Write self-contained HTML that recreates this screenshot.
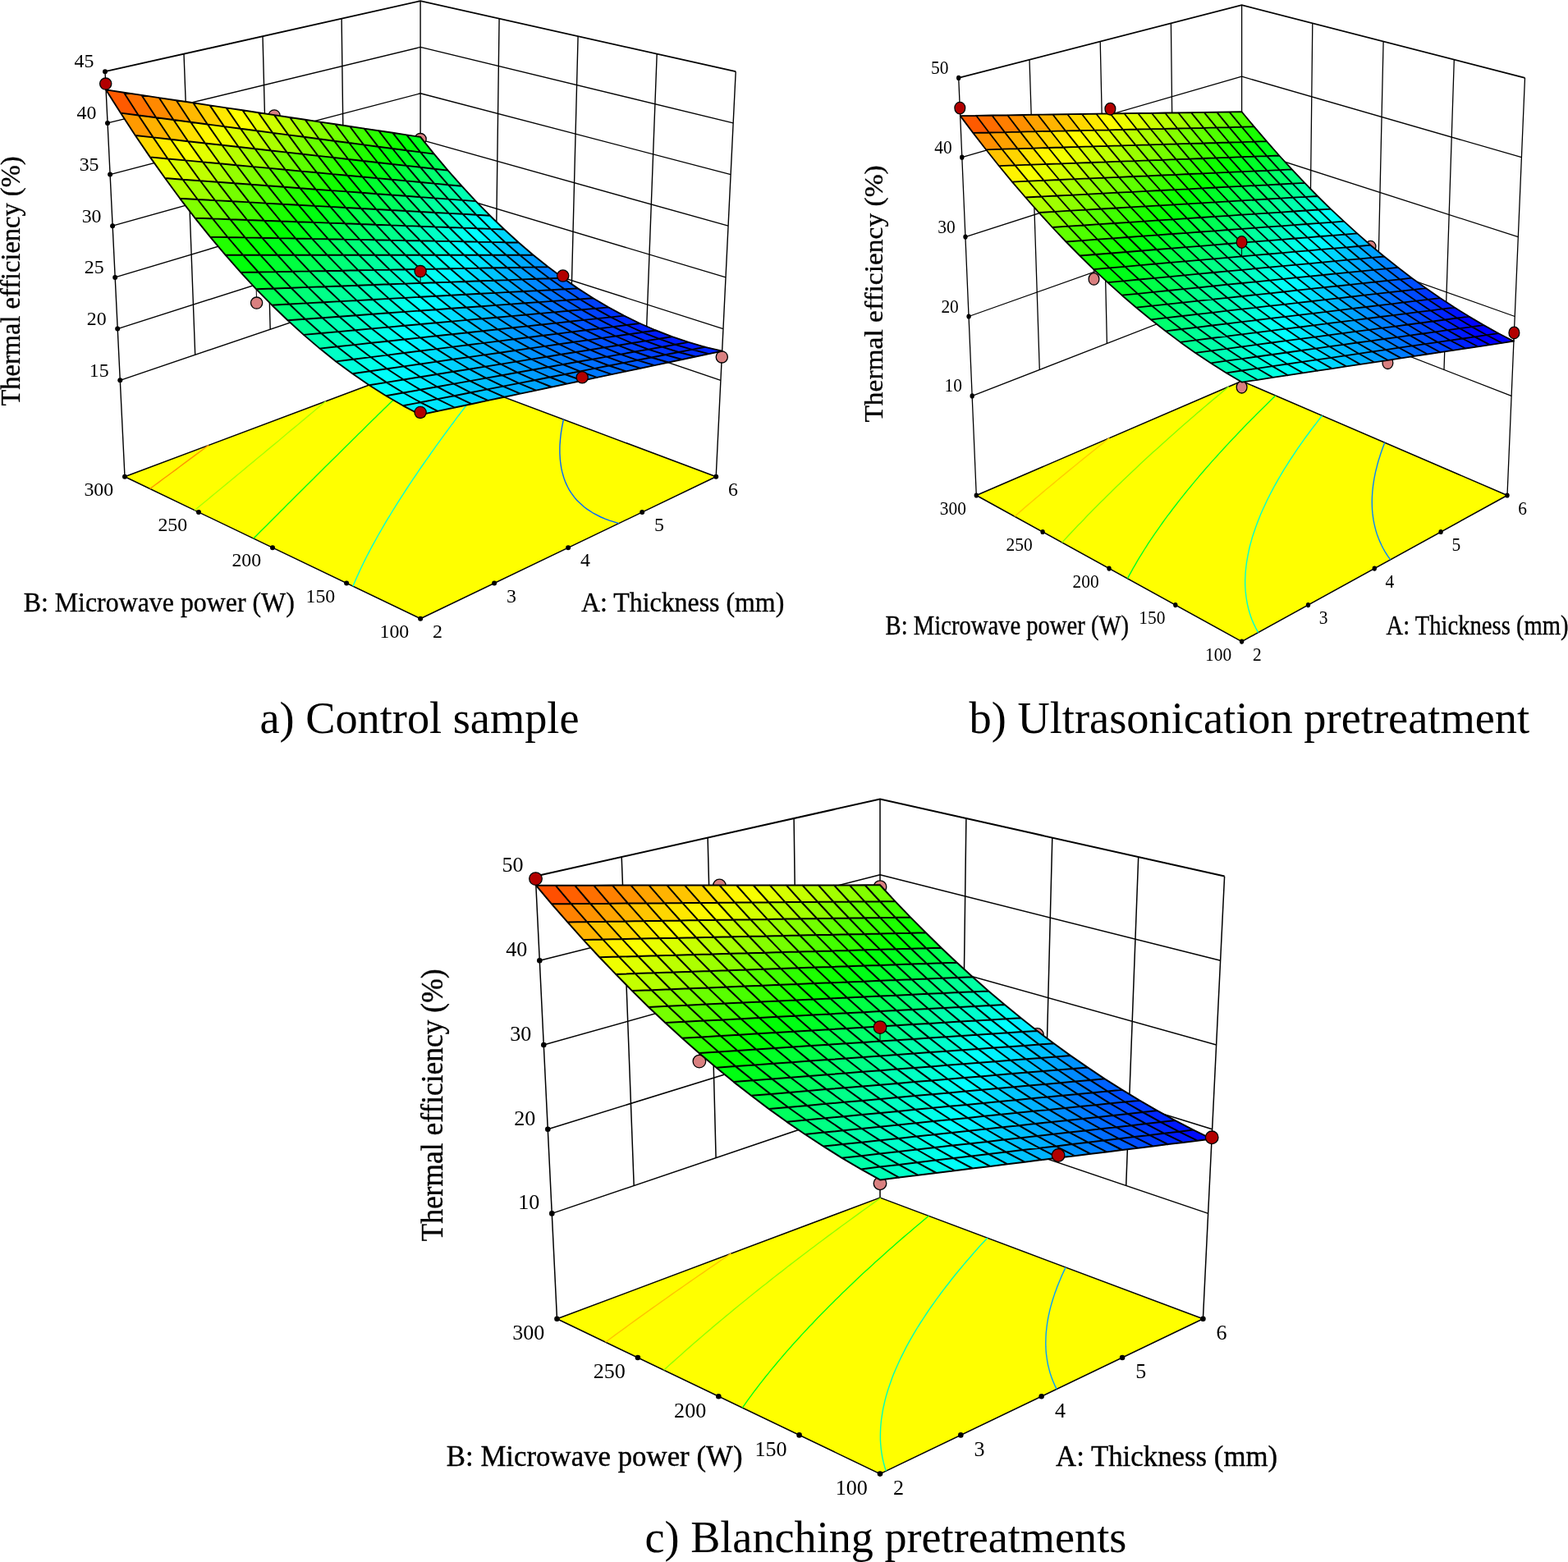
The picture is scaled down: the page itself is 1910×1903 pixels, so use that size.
<!DOCTYPE html>
<html><head><meta charset="utf-8"><title>Thermal efficiency response surfaces</title>
<style>
html,body{margin:0;padding:0;background:#fff}
svg{display:block}
text{font-family:"Liberation Serif","Times New Roman",Times,serif;fill:#000}
.at{stroke:#000;stroke-width:.35px}
</style></head><body>
<svg width="1910" height="1903" viewBox="0 0 1910 1903">
<rect width="1910" height="1903" fill="#fff"/>
<path d="M146.3,463.3 L512.1,339.2 L877.9,463.3 M143.2,400.6 L512.1,282.8 L880.9,400.6 M140.2,337.9 L512.1,226.5 L884,337.9 M137.1,275.2 L512.1,170.1 L887,275.2 M134.1,212.6 L512.1,113.8 L890.1,212.6 M131,149.9 L512.1,57.4 L893.1,149.9" fill="none" stroke="#000" stroke-width="1.4" stroke-linejoin="round"/>
<path d="M128,87.2 L512.1,1.1 L896.2,87.2" fill="none" stroke="#000" stroke-width="1.8" stroke-linejoin="miter"/>
<path d="M237.7,432.2 L224,65.7 M603.5,370.2 L608.1,22.6 M329.2,401.2 L320,44.1 M695,401.2 L704.1,44.1 M420.6,370.2 L416.1,22.6 M786.4,432.2 L800.2,65.7 M128,87.2 L152,580.8 M512.1,1.1 L512.1,445.6 M896.2,87.2 L872.2,580.8" fill="none" stroke="#000" stroke-width="1.4"/>
<polygon points="152,580.8 512.1,445.6 872.2,580.8 512.1,753.7" fill="#ffff00" stroke="#000" stroke-width="1.5" stroke-linejoin="round"/>
<polyline points="753.9,637.6 742.4,634.1 737.1,632.1 732.1,630 723.1,625.5 715.3,620.4 711.7,617.8 705.4,612.1 702.5,609.2 699.5,605.6 695.7,600.3 693.3,596.6 691.5,593.3 689.9,589.9 688.4,586.5 686.9,582.3 685.7,578.2 684.6,574.2 683.8,570.4 683.2,566.6 682.7,562.9 682.3,559.3 682.1,555.8 681.9,552.3 681.9,548.8 681.9,545.5 682,542.1 682.3,538.4 682.6,534.5 683,530.6 683.5,526.7 684.1,523.1 684.6,520 685.2,517 685.8,514 686.4,511" fill="none" stroke="#0065ff" stroke-width="1.4"/>
<polyline points="429.9,714.2 431.6,710.2 433.5,705.8 436,700.2 438.5,694.7 440.3,691 442.1,687.2 444,683.4 446.8,677.8 449.5,672.6 451.4,669 453.3,665.4 455.7,661.1 458.8,655.5 461,651.5 463,648.1 465.1,644.5 468.3,638.9 470.8,634.6 472.8,631.4 474.9,628 478.2,622.5 480.8,618.4 482.8,615.2 485,611.6 488.5,606.2 490.8,602.7 492.7,599.6 495.4,595.5 498.7,590.4 500.8,587.4 502.7,584.4 506.1,579.5 508.7,575.6 510.7,572.7 513.2,569 516.7,564 518.7,561.2 520.7,558.3 524.1,553.5 526.6,549.9 528.6,547.1 531.4,543.2 534.5,538.9 536.5,536.2 538.7,533.1 542.3,528.1 544.3,525.5 546.2,522.8 549.7,518.1 552.1,515 554,512.4 557.1,508.2 559.8,504.7 561.7,502.2 564.5,498.5 567.4,494.7 569.3,492.2 571.8,488.9 575,484.8 576.9,482.4 579.1,479.4 582.5,475.1 584.3,472.7" fill="none" stroke="#00ffd8" stroke-width="1.4"/>
<polyline points="308.8,656.1 311.9,653 318,646.8 321.1,643.8 325.2,639.7 330.1,634.7 333.1,631.7 338.4,626.4 342,622.8 344.9,619.9 350.7,614.1 353.6,611.2 357.8,607.1 362.3,602.6 365.1,599.7 370.4,594.4 373.6,591.3 376.7,588.2 382,583 384.7,580.2 389,575.9 393,572 395.7,569.3 401.1,564 403.8,561.3 407.2,558 411.8,553.4 414.5,550.7 419,546.2 422.3,543 424.9,540.4 430.1,535.3 432.7,532.7 436.4,529 440.4,525.2 442.9,522.7 447.8,517.8 450.4,515.3 453.4,512.3 457.9,507.9 460.3,505.5 464.5,501.4 467.7,498.3 470.1,495.9 474.9,491.2 477.3,488.9 480.8,485.4 484.4,481.9 486.8,479.6 491.5,475 493.8,472.7 496.8,469.8 500.8,465.9 503.1,463.6 507.2,459.6 509.9,456.9 512.3,454.6 516.7,450.3 518.9,448.2" fill="none" stroke="#00ff18" stroke-width="1.4"/>
<polyline points="237.1,621.7 243.9,616 247.3,613.2 253.1,608.5 257.4,604.9 261.5,601.5 267.3,596.7 270.6,594 277.1,588.6 280.3,586 286.2,581.1 289.9,578 294.2,574.5 299.4,570.1 302.5,567.5 308.8,562.4 311.8,559.8 317.6,555 321,552.2 325.2,548.6 330.1,544.6 333.1,542.1 339.1,537.2 342,534.7 347.6,530 350.8,527.3 354.9,523.9 359.5,520.1 362.4,517.7 368.1,512.9 370.9,510.6 376.2,506.1 379.4,503.5 383.2,500.3 387.7,496.5 390.4,494.2 395.9,489.7 396.9,488.8" fill="none" stroke="#a9ff00" stroke-width="1.4"/>
<polyline points="182.6,595.5 189,590.7 193.3,587.6 198.7,583.5 203.9,579.8 208.3,576.5 214.3,572.1 217.7,569.5 224.5,564.4 227.9,561.9 234.7,556.9 238,554.4 244.7,549.5 248,547 254.1,542.4" fill="none" stroke="#ff9500" stroke-width="1.4"/>
<ellipse cx="146.3" cy="463.3" rx="3" ry="3" fill="#000"/>
<ellipse cx="143.2" cy="400.6" rx="3" ry="3" fill="#000"/>
<ellipse cx="140.2" cy="337.9" rx="3" ry="3" fill="#000"/>
<ellipse cx="137.1" cy="275.2" rx="3" ry="3" fill="#000"/>
<ellipse cx="134.1" cy="212.6" rx="3" ry="3" fill="#000"/>
<ellipse cx="131" cy="149.9" rx="3" ry="3" fill="#000"/>
<ellipse cx="128" cy="87.2" rx="3" ry="3" fill="#000"/>
<ellipse cx="512.1" cy="753.7" rx="3" ry="3" fill="#000"/>
<ellipse cx="422.1" cy="710.4" rx="3" ry="3" fill="#000"/>
<ellipse cx="602.1" cy="710.4" rx="3" ry="3" fill="#000"/>
<ellipse cx="332" cy="667.2" rx="3" ry="3" fill="#000"/>
<ellipse cx="692.1" cy="667.2" rx="3" ry="3" fill="#000"/>
<ellipse cx="242" cy="624" rx="3" ry="3" fill="#000"/>
<ellipse cx="782.2" cy="624" rx="3" ry="3" fill="#000"/>
<ellipse cx="152" cy="580.8" rx="3" ry="3" fill="#000"/>
<ellipse cx="872.2" cy="580.8" rx="3" ry="3" fill="#000"/>
<ellipse cx="512.1" cy="169.6" rx="7.1" ry="7.1" fill="#d98080" stroke="#000" stroke-width="1.3"/>
<line x1="879.3" y1="434.9" x2="879.6" y2="427.7" stroke="#000" stroke-width="1"/><ellipse cx="879.3" cy="434.9" rx="7.1" ry="7.1" fill="#d98080" stroke="#000" stroke-width="1.3"/>
<ellipse cx="334.1" cy="140.9" rx="7.1" ry="7.1" fill="#d98080" stroke="#000" stroke-width="1.3"/>
<line x1="312.6" y1="369.1" x2="312.2" y2="352.3" stroke="#000" stroke-width="1"/><ellipse cx="312.6" cy="369.1" rx="7.1" ry="7.1" fill="#d98080" stroke="#000" stroke-width="1.3"/>
<g stroke-width="0.6" stroke-linejoin="round">
<polygon points="512.1,185.4 528.8,187.6 512.1,166.9 495.3,164.4" fill="#00ff1f" stroke="#00ff1f"/>
<polygon points="495.2,183.2 512.1,185.4 495.3,164.4 478.4,161.8" fill="#00ff07" stroke="#00ff07"/>
<polygon points="528.9,205.7 545.6,207.6 528.8,187.6 512.1,185.4" fill="#00ff53" stroke="#00ff53"/>
<polygon points="478,181 495.2,183.2 478.4,161.8 461.2,159.2" fill="#10ff00" stroke="#10ff00"/>
<polygon points="512.1,203.8 528.9,205.7 512.1,185.4 495.2,183.2" fill="#00ff3c" stroke="#00ff3c"/>
<polygon points="545.9,225.2 562.5,226.7 545.6,207.6 528.9,205.7" fill="#00ff84" stroke="#00ff84"/>
<polygon points="460.6,178.7 478,181 461.2,159.2 443.7,156.6" fill="#28ff00" stroke="#28ff00"/>
<polygon points="495,201.9 512.1,203.8 495.2,183.2 478,181" fill="#00ff25" stroke="#00ff25"/>
<polygon points="529.1,223.6 545.9,225.2 528.9,205.7 512.1,203.8" fill="#00ff6e" stroke="#00ff6e"/>
<polygon points="563.1,243.9 579.6,245.1 562.5,226.7 545.9,225.2" fill="#00ffb2" stroke="#00ffb2"/>
<polygon points="477.7,200 495,201.9 478,181 460.6,178.7" fill="#00ff0e" stroke="#00ff0e"/>
<polygon points="512.1,222 529.1,223.6 512.1,203.8 495,201.9" fill="#00ff57" stroke="#00ff57"/>
<polygon points="546.3,242.6 563.1,243.9 545.9,225.2 529.1,223.6" fill="#00ff9c" stroke="#00ff9c"/>
<polygon points="443,176.4 460.6,178.7 443.7,156.6 426.1,154" fill="#40ff00" stroke="#40ff00"/>
<polygon points="580.4,261.8 596.9,262.7 579.6,245.1 563.1,243.9" fill="#00ffdc" stroke="#00ffdc"/>
<polygon points="494.8,220.4 512.1,222 495,201.9 477.7,200" fill="#00ff41" stroke="#00ff41"/>
<polygon points="529.3,241.4 546.3,242.6 529.1,223.6 512.1,222" fill="#00ff86" stroke="#00ff86"/>
<polygon points="425.2,174 443,176.4 426.1,154 408.2,151.3" fill="#58ff00" stroke="#58ff00"/>
<polygon points="460.1,198 477.7,200 460.6,178.7 443,176.4" fill="#09ff00" stroke="#09ff00"/>
<polygon points="563.6,260.8 580.4,261.8 563.1,243.9 546.3,242.6" fill="#00ffc7" stroke="#00ffc7"/>
<polygon points="597.8,278.9 614.3,279.5 596.9,262.7 580.4,261.8" fill="#00fbff" stroke="#00fbff"/>
<polygon points="407.1,171.7 425.2,174 408.2,151.3 390,148.6" fill="#70ff00" stroke="#70ff00"/>
<polygon points="442.3,196 460.1,198 443,176.4 425.2,174" fill="#20ff00" stroke="#20ff00"/>
<polygon points="477.3,218.8 494.8,220.4 477.7,200 460.1,198" fill="#00ff2a" stroke="#00ff2a"/>
<polygon points="512.1,240.1 529.3,241.4 512.1,222 494.8,220.4" fill="#00ff70" stroke="#00ff70"/>
<polygon points="546.7,259.9 563.6,260.8 546.3,242.6 529.3,241.4" fill="#00ffb2" stroke="#00ffb2"/>
<polygon points="581.1,278.3 597.8,278.9 580.4,261.8 563.6,260.8" fill="#00ffef" stroke="#00ffef"/>
<polygon points="615.4,295.2 631.8,295.5 614.3,279.5 597.8,278.9" fill="#00d6ff" stroke="#00d6ff"/>
<polygon points="388.7,169.3 407.1,171.7 390,148.6 371.6,145.8" fill="#87ff00" stroke="#87ff00"/>
<polygon points="424.3,194 442.3,196 425.2,174 407.1,171.7" fill="#37ff00" stroke="#37ff00"/>
<polygon points="459.5,217.1 477.3,218.8 460.1,198 442.3,196" fill="#00ff14" stroke="#00ff14"/>
<polygon points="494.6,238.8 512.1,240.1 494.8,220.4 477.3,218.8" fill="#00ff5b" stroke="#00ff5b"/>
<polygon points="529.5,259 546.7,259.9 529.3,241.4 512.1,240.1" fill="#00ff9d" stroke="#00ff9d"/>
<polygon points="564.2,277.6 581.1,278.3 563.6,260.8 546.7,259.9" fill="#00ffdb" stroke="#00ffdb"/>
<polygon points="598.8,294.9 615.4,295.2 597.8,278.9 581.1,278.3" fill="#00eaff" stroke="#00eaff"/>
<polygon points="633.2,310.7 649.6,310.7 631.8,295.5 615.4,295.2" fill="#00b5ff" stroke="#00b5ff"/>
<polygon points="370.1,166.8 388.7,169.3 371.6,145.8 353,143" fill="#9fff00" stroke="#9fff00"/>
<polygon points="406,191.9 424.3,194 407.1,171.7 388.7,169.3" fill="#4fff00" stroke="#4fff00"/>
<polygon points="441.5,215.5 459.5,217.1 442.3,196 424.3,194" fill="#03ff00" stroke="#03ff00"/>
<polygon points="476.9,237.5 494.6,238.8 477.3,218.8 459.5,217.1" fill="#00ff45" stroke="#00ff45"/>
<polygon points="512.1,258 529.5,259 512.1,240.1 494.6,238.8" fill="#00ff88" stroke="#00ff88"/>
<polygon points="547.1,277 564.2,277.6 546.7,259.9 529.5,259" fill="#00ffc6" stroke="#00ffc6"/>
<polygon points="581.9,294.6 598.8,294.9 581.1,278.3 564.2,277.6" fill="#00feff" stroke="#00feff"/>
<polygon points="616.6,310.7 633.2,310.7 615.4,295.2 598.8,294.9" fill="#00c9ff" stroke="#00c9ff"/>
<polygon points="651.2,325.4 667.5,325.1 649.6,310.7 633.2,310.7" fill="#0098ff" stroke="#0098ff"/>
<polygon points="387.4,189.9 406,191.9 388.7,169.3 370.1,166.8" fill="#66ff00" stroke="#66ff00"/>
<polygon points="423.3,213.8 441.5,215.5 424.3,194 406,191.9" fill="#19ff00" stroke="#19ff00"/>
<polygon points="459,236.2 476.9,237.5 459.5,217.1 441.5,215.5" fill="#00ff2f" stroke="#00ff2f"/>
<polygon points="564.8,294.2 581.9,294.6 564.2,277.6 547.1,277" fill="#00ffec" stroke="#00ffec"/>
<polygon points="599.8,310.7 616.6,310.7 598.8,294.9 581.9,294.6" fill="#00dcff" stroke="#00dcff"/>
<polygon points="634.6,325.7 651.2,325.4 633.2,310.7 616.6,310.7" fill="#00aaff" stroke="#00aaff"/>
<polygon points="351.3,164.4 370.1,166.8 353,143 334,140.1" fill="#b7ff00" stroke="#b7ff00"/>
<polygon points="494.4,257 512.1,258 494.6,238.8 476.9,237.5" fill="#00ff73" stroke="#00ff73"/>
<polygon points="529.7,276.4 547.1,277 529.5,259 512.1,258" fill="#00ffb2" stroke="#00ffb2"/>
<polygon points="669.3,339.2 685.6,338.6 667.5,325.1 651.2,325.4" fill="#007dff" stroke="#007dff"/>
<polygon points="404.8,212.1 423.3,213.8 406,191.9 387.4,189.9" fill="#2fff00" stroke="#2fff00"/>
<polygon points="440.8,234.8 459,236.2 441.5,215.5 423.3,213.8" fill="#00ff19" stroke="#00ff19"/>
<polygon points="582.7,310.7 599.8,310.7 581.9,294.6 564.8,294.2" fill="#00efff" stroke="#00efff"/>
<polygon points="617.8,326 634.6,325.7 616.6,310.7 599.8,310.7" fill="#00bcff" stroke="#00bcff"/>
<polygon points="332.1,161.9 351.3,164.4 334,140.1 314.8,137.3" fill="#cfff00" stroke="#cfff00"/>
<polygon points="368.6,187.8 387.4,189.9 370.1,166.8 351.3,164.4" fill="#7dff00" stroke="#7dff00"/>
<polygon points="476.5,256 494.4,257 476.9,237.5 459,236.2" fill="#00ff5e" stroke="#00ff5e"/>
<polygon points="512.1,275.7 529.7,276.4 512.1,258 494.4,257" fill="#00ff9d" stroke="#00ff9d"/>
<polygon points="547.5,293.9 564.8,294.2 547.1,277 529.7,276.4" fill="#00ffd9" stroke="#00ffd9"/>
<polygon points="652.8,339.8 669.3,339.2 651.2,325.4 634.6,325.7" fill="#008fff" stroke="#008fff"/>
<polygon points="687.7,352.3 703.9,351.4 685.6,338.6 669.3,339.2" fill="#0066ff" stroke="#0066ff"/>
<polygon points="422.3,233.4 440.8,234.8 423.3,213.8 404.8,212.1" fill="#00ff04" stroke="#00ff04"/>
<polygon points="600.8,326.3 617.8,326 599.8,310.7 582.7,310.7" fill="#00cfff" stroke="#00cfff"/>
<polygon points="386,210.3 404.8,212.1 387.4,189.9 368.6,187.8" fill="#46ff00" stroke="#46ff00"/>
<polygon points="458.4,255 476.5,256 459,236.2 440.8,234.8" fill="#00ff49" stroke="#00ff49"/>
<polygon points="494.2,275.1 512.1,275.7 494.4,257 476.5,256" fill="#00ff89" stroke="#00ff89"/>
<polygon points="529.9,293.6 547.5,293.9 529.7,276.4 512.1,275.7" fill="#00ffc5" stroke="#00ffc5"/>
<polygon points="565.4,310.7 582.7,310.7 564.8,294.2 547.5,293.9" fill="#00fffc" stroke="#00fffc"/>
<polygon points="636,340.4 652.8,339.8 634.6,325.7 617.8,326" fill="#00a0ff" stroke="#00a0ff"/>
<polygon points="312.7,159.3 332.1,161.9 314.8,137.3 295.4,134.3" fill="#e6ff00" stroke="#e6ff00"/>
<polygon points="349.5,185.6 368.6,187.8 351.3,164.4 332.1,161.9" fill="#94ff00" stroke="#94ff00"/>
<polygon points="671.2,353.2 687.7,352.3 669.3,339.2 652.8,339.8" fill="#0077ff" stroke="#0077ff"/>
<polygon points="706.2,364.5 722.5,363.3 703.9,351.4 687.7,352.3" fill="#0051ff" stroke="#0051ff"/>
<polygon points="293,156.7 312.7,159.3 295.4,134.3 275.6,131.4" fill="#feff00" stroke="#feff00"/>
<polygon points="330.2,183.5 349.5,185.6 332.1,161.9 312.7,159.3" fill="#abff00" stroke="#abff00"/>
<polygon points="367,208.6 386,210.3 368.6,187.8 349.5,185.6" fill="#5cff00" stroke="#5cff00"/>
<polygon points="403.6,232.1 422.3,233.4 404.8,212.1 386,210.3" fill="#12ff00" stroke="#12ff00"/>
<polygon points="440,254 458.4,255 440.8,234.8 422.3,233.4" fill="#00ff34" stroke="#00ff34"/>
<polygon points="476.1,274.4 494.2,275.1 476.5,256 458.4,255" fill="#00ff75" stroke="#00ff75"/>
<polygon points="512.1,293.3 529.9,293.6 512.1,275.7 494.2,275.1" fill="#00ffb1" stroke="#00ffb1"/>
<polygon points="547.9,310.7 565.4,310.7 547.5,293.9 529.9,293.6" fill="#00ffe9" stroke="#00ffe9"/>
<polygon points="583.5,326.6 600.8,326.3 582.7,310.7 565.4,310.7" fill="#00e1ff" stroke="#00e1ff"/>
<polygon points="619,341.1 636,340.4 617.8,326 600.8,326.3" fill="#00b2ff" stroke="#00b2ff"/>
<polygon points="654.4,354.1 671.2,353.2 652.8,339.8 636,340.4" fill="#0088ff" stroke="#0088ff"/>
<polygon points="689.7,365.7 706.2,364.5 687.7,352.3 671.2,353.2" fill="#0062ff" stroke="#0062ff"/>
<polygon points="725,375.9 741.2,374.4 722.5,363.3 706.2,364.5" fill="#0040ff" stroke="#0040ff"/>
<polygon points="457.8,273.7 476.1,274.4 458.4,255 440,254" fill="#00ff60" stroke="#00ff60"/>
<polygon points="494,293 512.1,293.3 494.2,275.1 476.1,274.4" fill="#00ff9e" stroke="#00ff9e"/>
<polygon points="530.1,310.7 547.9,310.7 529.9,293.6 512.1,293.3" fill="#00ffd6" stroke="#00ffd6"/>
<polygon points="566,326.9 583.5,326.6 565.4,310.7 547.9,310.7" fill="#00f4ff" stroke="#00f4ff"/>
<polygon points="273.1,154.1 293,156.7 275.6,131.4 255.6,128.4" fill="#ffe800" stroke="#ffe800"/>
<polygon points="310.5,181.3 330.2,183.5 312.7,159.3 293,156.7" fill="#c2ff00" stroke="#c2ff00"/>
<polygon points="347.7,206.8 367,208.6 349.5,185.6 330.2,183.5" fill="#73ff00" stroke="#73ff00"/>
<polygon points="384.6,230.7 403.6,232.1 386,210.3 367,208.6" fill="#28ff00" stroke="#28ff00"/>
<polygon points="421.3,253 440,254 422.3,233.4 403.6,232.1" fill="#00ff1f" stroke="#00ff1f"/>
<polygon points="601.8,341.7 619,341.1 600.8,326.3 583.5,326.6" fill="#00c4ff" stroke="#00c4ff"/>
<polygon points="637.5,355 654.4,354.1 636,340.4 619,341.1" fill="#0099ff" stroke="#0099ff"/>
<polygon points="673.1,366.9 689.7,365.7 671.2,353.2 654.4,354.1" fill="#0072ff" stroke="#0072ff"/>
<polygon points="708.6,377.3 725,375.9 706.2,364.5 689.7,365.7" fill="#0050ff" stroke="#0050ff"/>
<polygon points="744,386.4 760.2,384.6 741.2,374.4 725,375.9" fill="#0032ff" stroke="#0032ff"/>
<polygon points="290.6,179 310.5,181.3 293,156.7 273.1,154.1" fill="#d9ff00" stroke="#d9ff00"/>
<polygon points="328.1,204.9 347.7,206.8 330.2,183.5 310.5,181.3" fill="#89ff00" stroke="#89ff00"/>
<polygon points="365.4,229.2 384.6,230.7 367,208.6 347.7,206.8" fill="#3eff00" stroke="#3eff00"/>
<polygon points="475.7,292.6 494,293 476.1,274.4 457.8,273.7" fill="#00ff8a" stroke="#00ff8a"/>
<polygon points="512.1,310.7 530.1,310.7 512.1,293.3 494,293" fill="#00ffc3" stroke="#00ffc3"/>
<polygon points="548.3,327.2 566,326.9 547.9,310.7 530.1,310.7" fill="#00fff8" stroke="#00fff8"/>
<polygon points="656.1,368.1 673.1,366.9 654.4,354.1 637.5,355" fill="#0082ff" stroke="#0082ff"/>
<polygon points="691.9,378.8 708.6,377.3 689.7,365.7 673.1,366.9" fill="#0060ff" stroke="#0060ff"/>
<polygon points="727.6,388.1 744,386.4 725,375.9 708.6,377.3" fill="#0041ff" stroke="#0041ff"/>
<polygon points="252.8,151.5 273.1,154.1 255.6,128.4 235.3,125.3" fill="#ffd000" stroke="#ffd000"/>
<polygon points="439.2,273 457.8,273.7 440,254 421.3,253" fill="#00ff4c" stroke="#00ff4c"/>
<polygon points="584.4,342.3 601.8,341.7 583.5,326.6 566,326.9" fill="#00d6ff" stroke="#00d6ff"/>
<polygon points="763.3,396 779.4,394 760.2,384.6 744,386.4" fill="#0028ff" stroke="#0028ff"/>
<polygon points="402.4,251.9 421.3,253 403.6,232.1 384.6,230.7" fill="#00ff09" stroke="#00ff09"/>
<polygon points="620.3,355.9 637.5,355 619,341.1 601.8,341.7" fill="#00aaff" stroke="#00aaff"/>
<polygon points="493.8,310.7 512.1,310.7 494,293 475.7,292.6" fill="#00ffb0" stroke="#00ffb0"/>
<polygon points="530.3,327.6 548.3,327.2 530.1,310.7 512.1,310.7" fill="#00ffe6" stroke="#00ffe6"/>
<polygon points="308.3,203.1 328.1,204.9 310.5,181.3 290.6,179" fill="#9fff00" stroke="#9fff00"/>
<polygon points="345.9,227.8 365.4,229.2 347.7,206.8 328.1,204.9" fill="#53ff00" stroke="#53ff00"/>
<polygon points="675,380.4 691.9,378.8 673.1,366.9 656.1,368.1" fill="#006fff" stroke="#006fff"/>
<polygon points="711,389.9 727.6,388.1 708.6,377.3 691.9,378.8" fill="#0050ff" stroke="#0050ff"/>
<polygon points="270.4,176.8 290.6,179 273.1,154.1 252.8,151.5" fill="#f0ff00" stroke="#f0ff00"/>
<polygon points="457.1,292.3 475.7,292.6 457.8,273.7 439.2,273" fill="#00ff76" stroke="#00ff76"/>
<polygon points="566.7,343 584.4,342.3 566,326.9 548.3,327.2" fill="#00e7ff" stroke="#00e7ff"/>
<polygon points="746.9,398.1 763.3,396 744,386.4 727.6,388.1" fill="#0036ff" stroke="#0036ff"/>
<polygon points="383.2,250.9 402.4,251.9 384.6,230.7 365.4,229.2" fill="#0cff00" stroke="#0cff00"/>
<polygon points="420.3,272.3 439.2,273 421.3,253 402.4,251.9" fill="#00ff38" stroke="#00ff38"/>
<polygon points="602.9,356.9 620.3,355.9 601.8,341.7 584.4,342.3" fill="#00bbff" stroke="#00bbff"/>
<polygon points="639,369.3 656.1,368.1 637.5,355 620.3,355.9" fill="#0093ff" stroke="#0093ff"/>
<polygon points="232.2,148.8 252.8,151.5 235.3,125.3 214.7,122.2" fill="#ffb900" stroke="#ffb900"/>
<polygon points="782.8,404.8 798.9,402.5 779.4,394 763.3,396" fill="#0020ff" stroke="#0020ff"/>
<polygon points="512.1,327.9 530.3,327.6 512.1,310.7 493.8,310.7" fill="#00ffd3" stroke="#00ffd3"/>
<polygon points="326.1,226.3 345.9,227.8 328.1,204.9 308.3,203.1" fill="#69ff00" stroke="#69ff00"/>
<polygon points="694.1,391.8 711,389.9 691.9,378.8 675,380.4" fill="#005fff" stroke="#005fff"/>
<polygon points="211.4,146 232.2,148.8 214.7,122.2 193.7,119.1" fill="#ffa100" stroke="#ffa100"/>
<polygon points="288.1,201.2 308.3,203.1 290.6,179 270.4,176.8" fill="#b6ff00" stroke="#b6ff00"/>
<polygon points="475.3,310.7 493.8,310.7 475.7,292.6 457.1,292.3" fill="#00ff9d" stroke="#00ff9d"/>
<polygon points="548.7,343.6 566.7,343 548.3,327.2 530.3,327.6" fill="#00f9ff" stroke="#00f9ff"/>
<polygon points="730.3,400.2 746.9,398.1 727.6,388.1 711,389.9" fill="#0044ff" stroke="#0044ff"/>
<polygon points="802.5,412.7 818.6,410.2 798.9,402.5 782.8,404.8" fill="#001cff" stroke="#001cff"/>
<polygon points="363.7,249.8 383.2,250.9 365.4,229.2 345.9,227.8" fill="#21ff00" stroke="#21ff00"/>
<polygon points="401.1,271.6 420.3,272.3 402.4,251.9 383.2,250.9" fill="#00ff23" stroke="#00ff23"/>
<polygon points="438.3,291.9 457.1,292.3 439.2,273 420.3,272.3" fill="#00ff62" stroke="#00ff62"/>
<polygon points="585.2,357.8 602.9,356.9 584.4,342.3 566.7,343" fill="#00ccff" stroke="#00ccff"/>
<polygon points="621.6,370.6 639,369.3 620.3,355.9 602.9,356.9" fill="#00a3ff" stroke="#00a3ff"/>
<polygon points="657.9,381.9 675,380.4 656.1,368.1 639,369.3" fill="#007fff" stroke="#007fff"/>
<polygon points="249.9,174.5 270.4,176.8 252.8,151.5 232.2,148.8" fill="#fff700" stroke="#fff700"/>
<polygon points="766.4,407.2 782.8,404.8 763.3,396 746.9,398.1" fill="#002eff" stroke="#002eff"/>
<polygon points="229.1,172.2 249.9,174.5 232.2,148.8 211.4,146" fill="#ffe000" stroke="#ffe000"/>
<polygon points="306,224.8 326.1,226.3 308.3,203.1 288.1,201.2" fill="#7fff00" stroke="#7fff00"/>
<polygon points="493.6,328.2 512.1,327.9 493.8,310.7 475.3,310.7" fill="#00ffc1" stroke="#00ffc1"/>
<polygon points="530.5,344.3 548.7,343.6 530.3,327.6 512.1,327.9" fill="#00fff3" stroke="#00fff3"/>
<polygon points="713.5,402.3 730.3,400.2 711,389.9 694.1,391.8" fill="#0053ff" stroke="#0053ff"/>
<polygon points="786.2,415.4 802.5,412.7 782.8,404.8 766.4,407.2" fill="#0029ff" stroke="#0029ff"/>
<polygon points="344,248.7 363.7,249.8 345.9,227.8 326.1,226.3" fill="#36ff00" stroke="#36ff00"/>
<polygon points="381.7,270.9 401.1,271.6 383.2,250.9 363.7,249.8" fill="#00ff0f" stroke="#00ff0f"/>
<polygon points="419.2,291.6 438.3,291.9 420.3,272.3 401.1,271.6" fill="#00ff4f" stroke="#00ff4f"/>
<polygon points="456.5,310.7 475.3,310.7 457.1,292.3 438.3,291.9" fill="#00ff8a" stroke="#00ff8a"/>
<polygon points="567.3,358.8 585.2,357.8 566.7,343 548.7,343.6" fill="#00ddff" stroke="#00ddff"/>
<polygon points="604,371.9 621.6,370.6 602.9,356.9 585.2,357.8" fill="#00b3ff" stroke="#00b3ff"/>
<polygon points="640.6,383.5 657.9,381.9 639,369.3 621.6,370.6" fill="#008fff" stroke="#008fff"/>
<polygon points="677,393.6 694.1,391.8 675,380.4 657.9,381.9" fill="#006eff" stroke="#006eff"/>
<polygon points="190.2,143.3 211.4,146 193.7,119.1 172.5,115.9" fill="#ff8900" stroke="#ff8900"/>
<polygon points="267.7,199.3 288.1,201.2 270.4,176.8 249.9,174.5" fill="#ccff00" stroke="#ccff00"/>
<polygon points="749.9,409.5 766.4,407.2 746.9,398.1 730.3,400.2" fill="#003bff" stroke="#003bff"/>
<polygon points="822.6,419.8 838.7,416.9 818.6,410.2 802.5,412.7" fill="#001bff" stroke="#001bff"/>
<polygon points="247,197.4 267.7,199.3 249.9,174.5 229.1,172.2" fill="#e3ff00" stroke="#e3ff00"/>
<polygon points="769.7,418 786.2,415.4 766.4,407.2 749.9,409.5" fill="#0036ff" stroke="#0036ff"/>
<polygon points="362,270.2 381.7,270.9 363.7,249.8 344,248.7" fill="#06ff00" stroke="#06ff00"/>
<polygon points="399.8,291.2 419.2,291.6 401.1,271.6 381.7,270.9" fill="#00ff3b" stroke="#00ff3b"/>
<polygon points="437.4,310.7 456.5,310.7 438.3,291.9 419.2,291.6" fill="#00ff77" stroke="#00ff77"/>
<polygon points="474.8,328.6 493.6,328.2 475.3,310.7 456.5,310.7" fill="#00ffaf" stroke="#00ffaf"/>
<polygon points="549.2,359.8 567.3,358.8 548.7,343.6 530.5,344.3" fill="#00eeff" stroke="#00eeff"/>
<polygon points="586.1,373.2 604,371.9 585.2,357.8 567.3,358.8" fill="#00c4ff" stroke="#00c4ff"/>
<polygon points="623,385.1 640.6,383.5 621.6,370.6 604,371.9" fill="#009eff" stroke="#009eff"/>
<polygon points="659.7,395.5 677,393.6 657.9,381.9 640.6,383.5" fill="#007dff" stroke="#007dff"/>
<polygon points="208,169.8 229.1,172.2 211.4,146 190.2,143.3" fill="#ffc900" stroke="#ffc900"/>
<polygon points="285.6,223.3 306,224.8 288.1,201.2 267.7,199.3" fill="#94ff00" stroke="#94ff00"/>
<polygon points="323.9,247.6 344,248.7 326.1,226.3 306,224.8" fill="#4bff00" stroke="#4bff00"/>
<polygon points="512.1,345 530.5,344.3 512.1,327.9 493.6,328.2" fill="#00ffe2" stroke="#00ffe2"/>
<polygon points="696.4,404.4 713.5,402.3 694.1,391.8 677,393.6" fill="#0061ff" stroke="#0061ff"/>
<polygon points="733.1,411.9 749.9,409.5 730.3,400.2 713.5,402.3" fill="#0049ff" stroke="#0049ff"/>
<polygon points="806.3,422.7 822.6,419.8 802.5,412.7 786.2,415.4" fill="#0027ff" stroke="#0027ff"/>
<polygon points="168.7,140.5 190.2,143.3 172.5,115.9 150.9,112.7" fill="#ff7100" stroke="#ff7100"/>
<polygon points="843,425.9 859,422.8 838.7,416.9 822.6,419.8" fill="#001dff" stroke="#001dff"/>
<polygon points="264.9,221.8 285.6,223.3 267.7,199.3 247,197.4" fill="#aaff00" stroke="#aaff00"/>
<polygon points="752.9,420.7 769.7,418 749.9,409.5 733.1,411.9" fill="#0043ff" stroke="#0043ff"/>
<polygon points="380.2,290.9 399.8,291.2 381.7,270.9 362,270.2" fill="#00ff27" stroke="#00ff27"/>
<polygon points="418.1,310.7 437.4,310.7 419.2,291.6 399.8,291.2" fill="#00ff64" stroke="#00ff64"/>
<polygon points="455.8,328.9 474.8,328.6 456.5,310.7 437.4,310.7" fill="#00ff9c" stroke="#00ff9c"/>
<polygon points="568,374.5 586.1,373.2 567.3,358.8 549.2,359.8" fill="#00d4ff" stroke="#00d4ff"/>
<polygon points="605.1,386.7 623,385.1 604,371.9 586.1,373.2" fill="#00aeff" stroke="#00aeff"/>
<polygon points="642.2,397.4 659.7,395.5 640.6,383.5 623,385.1" fill="#008cff" stroke="#008cff"/>
<polygon points="146.9,137.6 168.7,140.5 150.9,112.7 129.1,109.4" fill="#ff5a00" stroke="#ff5a00"/>
<polygon points="225.9,195.4 247,197.4 229.1,172.2 208,169.8" fill="#f9ff00" stroke="#f9ff00"/>
<polygon points="342,269.5 362,270.2 344,248.7 323.9,247.6" fill="#1aff00" stroke="#1aff00"/>
<polygon points="679.1,406.6 696.4,404.4 677,393.6 659.7,395.5" fill="#006fff" stroke="#006fff"/>
<polygon points="789.8,425.6 806.3,422.7 786.2,415.4 769.7,418" fill="#0033ff" stroke="#0033ff"/>
<polygon points="863.6,431.1 879.6,427.7 859,422.8 843,425.9" fill="#0022ff" stroke="#0022ff"/>
<polygon points="493.4,345.6 512.1,345 493.6,328.2 474.8,328.6" fill="#00ffd0" stroke="#00ffd0"/>
<polygon points="530.8,360.8 549.2,359.8 530.5,344.3 512.1,345" fill="#00ffff" stroke="#00ffff"/>
<polygon points="186.6,167.4 208,169.8 190.2,143.3 168.7,140.5" fill="#ffb100" stroke="#ffb100"/>
<polygon points="303.6,246.4 323.9,247.6 306,224.8 285.6,223.3" fill="#60ff00" stroke="#60ff00"/>
<polygon points="716,414.4 733.1,411.9 713.5,402.3 696.4,404.4" fill="#0057ff" stroke="#0057ff"/>
<polygon points="826.7,429 843,425.9 822.6,419.8 806.3,422.7" fill="#0028ff" stroke="#0028ff"/>
<polygon points="398.5,310.7 418.1,310.7 399.8,291.2 380.2,290.9" fill="#00ff51" stroke="#00ff51"/>
<polygon points="436.5,329.3 455.8,328.9 437.4,310.7 418.1,310.7" fill="#00ff8a" stroke="#00ff8a"/>
<polygon points="587,388.3 605.1,386.7 586.1,373.2 568,374.5" fill="#00beff" stroke="#00beff"/>
<polygon points="624.4,399.3 642.2,397.4 623,385.1 605.1,386.7" fill="#009bff" stroke="#009bff"/>
<polygon points="164.8,165 186.6,167.4 168.7,140.5 146.9,137.6" fill="#ff9a00" stroke="#ff9a00"/>
<polygon points="243.9,220.2 264.9,221.8 247,197.4 225.9,195.4" fill="#c0ff00" stroke="#c0ff00"/>
<polygon points="283,245.3 303.6,246.4 285.6,223.3 264.9,221.8" fill="#75ff00" stroke="#75ff00"/>
<polygon points="360.2,290.5 380.2,290.9 362,270.2 342,269.5" fill="#00ff14" stroke="#00ff14"/>
<polygon points="661.6,408.8 679.1,406.6 659.7,395.5 642.2,397.4" fill="#007eff" stroke="#007eff"/>
<polygon points="735.9,423.4 752.9,420.7 733.1,411.9 716,414.4" fill="#0050ff" stroke="#0050ff"/>
<polygon points="773.1,428.5 789.8,425.6 769.7,418 752.9,420.7" fill="#0040ff" stroke="#0040ff"/>
<polygon points="847.4,434.5 863.6,431.1 843,425.9 826.7,429" fill="#002dff" stroke="#002dff"/>
<polygon points="474.4,346.3 493.4,345.6 474.8,328.6 455.8,328.9" fill="#00ffbe" stroke="#00ffbe"/>
<polygon points="549.6,375.8 568,374.5 549.2,359.8 530.8,360.8" fill="#00e4ff" stroke="#00e4ff"/>
<polygon points="204.5,193.5 225.9,195.4 208,169.8 186.6,167.4" fill="#ffee00" stroke="#ffee00"/>
<polygon points="321.7,268.7 342,269.5 323.9,247.6 303.6,246.4" fill="#2eff00" stroke="#2eff00"/>
<polygon points="512.1,361.8 530.8,360.8 512.1,345 493.4,345.6" fill="#00ffee" stroke="#00ffee"/>
<polygon points="698.8,416.8 716,414.4 696.4,404.4 679.1,406.6" fill="#0064ff" stroke="#0064ff"/>
<polygon points="810.2,432.2 826.7,429 806.3,422.7 789.8,425.6" fill="#0034ff" stroke="#0034ff"/>
<polygon points="417,329.7 436.5,329.3 418.1,310.7 398.5,310.7" fill="#00ff78" stroke="#00ff78"/>
<polygon points="606.3,401.2 624.4,399.3 605.1,386.7 587,388.3" fill="#00aaff" stroke="#00aaff"/>
<polygon points="182.8,191.4 204.5,193.5 186.6,167.4 164.8,165" fill="#ffd800" stroke="#ffd800"/>
<polygon points="301.1,268 321.7,268.7 303.6,246.4 283,245.3" fill="#43ff00" stroke="#43ff00"/>
<polygon points="378.6,310.7 398.5,310.7 380.2,290.9 360.2,290.5" fill="#00ff3e" stroke="#00ff3e"/>
<polygon points="643.8,411 661.6,408.8 642.2,397.4 624.4,399.3" fill="#008cff" stroke="#008cff"/>
<polygon points="718.7,426.2 735.9,423.4 716,414.4 698.8,416.8" fill="#005dff" stroke="#005dff"/>
<polygon points="830.9,438 847.4,434.5 826.7,429 810.2,432.2" fill="#0038ff" stroke="#0038ff"/>
<polygon points="455.1,347 474.4,346.3 455.8,328.9 436.5,329.3" fill="#00ffad" stroke="#00ffad"/>
<polygon points="568.7,389.9 587,388.3 568,374.5 549.6,375.8" fill="#00cdff" stroke="#00cdff"/>
<polygon points="222.6,218.7 243.9,220.2 225.9,195.4 204.5,193.5" fill="#d6ff00" stroke="#d6ff00"/>
<polygon points="262,244.1 283,245.3 264.9,221.8 243.9,220.2" fill="#8aff00" stroke="#8aff00"/>
<polygon points="340,290.1 360.2,290.5 342,269.5 321.7,268.7" fill="#00ff00" stroke="#00ff00"/>
<polygon points="493.1,362.9 512.1,361.8 493.4,345.6 474.4,346.3" fill="#00ffdd" stroke="#00ffdd"/>
<polygon points="531,377.2 549.6,375.8 530.8,360.8 512.1,361.8" fill="#00f5ff" stroke="#00f5ff"/>
<polygon points="681.3,419.3 698.8,416.8 679.1,406.6 661.6,408.8" fill="#0072ff" stroke="#0072ff"/>
<polygon points="756.1,431.6 773.1,428.5 752.9,420.7 735.9,423.4" fill="#004cff" stroke="#004cff"/>
<polygon points="793.5,435.5 810.2,432.2 789.8,425.6 773.1,428.5" fill="#0040ff" stroke="#0040ff"/>
<polygon points="201,217 222.6,218.7 204.5,193.5 182.8,191.4" fill="#ebff00" stroke="#ebff00"/>
<polygon points="319.4,289.8 340,290.1 321.7,268.7 301.1,268" fill="#14ff00" stroke="#14ff00"/>
<polygon points="397.1,330 417,329.7 398.5,310.7 378.6,310.7" fill="#00ff65" stroke="#00ff65"/>
<polygon points="625.8,413.3 643.8,411 624.4,399.3 606.3,401.2" fill="#009aff" stroke="#009aff"/>
<polygon points="701.2,429 718.7,426.2 698.8,416.8 681.3,419.3" fill="#006aff" stroke="#006aff"/>
<polygon points="814.2,441.5 830.9,438 810.2,432.2 793.5,435.5" fill="#0043ff" stroke="#0043ff"/>
<polygon points="435.6,347.7 455.1,347 436.5,329.3 417,329.7" fill="#00ff9b" stroke="#00ff9b"/>
<polygon points="588,403.2 606.3,401.2 587,388.3 568.7,389.9" fill="#00b9ff" stroke="#00b9ff"/>
<polygon points="280.2,267.2 301.1,268 283,245.3 262,244.1" fill="#57ff00" stroke="#57ff00"/>
<polygon points="358.4,310.7 378.6,310.7 360.2,290.5 340,290.1" fill="#00ff2b" stroke="#00ff2b"/>
<polygon points="473.9,363.9 493.1,362.9 474.4,346.3 455.1,347" fill="#00ffcc" stroke="#00ffcc"/>
<polygon points="512.1,378.5 531,377.2 512.1,361.8 493.1,362.9" fill="#00fff9" stroke="#00fff9"/>
<polygon points="550.1,391.6 568.7,389.9 549.6,375.8 531,377.2" fill="#00ddff" stroke="#00ddff"/>
<polygon points="663.5,421.9 681.3,419.3 661.6,408.8 643.8,411" fill="#0080ff" stroke="#0080ff"/>
<polygon points="738.9,434.6 756.1,431.6 735.9,423.4 718.7,426.2" fill="#0058ff" stroke="#0058ff"/>
<polygon points="240.8,243 262,244.1 243.9,220.2 222.6,218.7" fill="#9fff00" stroke="#9fff00"/>
<polygon points="776.5,438.8 793.5,435.5 773.1,428.5 756.1,431.6" fill="#004bff" stroke="#004bff"/>
<polygon points="337.9,310.7 358.4,310.7 340,290.1 319.4,289.8" fill="#00ff18" stroke="#00ff18"/>
<polygon points="683.5,431.8 701.2,429 681.3,419.3 663.5,421.9" fill="#0077ff" stroke="#0077ff"/>
<polygon points="219.2,241.8 240.8,243 222.6,218.7 201,217" fill="#b4ff00" stroke="#b4ff00"/>
<polygon points="298.6,289.4 319.4,289.8 301.1,268 280.2,267.2" fill="#28ff00" stroke="#28ff00"/>
<polygon points="377,330.4 397.1,330 378.6,310.7 358.4,310.7" fill="#00ff53" stroke="#00ff53"/>
<polygon points="415.8,348.5 435.6,347.7 417,329.7 397.1,330" fill="#00ff89" stroke="#00ff89"/>
<polygon points="454.4,365 473.9,363.9 455.1,347 435.6,347.7" fill="#00ffbb" stroke="#00ffbb"/>
<polygon points="492.9,379.9 512.1,378.5 493.1,362.9 473.9,363.9" fill="#00ffe9" stroke="#00ffe9"/>
<polygon points="531.2,393.3 550.1,391.6 531,377.2 512.1,378.5" fill="#00edff" stroke="#00edff"/>
<polygon points="569.4,405.2 588,403.2 568.7,389.9 550.1,391.6" fill="#00c8ff" stroke="#00c8ff"/>
<polygon points="607.5,415.6 625.8,413.3 606.3,401.2 588,403.2" fill="#00a9ff" stroke="#00a9ff"/>
<polygon points="645.5,424.4 663.5,421.9 643.8,411 625.8,413.3" fill="#008dff" stroke="#008dff"/>
<polygon points="721.4,437.7 738.9,434.6 718.7,426.2 701.2,429" fill="#0064ff" stroke="#0064ff"/>
<polygon points="797.3,445.1 814.2,441.5 793.5,435.5 776.5,438.8" fill="#004eff" stroke="#004eff"/>
<polygon points="259,266.4 280.2,267.2 262,244.1 240.8,243" fill="#6cff00" stroke="#6cff00"/>
<polygon points="759.4,442.1 776.5,438.8 756.1,431.6 738.9,434.6" fill="#0057ff" stroke="#0057ff"/>
<polygon points="356.5,330.8 377,330.4 358.4,310.7 337.9,310.7" fill="#00ff40" stroke="#00ff40"/>
<polygon points="665.5,434.7 683.5,431.8 663.5,421.9 645.5,424.4" fill="#0084ff" stroke="#0084ff"/>
<polygon points="237.5,265.6 259,266.4 240.8,243 219.2,241.8" fill="#80ff00" stroke="#80ff00"/>
<polygon points="317.1,310.7 337.9,310.7 319.4,289.8 298.6,289.4" fill="#00ff05" stroke="#00ff05"/>
<polygon points="473.4,381.3 492.9,379.9 473.9,363.9 454.4,365" fill="#00ffd8" stroke="#00ffd8"/>
<polygon points="512.1,395 531.2,393.3 512.1,378.5 492.9,379.9" fill="#00fcff" stroke="#00fcff"/>
<polygon points="550.6,407.2 569.4,405.2 550.1,391.6 531.2,393.3" fill="#00d7ff" stroke="#00d7ff"/>
<polygon points="703.8,440.8 721.4,437.7 701.2,429 683.5,431.8" fill="#0071ff" stroke="#0071ff"/>
<polygon points="780.1,448.7 797.3,445.1 776.5,438.8 759.4,442.1" fill="#0059ff" stroke="#0059ff"/>
<polygon points="434.7,366.1 454.4,365 435.6,347.7 415.8,348.5" fill="#00ffaa" stroke="#00ffaa"/>
<polygon points="589,417.9 607.5,415.6 588,403.2 569.4,405.2" fill="#00b7ff" stroke="#00b7ff"/>
<polygon points="277.4,289 298.6,289.4 280.2,267.2 259,266.4" fill="#3bff00" stroke="#3bff00"/>
<polygon points="395.7,349.2 415.8,348.5 397.1,330 377,330.4" fill="#00ff78" stroke="#00ff78"/>
<polygon points="627.3,427 645.5,424.4 625.8,413.3 607.5,415.6" fill="#009bff" stroke="#009bff"/>
<polygon points="741.9,445.5 759.4,442.1 738.9,434.6 721.4,437.7" fill="#0062ff" stroke="#0062ff"/>
<polygon points="256,288.6 277.4,289 259,266.4 237.5,265.6" fill="#4fff00" stroke="#4fff00"/>
<polygon points="335.8,331.1 356.5,330.8 337.9,310.7 317.1,310.7" fill="#00ff2e" stroke="#00ff2e"/>
<polygon points="375.3,349.9 395.7,349.2 377,330.4 356.5,330.8" fill="#00ff66" stroke="#00ff66"/>
<polygon points="453.7,382.8 473.4,381.3 454.4,365 434.7,366.1" fill="#00ffc8" stroke="#00ffc8"/>
<polygon points="492.7,396.8 512.1,395 492.9,379.9 473.4,381.3" fill="#00fff2" stroke="#00fff2"/>
<polygon points="531.5,409.3 550.6,407.2 531.2,393.3 512.1,395" fill="#00e6ff" stroke="#00e6ff"/>
<polygon points="570.2,420.2 589,417.9 569.4,405.2 550.6,407.2" fill="#00c5ff" stroke="#00c5ff"/>
<polygon points="647.3,437.6 665.5,434.7 645.5,424.4 627.3,427" fill="#0091ff" stroke="#0091ff"/>
<polygon points="685.8,444 703.8,440.8 683.5,431.8 665.5,434.7" fill="#007dff" stroke="#007dff"/>
<polygon points="762.7,452.4 780.1,448.7 759.4,442.1 741.9,445.5" fill="#0064ff" stroke="#0064ff"/>
<polygon points="296,310.7 317.1,310.7 298.6,289.4 277.4,289" fill="#0eff00" stroke="#0eff00"/>
<polygon points="724.3,448.9 741.9,445.5 721.4,437.7 703.8,440.8" fill="#006eff" stroke="#006eff"/>
<polygon points="414.6,367.1 434.7,366.1 415.8,348.5 395.7,349.2" fill="#00ff99" stroke="#00ff99"/>
<polygon points="608.8,429.7 627.3,427 607.5,415.6 589,417.9" fill="#00a9ff" stroke="#00a9ff"/>
<polygon points="274.6,310.7 296,310.7 277.4,289 256,288.6" fill="#21ff00" stroke="#21ff00"/>
<polygon points="512.1,411.4 531.5,409.3 512.1,395 492.7,396.8" fill="#00f5ff" stroke="#00f5ff"/>
<polygon points="745.1,456.1 762.7,452.4 741.9,445.5 724.3,448.9" fill="#006eff" stroke="#006eff"/>
<polygon points="314.7,331.5 335.8,331.1 317.1,310.7 296,310.7" fill="#00ff1c" stroke="#00ff1c"/>
<polygon points="354.6,350.7 375.3,349.9 356.5,330.8 335.8,331.1" fill="#00ff54" stroke="#00ff54"/>
<polygon points="394.2,368.3 414.6,367.1 395.7,349.2 375.3,349.9" fill="#00ff88" stroke="#00ff88"/>
<polygon points="433.7,384.2 453.7,382.8 434.7,366.1 414.6,367.1" fill="#00ffb7" stroke="#00ffb7"/>
<polygon points="472.9,398.6 492.7,396.8 473.4,381.3 453.7,382.8" fill="#00ffe2" stroke="#00ffe2"/>
<polygon points="551.1,422.6 570.2,420.2 550.6,407.2 531.5,409.3" fill="#00d4ff" stroke="#00d4ff"/>
<polygon points="590,432.4 608.8,429.7 589,417.9 570.2,420.2" fill="#00b6ff" stroke="#00b6ff"/>
<polygon points="628.8,440.6 647.3,437.6 627.3,427 608.8,429.7" fill="#009eff" stroke="#009eff"/>
<polygon points="667.6,447.2 685.8,444 665.5,434.7 647.3,437.6" fill="#0089ff" stroke="#0089ff"/>
<polygon points="706.4,452.4 724.3,448.9 703.8,440.8 685.8,444" fill="#007aff" stroke="#007aff"/>
<polygon points="293.3,331.9 314.7,331.5 296,310.7 274.6,310.7" fill="#00ff09" stroke="#00ff09"/>
<polygon points="413.3,385.7 433.7,384.2 414.6,367.1 394.2,368.3" fill="#00ffa7" stroke="#00ffa7"/>
<polygon points="492.4,413.5 512.1,411.4 492.7,396.8 472.9,398.6" fill="#00fffa" stroke="#00fffa"/>
<polygon points="531.7,425.1 551.1,422.6 531.5,409.3 512.1,411.4" fill="#00e2ff" stroke="#00e2ff"/>
<polygon points="610.1,443.6 628.8,440.6 608.8,429.7 590,432.4" fill="#00aaff" stroke="#00aaff"/>
<polygon points="727.2,459.9 745.1,456.1 724.3,448.9 706.4,452.4" fill="#0079ff" stroke="#0079ff"/>
<polygon points="333.5,351.5 354.6,350.7 335.8,331.1 314.7,331.5" fill="#00ff42" stroke="#00ff42"/>
<polygon points="373.5,369.4 394.2,368.3 375.3,349.9 354.6,350.7" fill="#00ff77" stroke="#00ff77"/>
<polygon points="452.9,400.4 472.9,398.6 453.7,382.8 433.7,384.2" fill="#00ffd3" stroke="#00ffd3"/>
<polygon points="570.9,435.1 590,432.4 570.2,420.2 551.1,422.6" fill="#00c4ff" stroke="#00c4ff"/>
<polygon points="649.1,450.5 667.6,447.2 647.3,437.6 628.8,440.6" fill="#0096ff" stroke="#0096ff"/>
<polygon points="688.2,456 706.4,452.4 685.8,444 667.6,447.2" fill="#0085ff" stroke="#0085ff"/>
<polygon points="312.2,352.3 333.5,351.5 314.7,331.5 293.3,331.9" fill="#00ff31" stroke="#00ff31"/>
<polygon points="392.7,387.2 413.3,385.7 394.2,368.3 373.5,369.4" fill="#00ff97" stroke="#00ff97"/>
<polygon points="432.6,402.2 452.9,400.4 433.7,384.2 413.3,385.7" fill="#00ffc3" stroke="#00ffc3"/>
<polygon points="472.4,415.7 492.4,413.5 472.9,398.6 452.9,400.4" fill="#00ffeb" stroke="#00ffeb"/>
<polygon points="512.1,427.5 531.7,425.1 512.1,411.4 492.4,413.5" fill="#00f0ff" stroke="#00f0ff"/>
<polygon points="551.6,437.8 570.9,435.1 551.1,422.6 531.7,425.1" fill="#00d2ff" stroke="#00d2ff"/>
<polygon points="591,446.6 610.1,443.6 590,432.4 570.9,435.1" fill="#00b7ff" stroke="#00b7ff"/>
<polygon points="630.4,453.8 649.1,450.5 628.8,440.6 610.1,443.6" fill="#00a2ff" stroke="#00a2ff"/>
<polygon points="709.1,463.7 727.2,459.9 706.4,452.4 688.2,456" fill="#0084ff" stroke="#0084ff"/>
<polygon points="352.6,370.5 373.5,369.4 354.6,350.7 333.5,351.5" fill="#00ff66" stroke="#00ff66"/>
<polygon points="669.7,459.5 688.2,456 667.6,447.2 649.1,450.5" fill="#0091ff" stroke="#0091ff"/>
<polygon points="452.2,417.8 472.4,415.7 452.9,400.4 432.6,402.2" fill="#00ffdc" stroke="#00ffdc"/>
<polygon points="571.7,449.7 591,446.6 570.9,435.1 551.6,437.8" fill="#00c4ff" stroke="#00c4ff"/>
<polygon points="331.2,371.7 352.6,370.5 333.5,351.5 312.2,352.3" fill="#00ff55" stroke="#00ff55"/>
<polygon points="371.7,388.7 392.7,387.2 373.5,369.4 352.6,370.5" fill="#00ff86" stroke="#00ff86"/>
<polygon points="412,404.1 432.6,402.2 413.3,385.7 392.7,387.2" fill="#00ffb3" stroke="#00ffb3"/>
<polygon points="492.1,430 512.1,427.5 492.4,413.5 472.4,415.7" fill="#00feff" stroke="#00feff"/>
<polygon points="532,440.6 551.6,437.8 531.7,425.1 512.1,427.5" fill="#00dfff" stroke="#00dfff"/>
<polygon points="611.4,457.2 630.4,453.8 610.1,443.6 591,446.6" fill="#00aeff" stroke="#00aeff"/>
<polygon points="651,463.2 669.7,459.5 649.1,450.5 630.4,453.8" fill="#009cff" stroke="#009cff"/>
<polygon points="690.6,467.6 709.1,463.7 688.2,456 669.7,459.5" fill="#008fff" stroke="#008fff"/>
<polygon points="350.5,390.2 371.7,388.7 352.6,370.5 331.2,371.7" fill="#00ff76" stroke="#00ff76"/>
<polygon points="431.6,420.1 452.2,417.8 432.6,402.2 412,404.1" fill="#00ffcd" stroke="#00ffcd"/>
<polygon points="471.9,432.6 492.1,430 472.4,415.7 452.2,417.8" fill="#00fff1" stroke="#00fff1"/>
<polygon points="552.1,452.8 571.7,449.7 551.6,437.8 532,440.6" fill="#00d1ff" stroke="#00d1ff"/>
<polygon points="592.1,460.6 611.4,457.2 591,446.6 571.7,449.7" fill="#00baff" stroke="#00baff"/>
<polygon points="672,471.5 690.6,467.6 669.7,459.5 651,463.2" fill="#009aff" stroke="#009aff"/>
<polygon points="391.1,406 412,404.1 392.7,387.2 371.7,388.7" fill="#00ffa4" stroke="#00ffa4"/>
<polygon points="512.1,443.5 532,440.6 512.1,427.5 492.1,430" fill="#00edff" stroke="#00edff"/>
<polygon points="632.1,466.9 651,463.2 630.4,453.8 611.4,457.2" fill="#00a8ff" stroke="#00a8ff"/>
<polygon points="369.9,407.9 391.1,406 371.7,388.7 350.5,390.2" fill="#00ff94" stroke="#00ff94"/>
<polygon points="410.7,422.3 431.6,420.1 412,404.1 391.1,406" fill="#00ffbe" stroke="#00ffbe"/>
<polygon points="451.4,435.1 471.9,432.6 452.2,417.8 431.6,420.1" fill="#00ffe3" stroke="#00ffe3"/>
<polygon points="491.9,446.4 512.1,443.5 492.1,430 471.9,432.6" fill="#00faff" stroke="#00faff"/>
<polygon points="532.3,456 552.1,452.8 532,440.6 512.1,443.5" fill="#00deff" stroke="#00deff"/>
<polygon points="572.6,464.1 592.1,460.6 571.7,449.7 552.1,452.8" fill="#00c7ff" stroke="#00c7ff"/>
<polygon points="612.8,470.6 632.1,466.9 611.4,457.2 592.1,460.6" fill="#00b4ff" stroke="#00b4ff"/>
<polygon points="653,475.6 672,471.5 651,463.2 632.1,466.9" fill="#00a5ff" stroke="#00a5ff"/>
<polygon points="389.5,424.6 410.7,422.3 391.1,406 369.9,407.9" fill="#00ffaf" stroke="#00ffaf"/>
<polygon points="512.1,459.2 532.3,456 512.1,443.5 491.9,446.4" fill="#00ebff" stroke="#00ebff"/>
<polygon points="633.8,479.6 653,475.6 632.1,466.9 612.8,470.6" fill="#00b0ff" stroke="#00b0ff"/>
<polygon points="430.5,437.8 451.4,435.1 431.6,420.1 410.7,422.3" fill="#00ffd5" stroke="#00ffd5"/>
<polygon points="471.4,449.3 491.9,446.4 471.9,432.6 451.4,435.1" fill="#00fff6" stroke="#00fff6"/>
<polygon points="552.7,467.6 572.6,464.1 552.1,452.8 532.3,456" fill="#00d3ff" stroke="#00d3ff"/>
<polygon points="593.3,474.4 612.8,470.6 592.1,460.6 572.6,464.1" fill="#00bfff" stroke="#00bfff"/>
<polygon points="409.3,440.4 430.5,437.8 410.7,422.3 389.5,424.6" fill="#00ffc6" stroke="#00ffc6"/>
<polygon points="491.6,462.5 512.1,459.2 491.9,446.4 471.4,449.3" fill="#00f8ff" stroke="#00f8ff"/>
<polygon points="532.5,471.2 552.7,467.6 532.3,456 512.1,459.2" fill="#00dfff" stroke="#00dfff"/>
<polygon points="614.2,483.7 633.8,479.6 612.8,470.6 593.3,474.4" fill="#00bbff" stroke="#00bbff"/>
<polygon points="450.5,452.3 471.4,449.3 451.4,435.1 430.5,437.8" fill="#00ffe8" stroke="#00ffe8"/>
<polygon points="573.4,478.3 593.3,474.4 572.6,464.1 552.7,467.6" fill="#00cbff" stroke="#00cbff"/>
<polygon points="429.4,455.3 450.5,452.3 430.5,437.8 409.3,440.4" fill="#00ffdb" stroke="#00ffdb"/>
<polygon points="470.8,465.9 491.6,462.5 471.4,449.3 450.5,452.3" fill="#00fff9" stroke="#00fff9"/>
<polygon points="512.1,474.8 532.5,471.2 512.1,459.2 491.6,462.5" fill="#00ecff" stroke="#00ecff"/>
<polygon points="553.3,482.2 573.4,478.3 552.7,467.6 532.5,471.2" fill="#00d7ff" stroke="#00d7ff"/>
<polygon points="594.4,487.9 614.2,483.7 593.3,474.4 573.4,478.3" fill="#00c6ff" stroke="#00c6ff"/>
<polygon points="449.7,469.2 470.8,465.9 450.5,452.3 429.4,455.3" fill="#00ffec" stroke="#00ffec"/>
<polygon points="574.3,492.2 594.4,487.9 573.4,478.3 553.3,482.2" fill="#00d1ff" stroke="#00d1ff"/>
<polygon points="491.3,478.5 512.1,474.8 491.6,462.5 470.8,465.9" fill="#00f8ff" stroke="#00f8ff"/>
<polygon points="532.8,486.1 553.3,482.2 532.5,471.2 512.1,474.8" fill="#00e2ff" stroke="#00e2ff"/>
<polygon points="470.2,482.2 491.3,478.5 470.8,465.9 449.7,469.2" fill="#00fffa" stroke="#00fffa"/>
<polygon points="553.9,496.5 574.3,492.2 553.3,482.2 532.8,486.1" fill="#00dcff" stroke="#00dcff"/>
<polygon points="512.1,490.2 532.8,486.1 512.1,474.8 491.3,478.5" fill="#00eeff" stroke="#00eeff"/>
<polygon points="491,494.3 512.1,490.2 491.3,478.5 470.2,482.2" fill="#00f9ff" stroke="#00f9ff"/>
<polygon points="533.1,500.9 553.9,496.5 532.8,486.1 512.1,490.2" fill="#00e7ff" stroke="#00e7ff"/>
<polygon points="512.1,505.3 533.1,500.9 512.1,490.2 491,494.3" fill="#00f2ff" stroke="#00f2ff"/>
</g>
<path d="M512.1,505.3 L491,494.3 L470.2,482.2 L449.7,469.2 L429.4,455.3 L409.3,440.4 L389.5,424.6 L369.9,407.9 L350.5,390.2 L331.2,371.7 L312.2,352.3 L293.3,331.9 L274.6,310.7 L256,288.6 L237.5,265.6 L219.2,241.8 L201,217 L182.8,191.4 L164.8,165 L146.9,137.6 L129.1,109.4 M512.1,505.3 L533.1,500.9 L553.9,496.5 L574.3,492.2 L594.4,487.9 L614.2,483.7 L633.8,479.6 L653,475.6 L672,471.5 L690.6,467.6 L709.1,463.7 L727.2,459.9 L745.1,456.1 L762.7,452.4 L780.1,448.7 L797.3,445.1 L814.2,441.5 L830.9,438 L847.4,434.5 L863.6,431.1 L879.6,427.7 M533.1,500.9 L512.1,490.2 L491.3,478.5 L470.8,465.9 L450.5,452.3 L430.5,437.8 L410.7,422.3 L391.1,406 L371.7,388.7 L352.6,370.5 L333.5,351.5 L314.7,331.5 L296,310.7 L277.4,289 L259,266.4 L240.8,243 L222.6,218.7 L204.5,193.5 L186.6,167.4 L168.7,140.5 L150.9,112.7 M491,494.3 L512.1,490.2 L532.8,486.1 L553.3,482.2 L573.4,478.3 L593.3,474.4 L612.8,470.6 L632.1,466.9 L651,463.2 L669.7,459.5 L688.2,456 L706.4,452.4 L724.3,448.9 L741.9,445.5 L759.4,442.1 L776.5,438.8 L793.5,435.5 L810.2,432.2 L826.7,429 L843,425.9 L859,422.8 M553.9,496.5 L532.8,486.1 L512.1,474.8 L491.6,462.5 L471.4,449.3 L451.4,435.1 L431.6,420.1 L412,404.1 L392.7,387.2 L373.5,369.4 L354.6,350.7 L335.8,331.1 L317.1,310.7 L298.6,289.4 L280.2,267.2 L262,244.1 L243.9,220.2 L225.9,195.4 L208,169.8 L190.2,143.3 L172.5,115.9 M470.2,482.2 L491.3,478.5 L512.1,474.8 L532.5,471.2 L552.7,467.6 L572.6,464.1 L592.1,460.6 L611.4,457.2 L630.4,453.8 L649.1,450.5 L667.6,447.2 L685.8,444 L703.8,440.8 L721.4,437.7 L738.9,434.6 L756.1,431.6 L773.1,428.5 L789.8,425.6 L806.3,422.7 L822.6,419.8 L838.7,416.9 M574.3,492.2 L553.3,482.2 L532.5,471.2 L512.1,459.2 L491.9,446.4 L471.9,432.6 L452.2,417.8 L432.6,402.2 L413.3,385.7 L394.2,368.3 L375.3,349.9 L356.5,330.8 L337.9,310.7 L319.4,289.8 L301.1,268 L283,245.3 L264.9,221.8 L247,197.4 L229.1,172.2 L211.4,146 L193.7,119.1 M449.7,469.2 L470.8,465.9 L491.6,462.5 L512.1,459.2 L532.3,456 L552.1,452.8 L571.7,449.7 L591,446.6 L610.1,443.6 L628.8,440.6 L647.3,437.6 L665.5,434.7 L683.5,431.8 L701.2,429 L718.7,426.2 L735.9,423.4 L752.9,420.7 L769.7,418 L786.2,415.4 L802.5,412.7 L818.6,410.2 M594.4,487.9 L573.4,478.3 L552.7,467.6 L532.3,456 L512.1,443.5 L492.1,430 L472.4,415.7 L452.9,400.4 L433.7,384.2 L414.6,367.1 L395.7,349.2 L377,330.4 L358.4,310.7 L340,290.1 L321.7,268.7 L303.6,246.4 L285.6,223.3 L267.7,199.3 L249.9,174.5 L232.2,148.8 L214.7,122.2 M429.4,455.3 L450.5,452.3 L471.4,449.3 L491.9,446.4 L512.1,443.5 L532,440.6 L551.6,437.8 L570.9,435.1 L590,432.4 L608.8,429.7 L627.3,427 L645.5,424.4 L663.5,421.9 L681.3,419.3 L698.8,416.8 L716,414.4 L733.1,411.9 L749.9,409.5 L766.4,407.2 L782.8,404.8 L798.9,402.5 M614.2,483.7 L593.3,474.4 L572.6,464.1 L552.1,452.8 L532,440.6 L512.1,427.5 L492.4,413.5 L472.9,398.6 L453.7,382.8 L434.7,366.1 L415.8,348.5 L397.1,330 L378.6,310.7 L360.2,290.5 L342,269.5 L323.9,247.6 L306,224.8 L288.1,201.2 L270.4,176.8 L252.8,151.5 L235.3,125.3 M409.3,440.4 L430.5,437.8 L451.4,435.1 L471.9,432.6 L492.1,430 L512.1,427.5 L531.7,425.1 L551.1,422.6 L570.2,420.2 L589,417.9 L607.5,415.6 L625.8,413.3 L643.8,411 L661.6,408.8 L679.1,406.6 L696.4,404.4 L713.5,402.3 L730.3,400.2 L746.9,398.1 L763.3,396 L779.4,394 M633.8,479.6 L612.8,470.6 L592.1,460.6 L571.7,449.7 L551.6,437.8 L531.7,425.1 L512.1,411.4 L492.7,396.8 L473.4,381.3 L454.4,365 L435.6,347.7 L417,329.7 L398.5,310.7 L380.2,290.9 L362,270.2 L344,248.7 L326.1,226.3 L308.3,203.1 L290.6,179 L273.1,154.1 L255.6,128.4 M389.5,424.6 L410.7,422.3 L431.6,420.1 L452.2,417.8 L472.4,415.7 L492.4,413.5 L512.1,411.4 L531.5,409.3 L550.6,407.2 L569.4,405.2 L588,403.2 L606.3,401.2 L624.4,399.3 L642.2,397.4 L659.7,395.5 L677,393.6 L694.1,391.8 L711,389.9 L727.6,388.1 L744,386.4 L760.2,384.6 M653,475.6 L632.1,466.9 L611.4,457.2 L591,446.6 L570.9,435.1 L551.1,422.6 L531.5,409.3 L512.1,395 L492.9,379.9 L473.9,363.9 L455.1,347 L436.5,329.3 L418.1,310.7 L399.8,291.2 L381.7,270.9 L363.7,249.8 L345.9,227.8 L328.1,204.9 L310.5,181.3 L293,156.7 L275.6,131.4 M369.9,407.9 L391.1,406 L412,404.1 L432.6,402.2 L452.9,400.4 L472.9,398.6 L492.7,396.8 L512.1,395 L531.2,393.3 L550.1,391.6 L568.7,389.9 L587,388.3 L605.1,386.7 L623,385.1 L640.6,383.5 L657.9,381.9 L675,380.4 L691.9,378.8 L708.6,377.3 L725,375.9 L741.2,374.4 M672,471.5 L651,463.2 L630.4,453.8 L610.1,443.6 L590,432.4 L570.2,420.2 L550.6,407.2 L531.2,393.3 L512.1,378.5 L493.1,362.9 L474.4,346.3 L455.8,328.9 L437.4,310.7 L419.2,291.6 L401.1,271.6 L383.2,250.9 L365.4,229.2 L347.7,206.8 L330.2,183.5 L312.7,159.3 L295.4,134.3 M350.5,390.2 L371.7,388.7 L392.7,387.2 L413.3,385.7 L433.7,384.2 L453.7,382.8 L473.4,381.3 L492.9,379.9 L512.1,378.5 L531,377.2 L549.6,375.8 L568,374.5 L586.1,373.2 L604,371.9 L621.6,370.6 L639,369.3 L656.1,368.1 L673.1,366.9 L689.7,365.7 L706.2,364.5 L722.5,363.3 M690.6,467.6 L669.7,459.5 L649.1,450.5 L628.8,440.6 L608.8,429.7 L589,417.9 L569.4,405.2 L550.1,391.6 L531,377.2 L512.1,361.8 L493.4,345.6 L474.8,328.6 L456.5,310.7 L438.3,291.9 L420.3,272.3 L402.4,251.9 L384.6,230.7 L367,208.6 L349.5,185.6 L332.1,161.9 L314.8,137.3 M331.2,371.7 L352.6,370.5 L373.5,369.4 L394.2,368.3 L414.6,367.1 L434.7,366.1 L454.4,365 L473.9,363.9 L493.1,362.9 L512.1,361.8 L530.8,360.8 L549.2,359.8 L567.3,358.8 L585.2,357.8 L602.9,356.9 L620.3,355.9 L637.5,355 L654.4,354.1 L671.2,353.2 L687.7,352.3 L703.9,351.4 M709.1,463.7 L688.2,456 L667.6,447.2 L647.3,437.6 L627.3,427 L607.5,415.6 L588,403.2 L568.7,389.9 L549.6,375.8 L530.8,360.8 L512.1,345 L493.6,328.2 L475.3,310.7 L457.1,292.3 L439.2,273 L421.3,253 L403.6,232.1 L386,210.3 L368.6,187.8 L351.3,164.4 L334,140.1 M312.2,352.3 L333.5,351.5 L354.6,350.7 L375.3,349.9 L395.7,349.2 L415.8,348.5 L435.6,347.7 L455.1,347 L474.4,346.3 L493.4,345.6 L512.1,345 L530.5,344.3 L548.7,343.6 L566.7,343 L584.4,342.3 L601.8,341.7 L619,341.1 L636,340.4 L652.8,339.8 L669.3,339.2 L685.6,338.6 M727.2,459.9 L706.4,452.4 L685.8,444 L665.5,434.7 L645.5,424.4 L625.8,413.3 L606.3,401.2 L587,388.3 L568,374.5 L549.2,359.8 L530.5,344.3 L512.1,327.9 L493.8,310.7 L475.7,292.6 L457.8,273.7 L440,254 L422.3,233.4 L404.8,212.1 L387.4,189.9 L370.1,166.8 L353,143 M293.3,331.9 L314.7,331.5 L335.8,331.1 L356.5,330.8 L377,330.4 L397.1,330 L417,329.7 L436.5,329.3 L455.8,328.9 L474.8,328.6 L493.6,328.2 L512.1,327.9 L530.3,327.6 L548.3,327.2 L566,326.9 L583.5,326.6 L600.8,326.3 L617.8,326 L634.6,325.7 L651.2,325.4 L667.5,325.1 M745.1,456.1 L724.3,448.9 L703.8,440.8 L683.5,431.8 L663.5,421.9 L643.8,411 L624.4,399.3 L605.1,386.7 L586.1,373.2 L567.3,358.8 L548.7,343.6 L530.3,327.6 L512.1,310.7 L494,293 L476.1,274.4 L458.4,255 L440.8,234.8 L423.3,213.8 L406,191.9 L388.7,169.3 L371.6,145.8 M274.6,310.7 L296,310.7 L317.1,310.7 L337.9,310.7 L358.4,310.7 L378.6,310.7 L398.5,310.7 L418.1,310.7 L437.4,310.7 L456.5,310.7 L475.3,310.7 L493.8,310.7 L512.1,310.7 L530.1,310.7 L547.9,310.7 L565.4,310.7 L582.7,310.7 L599.8,310.7 L616.6,310.7 L633.2,310.7 L649.6,310.7 M762.7,452.4 L741.9,445.5 L721.4,437.7 L701.2,429 L681.3,419.3 L661.6,408.8 L642.2,397.4 L623,385.1 L604,371.9 L585.2,357.8 L566.7,343 L548.3,327.2 L530.1,310.7 L512.1,293.3 L494.2,275.1 L476.5,256 L459,236.2 L441.5,215.5 L424.3,194 L407.1,171.7 L390,148.6 M256,288.6 L277.4,289 L298.6,289.4 L319.4,289.8 L340,290.1 L360.2,290.5 L380.2,290.9 L399.8,291.2 L419.2,291.6 L438.3,291.9 L457.1,292.3 L475.7,292.6 L494,293 L512.1,293.3 L529.9,293.6 L547.5,293.9 L564.8,294.2 L581.9,294.6 L598.8,294.9 L615.4,295.2 L631.8,295.5 M780.1,448.7 L759.4,442.1 L738.9,434.6 L718.7,426.2 L698.8,416.8 L679.1,406.6 L659.7,395.5 L640.6,383.5 L621.6,370.6 L602.9,356.9 L584.4,342.3 L566,326.9 L547.9,310.7 L529.9,293.6 L512.1,275.7 L494.4,257 L476.9,237.5 L459.5,217.1 L442.3,196 L425.2,174 L408.2,151.3 M237.5,265.6 L259,266.4 L280.2,267.2 L301.1,268 L321.7,268.7 L342,269.5 L362,270.2 L381.7,270.9 L401.1,271.6 L420.3,272.3 L439.2,273 L457.8,273.7 L476.1,274.4 L494.2,275.1 L512.1,275.7 L529.7,276.4 L547.1,277 L564.2,277.6 L581.1,278.3 L597.8,278.9 L614.3,279.5 M797.3,445.1 L776.5,438.8 L756.1,431.6 L735.9,423.4 L716,414.4 L696.4,404.4 L677,393.6 L657.9,381.9 L639,369.3 L620.3,355.9 L601.8,341.7 L583.5,326.6 L565.4,310.7 L547.5,293.9 L529.7,276.4 L512.1,258 L494.6,238.8 L477.3,218.8 L460.1,198 L443,176.4 L426.1,154 M219.2,241.8 L240.8,243 L262,244.1 L283,245.3 L303.6,246.4 L323.9,247.6 L344,248.7 L363.7,249.8 L383.2,250.9 L402.4,251.9 L421.3,253 L440,254 L458.4,255 L476.5,256 L494.4,257 L512.1,258 L529.5,259 L546.7,259.9 L563.6,260.8 L580.4,261.8 L596.9,262.7 M814.2,441.5 L793.5,435.5 L773.1,428.5 L752.9,420.7 L733.1,411.9 L713.5,402.3 L694.1,391.8 L675,380.4 L656.1,368.1 L637.5,355 L619,341.1 L600.8,326.3 L582.7,310.7 L564.8,294.2 L547.1,277 L529.5,259 L512.1,240.1 L494.8,220.4 L477.7,200 L460.6,178.7 L443.7,156.6 M201,217 L222.6,218.7 L243.9,220.2 L264.9,221.8 L285.6,223.3 L306,224.8 L326.1,226.3 L345.9,227.8 L365.4,229.2 L384.6,230.7 L403.6,232.1 L422.3,233.4 L440.8,234.8 L459,236.2 L476.9,237.5 L494.6,238.8 L512.1,240.1 L529.3,241.4 L546.3,242.6 L563.1,243.9 L579.6,245.1 M830.9,438 L810.2,432.2 L789.8,425.6 L769.7,418 L749.9,409.5 L730.3,400.2 L711,389.9 L691.9,378.8 L673.1,366.9 L654.4,354.1 L636,340.4 L617.8,326 L599.8,310.7 L581.9,294.6 L564.2,277.6 L546.7,259.9 L529.3,241.4 L512.1,222 L495,201.9 L478,181 L461.2,159.2 M182.8,191.4 L204.5,193.5 L225.9,195.4 L247,197.4 L267.7,199.3 L288.1,201.2 L308.3,203.1 L328.1,204.9 L347.7,206.8 L367,208.6 L386,210.3 L404.8,212.1 L423.3,213.8 L441.5,215.5 L459.5,217.1 L477.3,218.8 L494.8,220.4 L512.1,222 L529.1,223.6 L545.9,225.2 L562.5,226.7 M847.4,434.5 L826.7,429 L806.3,422.7 L786.2,415.4 L766.4,407.2 L746.9,398.1 L727.6,388.1 L708.6,377.3 L689.7,365.7 L671.2,353.2 L652.8,339.8 L634.6,325.7 L616.6,310.7 L598.8,294.9 L581.1,278.3 L563.6,260.8 L546.3,242.6 L529.1,223.6 L512.1,203.8 L495.2,183.2 L478.4,161.8 M164.8,165 L186.6,167.4 L208,169.8 L229.1,172.2 L249.9,174.5 L270.4,176.8 L290.6,179 L310.5,181.3 L330.2,183.5 L349.5,185.6 L368.6,187.8 L387.4,189.9 L406,191.9 L424.3,194 L442.3,196 L460.1,198 L477.7,200 L495,201.9 L512.1,203.8 L528.9,205.7 L545.6,207.6 M863.6,431.1 L843,425.9 L822.6,419.8 L802.5,412.7 L782.8,404.8 L763.3,396 L744,386.4 L725,375.9 L706.2,364.5 L687.7,352.3 L669.3,339.2 L651.2,325.4 L633.2,310.7 L615.4,295.2 L597.8,278.9 L580.4,261.8 L563.1,243.9 L545.9,225.2 L528.9,205.7 L512.1,185.4 L495.3,164.4 M146.9,137.6 L168.7,140.5 L190.2,143.3 L211.4,146 L232.2,148.8 L252.8,151.5 L273.1,154.1 L293,156.7 L312.7,159.3 L332.1,161.9 L351.3,164.4 L370.1,166.8 L388.7,169.3 L407.1,171.7 L425.2,174 L443,176.4 L460.6,178.7 L478,181 L495.2,183.2 L512.1,185.4 L528.8,187.6 M879.6,427.7 L859,422.8 L838.7,416.9 L818.6,410.2 L798.9,402.5 L779.4,394 L760.2,384.6 L741.2,374.4 L722.5,363.3 L703.9,351.4 L685.6,338.6 L667.5,325.1 L649.6,310.7 L631.8,295.5 L614.3,279.5 L596.9,262.7 L579.6,245.1 L562.5,226.7 L545.6,207.6 L528.8,187.6 L512.1,166.9 M129.1,109.4 L150.9,112.7 L172.5,115.9 L193.7,119.1 L214.7,122.2 L235.3,125.3 L255.6,128.4 L275.6,131.4 L295.4,134.3 L314.8,137.3 L334,140.1 L353,143 L371.6,145.8 L390,148.6 L408.2,151.3 L426.1,154 L443.7,156.6 L461.2,159.2 L478.4,161.8 L495.3,164.4 L512.1,166.9" fill="none" stroke="#000" stroke-width="1.9" stroke-linejoin="round" stroke-linecap="round"/>
<line x1="128.7" y1="102.1" x2="129.1" y2="109.4" stroke="#000" stroke-width="1"/><ellipse cx="128.7" cy="102.1" rx="7.1" ry="7.1" fill="#b20000" stroke="#000" stroke-width="1.3"/>
<ellipse cx="512.1" cy="502.4" rx="7.1" ry="7.1" fill="#b20000" stroke="#000" stroke-width="1.3"/>
<line x1="512.1" y1="330.6" x2="512.1" y2="345" stroke="#000" stroke-width="1"/><ellipse cx="512.1" cy="330.6" rx="7.1" ry="7.1" fill="#b20000" stroke="#000" stroke-width="1.3"/>
<ellipse cx="685.7" cy="336" rx="7.1" ry="7.1" fill="#b20000" stroke="#000" stroke-width="1.3"/>
<ellipse cx="709.2" cy="459.8" rx="7.1" ry="7.1" fill="#b20000" stroke="#000" stroke-width="1.3"/>
<text transform="translate(132.7 458.5) scale(1.02 1)" font-size="23.4" text-anchor="end">15</text>
<text transform="translate(129.6 395.8) scale(1.02 1)" font-size="23.4" text-anchor="end">20</text>
<text transform="translate(126.6 333.1) scale(1.02 1)" font-size="23.4" text-anchor="end">25</text>
<text transform="translate(123.5 270.5) scale(1.02 1)" font-size="23.4" text-anchor="end">30</text>
<text transform="translate(120.5 207.8) scale(1.02 1)" font-size="23.4" text-anchor="end">35</text>
<text transform="translate(117.4 145.1) scale(1.02 1)" font-size="23.4" text-anchor="end">40</text>
<text transform="translate(114.4 82.4) scale(1.02 1)" font-size="23.4" text-anchor="end">45</text>
<text transform="translate(498.3 776.9) scale(1.02 1)" font-size="23.4" text-anchor="end">100</text>
<text transform="translate(526.9 776.9) scale(1.02 1)" font-size="23.4" text-anchor="start">2</text>
<text transform="translate(408.3 733.7) scale(1.02 1)" font-size="23.4" text-anchor="end">150</text>
<text transform="translate(616.9 733.7) scale(1.02 1)" font-size="23.4" text-anchor="start">3</text>
<text transform="translate(318.2 690.4) scale(1.02 1)" font-size="23.4" text-anchor="end">200</text>
<text transform="translate(706.9 690.4) scale(1.02 1)" font-size="23.4" text-anchor="start">4</text>
<text transform="translate(228.2 647.2) scale(1.02 1)" font-size="23.4" text-anchor="end">250</text>
<text transform="translate(797 647.2) scale(1.02 1)" font-size="23.4" text-anchor="start">5</text>
<text transform="translate(138.2 604) scale(1.02 1)" font-size="23.4" text-anchor="end">300</text>
<text transform="translate(887 604) scale(1.02 1)" font-size="23.4" text-anchor="start">6</text>
<text class="at" transform="translate(24.4 494.5) rotate(-90) scale(0.955 1)" font-size="34" text-anchor="start">Thermal efficiency (%)</text>
<text class="at" transform="translate(28.7 745.2) scale(0.966 1)" font-size="33" text-anchor="start">B: Microwave power (W)</text>
<text class="at" transform="translate(708 745.2) scale(0.966 1)" font-size="33" text-anchor="start">A: Thickness (mm)</text>
<text transform="translate(316.5 892.7)" font-size="54.3" text-anchor="start">a) Control sample</text>
<path d="M1184.2,482.4 L1512.6,354.5 L1841.1,482.4 M1180.1,385.5 L1512.6,267.4 L1845.2,385.5 M1176,288.6 L1512.6,180.3 L1849.3,288.6 M1171.8,191.7 L1512.6,93.2 L1853.4,191.7" fill="none" stroke="#000" stroke-width="1.3" stroke-linejoin="round"/>
<path d="M1167.7,94.9 L1512.6,6.1 L1857.5,94.9" fill="none" stroke="#000" stroke-width="1.7" stroke-linejoin="miter"/>
<path d="M1266.3,450.4 L1254,72.7 M1594.7,386.5 L1598.8,28.3 M1348.4,418.4 L1340.2,50.5 M1676.9,418.4 L1685.1,50.5 M1430.5,386.5 L1426.4,28.3 M1759,450.4 L1771.3,72.7 M1167.7,94.9 L1189.3,603.5 M1512.6,6.1 L1512.6,464.2 M1857.5,94.9 L1836,603.5" fill="none" stroke="#000" stroke-width="1.3"/>
<polygon points="1189.3,603.5 1512.6,464.2 1836,603.5 1512.6,781.6" fill="#ffff00" stroke="#000" stroke-width="1.5" stroke-linejoin="round"/>
<polyline points="1693.6,681.9 1690.1,676.9 1686.8,671.6 1684.8,668 1683,664.5 1681.1,660.4 1679.1,655.5 1677.3,650.7 1675.9,646.1 1674.8,641.8 1673.9,637.9 1673.1,633.9 1672.5,629.9 1672,625.9 1671.6,621.8 1671.4,617.6 1671.3,613.4 1671.3,609.5 1671.4,605.8 1671.6,602.2 1671.8,598.7 1672.2,595.2 1672.6,591.7 1673.2,587.6 1673.9,583.2 1674.8,578.7 1675.5,575.2 1676.3,572 1677.1,568.9 1678,565.2 1679.3,560.6 1680.6,556.7 1681.5,553.7 1682.5,550.7 1683.9,546.8 1685.7,542.1 1686.8,539.2" fill="none" stroke="#0083ff" stroke-width="1.4"/>
<polyline points="1532.7,770.6 1530.2,766.2 1527,759.6 1525,754.9 1523.5,750.8 1522.2,746.7 1520.8,741.7 1519.5,736.3 1518.5,731 1517.8,725.9 1517.2,720.9 1516.9,716.3 1516.7,711.7 1516.7,707.1 1516.9,702.5 1517.1,698 1517.5,693.7 1518,689.5 1518.5,685.4 1519.2,681.3 1519.9,677.3 1520.7,673.3 1521.6,669 1522.8,664 1524.2,659.1 1525.5,654.4 1526.7,650.8 1527.9,647.2 1529.1,643.7 1530.8,638.9 1532.8,633.7 1534.3,629.9 1535.7,626.6 1537.1,623.3 1539.4,618.2 1541.6,613.5 1543.1,610.3 1544.6,607.2 1547,602.5 1549.4,597.9 1551,594.9 1552.6,591.8 1555.6,586.6 1557.7,582.9 1559.4,580 1561.8,575.9 1564.5,571.4 1566.3,568.6 1568.5,565.1 1571.6,560.2 1573.4,557.5 1575.5,554.3 1578.8,549.4 1580.6,546.7 1582.9,543.4 1586.1,538.8 1588,536.2 1590.6,532.5 1593.6,528.5 1595.4,526 1598.7,521.6 1601.1,518.5 1603,516.1 1606.7,511.2 1608.6,508.8 1610.5,506.4" fill="none" stroke="#00ffd0" stroke-width="1.4"/>
<polyline points="1373.4,704.9 1375.4,701.2 1377.4,697.6 1380.1,692.6 1383.5,686.8 1385.6,683.2 1387.7,679.7 1390.7,674.8 1394,669.5 1396.2,666.1 1398.3,662.7 1402.2,656.9 1404.9,652.9 1407.1,649.7 1410.5,644.8 1413.8,640.1 1416,637 1419.1,632.7 1422.8,627.7 1425.1,624.7 1428.2,620.5 1431.9,615.7 1434.2,612.8 1437.6,608.4 1441,604.1 1443.3,601.2 1447.4,596.1 1450.3,592.7 1452.6,589.9 1457.2,584.4 1459.5,581.6 1462.8,577.8 1466.5,573.5 1468.8,570.8 1473.4,565.6 1475.7,562.9 1478.9,559.4 1482.7,555.2 1485,552.6 1489.7,547.5 1492,545 1495.6,541.1 1498.9,537.5 1501.3,535 1505.9,530.2 1508.2,527.8 1512.8,523 1515.1,520.6 1518.9,516.6 1522,513.5 1524.9,510.6 1528.9,506.6 1531.1,504.3 1535.7,499.7 1538,497.5 1542.6,493 1544.8,490.8 1549.4,486.3 1551.6,484.1 1553.9,482" fill="none" stroke="#00ff25" stroke-width="1.4"/>
<polyline points="1293.7,661 1296.5,657.9 1301,653 1305,648.8 1307.8,645.8 1313.4,639.8 1316.3,636.9 1320.6,632.4 1324.7,628.1 1327.5,625.3 1333.1,619.6 1335.9,616.8 1340.8,611.8 1344.3,608.4 1347.7,605 1352.6,600.2 1355.3,597.4 1360.9,592.1 1363.6,589.4 1368.7,584.5 1371.9,581.5 1375.9,577.7 1380.1,573.7 1383.1,570.9 1388.2,566.1 1390.9,563.6 1396.3,558.6 1399,556.1 1404.4,551.1 1407.1,548.7 1412.4,543.9 1415.1,541.4 1419.9,537.2 1423.1,534.3 1427.4,530.5 1431,527.2 1434.9,523.8 1438.9,520.3 1442.5,517.1 1446.7,513.5 1450.1,510.5 1454.5,506.7 1457.8,503.8 1462.2,500.1 1465.5,497.2 1469.9,493.5 1473.3,490.6 1477.6,487 1481.1,484.1 1485.2,480.7 1488.9,477.5 1492.7,474.4 1496.8,471" fill="none" stroke="#86ff00" stroke-width="1.4"/>
<polyline points="1235.9,629.2 1242.3,623.6 1245.5,620.9 1251.8,615.4 1255,612.7 1261.2,607.4 1264.4,604.7 1270.1,599.9 1273.7,596.8 1279,592.5 1283,589.1 1287.9,585 1292.3,581.4 1296.9,577.6 1301.4,573.9 1305.9,570.2 1310.5,566.5 1315,562.8 1319.5,559.1 1324,555.5 1328.5,551.9 1333.1,548.2 1337.3,544.8 1342.3,540.9 1346.1,537.8 1351.4,533.6" fill="none" stroke="#ffcd00" stroke-width="1.4"/>
<ellipse cx="1184.2" cy="482.4" rx="2.7" ry="3.1" fill="#000"/>
<ellipse cx="1180.1" cy="385.5" rx="2.7" ry="3.1" fill="#000"/>
<ellipse cx="1176" cy="288.6" rx="2.7" ry="3.1" fill="#000"/>
<ellipse cx="1171.8" cy="191.7" rx="2.7" ry="3.1" fill="#000"/>
<ellipse cx="1167.7" cy="94.9" rx="2.7" ry="3.1" fill="#000"/>
<ellipse cx="1512.6" cy="781.6" rx="2.7" ry="3.1" fill="#000"/>
<ellipse cx="1431.8" cy="737.1" rx="2.7" ry="3.1" fill="#000"/>
<ellipse cx="1593.5" cy="737.1" rx="2.7" ry="3.1" fill="#000"/>
<ellipse cx="1351" cy="692.6" rx="2.7" ry="3.1" fill="#000"/>
<ellipse cx="1674.3" cy="692.6" rx="2.7" ry="3.1" fill="#000"/>
<ellipse cx="1270.1" cy="648" rx="2.7" ry="3.1" fill="#000"/>
<ellipse cx="1755.1" cy="648" rx="2.7" ry="3.1" fill="#000"/>
<ellipse cx="1189.3" cy="603.5" rx="2.7" ry="3.1" fill="#000"/>
<ellipse cx="1836" cy="603.5" rx="2.7" ry="3.1" fill="#000"/>
<ellipse cx="1669.5" cy="300.6" rx="6.4" ry="7.3" fill="#d98080" stroke="#000" stroke-width="1.3"/>
<line x1="1332.5" y1="339.9" x2="1332.2" y2="328.1" stroke="#000" stroke-width="1"/><ellipse cx="1332.5" cy="339.9" rx="6.4" ry="7.3" fill="#d98080" stroke="#000" stroke-width="1.3"/>
<ellipse cx="1690.4" cy="442.2" rx="6.4" ry="7.3" fill="#d98080" stroke="#000" stroke-width="1.3"/>
<ellipse cx="1512.6" cy="471.7" rx="6.4" ry="7.3" fill="#d98080" stroke="#000" stroke-width="1.3"/>
<g stroke-width="0.6" stroke-linejoin="round">
<polygon points="1512.6,154.7 1527.7,154.4 1512.6,136.2 1497.5,136.4" fill="#4dff00" stroke="#4dff00"/>
<polygon points="1497.4,155.1 1512.6,154.7 1497.5,136.4 1482.2,136.6" fill="#5fff00" stroke="#5fff00"/>
<polygon points="1527.9,172.6 1542.9,172.2 1527.7,154.4 1512.6,154.7" fill="#17ff00" stroke="#17ff00"/>
<polygon points="1481.9,155.4 1497.4,155.1 1482.2,136.6 1466.7,136.9" fill="#71ff00" stroke="#71ff00"/>
<polygon points="1512.6,173.1 1527.9,172.6 1512.6,154.7 1497.4,155.1" fill="#29ff00" stroke="#29ff00"/>
<polygon points="1543.2,190.1 1558.2,189.5 1542.9,172.2 1527.9,172.6" fill="#00ff1c" stroke="#00ff1c"/>
<polygon points="1466.3,155.8 1481.9,155.4 1466.7,136.9 1451,137.1" fill="#83ff00" stroke="#83ff00"/>
<polygon points="1497.2,173.5 1512.6,173.1 1497.4,155.1 1481.9,155.4" fill="#3bff00" stroke="#3bff00"/>
<polygon points="1528,190.7 1543.2,190.1 1527.9,172.6 1512.6,173.1" fill="#00ff0a" stroke="#00ff0a"/>
<polygon points="1558.7,207.1 1573.7,206.4 1558.2,189.5 1543.2,190.1" fill="#00ff4c" stroke="#00ff4c"/>
<polygon points="1481.6,174 1497.2,173.5 1481.9,155.4 1466.3,155.8" fill="#4eff00" stroke="#4eff00"/>
<polygon points="1512.6,191.2 1528,190.7 1512.6,173.1 1497.2,173.5" fill="#08ff00" stroke="#08ff00"/>
<polygon points="1543.5,207.8 1558.7,207.1 1543.2,190.1 1528,190.7" fill="#00ff3a" stroke="#00ff3a"/>
<polygon points="1450.4,156.1 1466.3,155.8 1451,137.1 1435.2,137.3" fill="#95ff00" stroke="#95ff00"/>
<polygon points="1574.3,223.7 1589.3,222.9 1573.7,206.4 1558.7,207.1" fill="#00ff7b" stroke="#00ff7b"/>
<polygon points="1497,191.8 1512.6,191.2 1497.2,173.5 1481.6,174" fill="#1bff00" stroke="#1bff00"/>
<polygon points="1528.2,208.5 1543.5,207.8 1528,190.7 1512.6,191.2" fill="#00ff28" stroke="#00ff28"/>
<polygon points="1434.3,156.5 1450.4,156.1 1435.2,137.3 1419.1,137.5" fill="#a7ff00" stroke="#a7ff00"/>
<polygon points="1465.8,174.5 1481.6,174 1466.3,155.8 1450.4,156.1" fill="#60ff00" stroke="#60ff00"/>
<polygon points="1559.2,224.5 1574.3,223.7 1558.7,207.1 1543.5,207.8" fill="#00ff68" stroke="#00ff68"/>
<polygon points="1590.1,239.8 1605,239 1589.3,222.9 1574.3,223.7" fill="#00ffa6" stroke="#00ffa6"/>
<polygon points="1418.1,156.8 1434.3,156.5 1419.1,137.5 1402.8,137.8" fill="#b9ff00" stroke="#b9ff00"/>
<polygon points="1449.7,174.9 1465.8,174.5 1450.4,156.1 1434.3,156.5" fill="#72ff00" stroke="#72ff00"/>
<polygon points="1481.2,192.4 1497,191.8 1481.6,174 1465.8,174.5" fill="#2dff00" stroke="#2dff00"/>
<polygon points="1512.6,209.2 1528.2,208.5 1512.6,191.2 1497,191.8" fill="#00ff16" stroke="#00ff16"/>
<polygon points="1543.9,225.3 1559.2,224.5 1543.5,207.8 1528.2,208.5" fill="#00ff56" stroke="#00ff56"/>
<polygon points="1575,240.7 1590.1,239.8 1574.3,223.7 1559.2,224.5" fill="#00ff94" stroke="#00ff94"/>
<polygon points="1606,255.5 1620.9,254.6 1605,239 1590.1,239.8" fill="#00ffd0" stroke="#00ffd0"/>
<polygon points="1401.6,157.2 1418.1,156.8 1402.8,137.8 1386.2,138" fill="#cbff00" stroke="#cbff00"/>
<polygon points="1433.5,175.4 1449.7,174.9 1434.3,156.5 1418.1,156.8" fill="#84ff00" stroke="#84ff00"/>
<polygon points="1465.2,193 1481.2,192.4 1465.8,174.5 1449.7,174.9" fill="#3fff00" stroke="#3fff00"/>
<polygon points="1496.9,209.9 1512.6,209.2 1497,191.8 1481.2,192.4" fill="#00ff04" stroke="#00ff04"/>
<polygon points="1528.4,226.1 1543.9,225.3 1528.2,208.5 1512.6,209.2" fill="#00ff44" stroke="#00ff44"/>
<polygon points="1559.7,241.6 1575,240.7 1559.2,224.5 1543.9,225.3" fill="#00ff82" stroke="#00ff82"/>
<polygon points="1591,256.5 1606,255.5 1590.1,239.8 1575,240.7" fill="#00ffbe" stroke="#00ffbe"/>
<polygon points="1622.1,270.8 1637,269.7 1620.9,254.6 1606,255.5" fill="#00fff7" stroke="#00fff7"/>
<polygon points="1384.9,157.5 1401.6,157.2 1386.2,138 1369.5,138.2" fill="#ddff00" stroke="#ddff00"/>
<polygon points="1417,175.9 1433.5,175.4 1418.1,156.8 1401.6,157.2" fill="#96ff00" stroke="#96ff00"/>
<polygon points="1449,193.6 1465.2,193 1449.7,174.9 1433.5,175.4" fill="#51ff00" stroke="#51ff00"/>
<polygon points="1480.9,210.6 1496.9,209.9 1481.2,192.4 1465.2,193" fill="#0eff00" stroke="#0eff00"/>
<polygon points="1512.6,226.9 1528.4,226.1 1512.6,209.2 1496.9,209.9" fill="#00ff32" stroke="#00ff32"/>
<polygon points="1544.2,242.5 1559.7,241.6 1543.9,225.3 1528.4,226.1" fill="#00ff70" stroke="#00ff70"/>
<polygon points="1575.7,257.5 1591,256.5 1575,240.7 1559.7,241.6" fill="#00ffac" stroke="#00ffac"/>
<polygon points="1607.1,271.9 1622.1,270.8 1606,255.5 1591,256.5" fill="#00ffe5" stroke="#00ffe5"/>
<polygon points="1638.4,285.6 1653.2,284.4 1637,269.7 1622.1,270.8" fill="#00e2ff" stroke="#00e2ff"/>
<polygon points="1400.3,176.4 1417,175.9 1401.6,157.2 1384.9,157.5" fill="#a8ff00" stroke="#a8ff00"/>
<polygon points="1432.6,194.2 1449,193.6 1433.5,175.4 1417,175.9" fill="#63ff00" stroke="#63ff00"/>
<polygon points="1464.7,211.3 1480.9,210.6 1465.2,193 1449,193.6" fill="#20ff00" stroke="#20ff00"/>
<polygon points="1560.3,258.6 1575.7,257.5 1559.7,241.6 1544.2,242.5" fill="#00ff9a" stroke="#00ff9a"/>
<polygon points="1591.9,273 1607.1,271.9 1591,256.5 1575.7,257.5" fill="#00ffd3" stroke="#00ffd3"/>
<polygon points="1623.4,286.8 1638.4,285.6 1622.1,270.8 1607.1,271.9" fill="#00f4ff" stroke="#00f4ff"/>
<polygon points="1367.9,157.9 1384.9,157.5 1369.5,138.2 1352.5,138.5" fill="#efff00" stroke="#efff00"/>
<polygon points="1496.7,227.7 1512.6,226.9 1496.9,209.9 1480.9,210.6" fill="#00ff20" stroke="#00ff20"/>
<polygon points="1528.5,243.5 1544.2,242.5 1528.4,226.1 1512.6,226.9" fill="#00ff5e" stroke="#00ff5e"/>
<polygon points="1654.8,300 1669.5,298.7 1653.2,284.4 1638.4,285.6" fill="#00c0ff" stroke="#00c0ff"/>
<polygon points="1416,194.8 1432.6,194.2 1417,175.9 1400.3,176.4" fill="#75ff00" stroke="#75ff00"/>
<polygon points="1448.3,212 1464.7,211.3 1449,193.6 1432.6,194.2" fill="#32ff00" stroke="#32ff00"/>
<polygon points="1576.4,274.1 1591.9,273 1575.7,257.5 1560.3,258.6" fill="#00ffc1" stroke="#00ffc1"/>
<polygon points="1608.2,288 1623.4,286.8 1607.1,271.9 1591.9,273" fill="#00fff8" stroke="#00fff8"/>
<polygon points="1350.8,158.3 1367.9,157.9 1352.5,138.5 1335.4,138.7" fill="#fffd00" stroke="#fffd00"/>
<polygon points="1383.4,176.9 1400.3,176.4 1384.9,157.5 1367.9,157.9" fill="#baff00" stroke="#baff00"/>
<polygon points="1480.5,228.5 1496.7,227.7 1480.9,210.6 1464.7,211.3" fill="#00ff0e" stroke="#00ff0e"/>
<polygon points="1512.6,244.4 1528.5,243.5 1512.6,226.9 1496.7,227.7" fill="#00ff4c" stroke="#00ff4c"/>
<polygon points="1544.6,259.6 1560.3,258.6 1544.2,242.5 1528.5,243.5" fill="#00ff88" stroke="#00ff88"/>
<polygon points="1639.8,301.3 1654.8,300 1638.4,285.6 1623.4,286.8" fill="#00d2ff" stroke="#00d2ff"/>
<polygon points="1671.4,313.9 1686.1,312.5 1669.5,298.7 1654.8,300" fill="#00a0ff" stroke="#00a0ff"/>
<polygon points="1431.7,212.8 1448.3,212 1432.6,194.2 1416,194.8" fill="#44ff00" stroke="#44ff00"/>
<polygon points="1592.8,289.3 1608.2,288 1591.9,273 1576.4,274.1" fill="#00ffe6" stroke="#00ffe6"/>
<polygon points="1399.1,195.4 1416,194.8 1400.3,176.4 1383.4,176.9" fill="#87ff00" stroke="#87ff00"/>
<polygon points="1464.2,229.4 1480.5,228.5 1464.7,211.3 1448.3,212" fill="#04ff00" stroke="#04ff00"/>
<polygon points="1496.5,245.4 1512.6,244.4 1496.7,227.7 1480.5,228.5" fill="#00ff3a" stroke="#00ff3a"/>
<polygon points="1528.7,260.7 1544.6,259.6 1528.5,243.5 1512.6,244.4" fill="#00ff75" stroke="#00ff75"/>
<polygon points="1560.8,275.3 1576.4,274.1 1560.3,258.6 1544.6,259.6" fill="#00ffaf" stroke="#00ffaf"/>
<polygon points="1624.7,302.6 1639.8,301.3 1623.4,286.8 1608.2,288" fill="#00e4ff" stroke="#00e4ff"/>
<polygon points="1333.4,158.7 1350.8,158.3 1335.4,138.7 1317.9,139" fill="#ffea00" stroke="#ffea00"/>
<polygon points="1366.3,177.4 1383.4,176.9 1367.9,157.9 1350.8,158.3" fill="#ccff00" stroke="#ccff00"/>
<polygon points="1656.4,315.3 1671.4,313.9 1654.8,300 1639.8,301.3" fill="#00b2ff" stroke="#00b2ff"/>
<polygon points="1688.1,327.3 1702.8,325.8 1686.1,312.5 1671.4,313.9" fill="#0082ff" stroke="#0082ff"/>
<polygon points="1315.8,159 1333.4,158.7 1317.9,139 1300.3,139.2" fill="#ffd800" stroke="#ffd800"/>
<polygon points="1349,177.9 1366.3,177.4 1350.8,158.3 1333.4,158.7" fill="#deff00" stroke="#deff00"/>
<polygon points="1382,196.1 1399.1,195.4 1383.4,176.9 1366.3,177.4" fill="#99ff00" stroke="#99ff00"/>
<polygon points="1414.9,213.5 1431.7,212.8 1416,194.8 1399.1,195.4" fill="#56ff00" stroke="#56ff00"/>
<polygon points="1447.6,230.3 1464.2,229.4 1448.3,212 1431.7,212.8" fill="#16ff00" stroke="#16ff00"/>
<polygon points="1480.2,246.3 1496.5,245.4 1480.5,228.5 1464.2,229.4" fill="#00ff28" stroke="#00ff28"/>
<polygon points="1512.6,261.7 1528.7,260.7 1512.6,244.4 1496.5,245.4" fill="#00ff63" stroke="#00ff63"/>
<polygon points="1545,276.4 1560.8,275.3 1544.6,259.6 1528.7,260.7" fill="#00ff9d" stroke="#00ff9d"/>
<polygon points="1577.2,290.5 1592.8,289.3 1576.4,274.1 1560.8,275.3" fill="#00ffd3" stroke="#00ffd3"/>
<polygon points="1609.3,303.9 1624.7,302.6 1608.2,288 1592.8,289.3" fill="#00f6ff" stroke="#00f6ff"/>
<polygon points="1641.3,316.7 1656.4,315.3 1639.8,301.3 1624.7,302.6" fill="#00c4ff" stroke="#00c4ff"/>
<polygon points="1673.2,328.8 1688.1,327.3 1671.4,313.9 1656.4,315.3" fill="#0094ff" stroke="#0094ff"/>
<polygon points="1705.1,340.3 1719.7,338.7 1702.8,325.8 1688.1,327.3" fill="#0067ff" stroke="#0067ff"/>
<polygon points="1463.6,247.3 1480.2,246.3 1464.2,229.4 1447.6,230.3" fill="#00ff16" stroke="#00ff16"/>
<polygon points="1496.3,262.8 1512.6,261.7 1496.5,245.4 1480.2,246.3" fill="#00ff51" stroke="#00ff51"/>
<polygon points="1528.9,277.6 1545,276.4 1528.7,260.7 1512.6,261.7" fill="#00ff8b" stroke="#00ff8b"/>
<polygon points="1561.4,291.8 1577.2,290.5 1560.8,275.3 1545,276.4" fill="#00ffc1" stroke="#00ffc1"/>
<polygon points="1297.9,159.4 1315.8,159 1300.3,139.2 1282.4,139.5" fill="#ffc600" stroke="#ffc600"/>
<polygon points="1331.4,178.4 1349,177.9 1333.4,158.7 1315.8,159" fill="#f0ff00" stroke="#f0ff00"/>
<polygon points="1364.7,196.7 1382,196.1 1366.3,177.4 1349,177.9" fill="#abff00" stroke="#abff00"/>
<polygon points="1397.8,214.3 1414.9,213.5 1399.1,195.4 1382,196.1" fill="#69ff00" stroke="#69ff00"/>
<polygon points="1430.8,231.1 1447.6,230.3 1431.7,212.8 1414.9,213.5" fill="#28ff00" stroke="#28ff00"/>
<polygon points="1593.7,305.3 1609.3,303.9 1592.8,289.3 1577.2,290.5" fill="#00fff6" stroke="#00fff6"/>
<polygon points="1626,318.1 1641.3,316.7 1624.7,302.6 1609.3,303.9" fill="#00d6ff" stroke="#00d6ff"/>
<polygon points="1658.1,330.3 1673.2,328.8 1656.4,315.3 1641.3,316.7" fill="#00a6ff" stroke="#00a6ff"/>
<polygon points="1690.2,341.9 1705.1,340.3 1688.1,327.3 1673.2,328.8" fill="#0079ff" stroke="#0079ff"/>
<polygon points="1722.2,352.8 1736.8,351.1 1719.7,338.7 1705.1,340.3" fill="#004eff" stroke="#004eff"/>
<polygon points="1313.5,178.9 1331.4,178.4 1315.8,159 1297.9,159.4" fill="#fffc00" stroke="#fffc00"/>
<polygon points="1347.1,197.3 1364.7,196.7 1349,177.9 1331.4,178.4" fill="#bdff00" stroke="#bdff00"/>
<polygon points="1380.5,215 1397.8,214.3 1382,196.1 1364.7,196.7" fill="#7bff00" stroke="#7bff00"/>
<polygon points="1479.8,263.9 1496.3,262.8 1480.2,246.3 1463.6,247.3" fill="#00ff3f" stroke="#00ff3f"/>
<polygon points="1512.6,278.8 1528.9,277.6 1512.6,261.7 1496.3,262.8" fill="#00ff78" stroke="#00ff78"/>
<polygon points="1545.3,293.1 1561.4,291.8 1545,276.4 1528.9,277.6" fill="#00ffaf" stroke="#00ffaf"/>
<polygon points="1642.8,331.9 1658.1,330.3 1641.3,316.7 1626,318.1" fill="#00b8ff" stroke="#00b8ff"/>
<polygon points="1675.2,343.5 1690.2,341.9 1673.2,328.8 1658.1,330.3" fill="#008bff" stroke="#008bff"/>
<polygon points="1707.4,354.5 1722.2,352.8 1705.1,340.3 1690.2,341.9" fill="#0060ff" stroke="#0060ff"/>
<polygon points="1279.8,159.8 1297.9,159.4 1282.4,139.5 1264.3,139.7" fill="#ffb400" stroke="#ffb400"/>
<polygon points="1446.8,248.3 1463.6,247.3 1447.6,230.3 1430.8,231.1" fill="#00ff04" stroke="#00ff04"/>
<polygon points="1577.9,306.7 1593.7,305.3 1577.2,290.5 1561.4,291.8" fill="#00ffe4" stroke="#00ffe4"/>
<polygon points="1739.6,364.9 1754.1,363.1 1736.8,351.1 1722.2,352.8" fill="#0037ff" stroke="#0037ff"/>
<polygon points="1413.7,232 1430.8,231.1 1414.9,213.5 1397.8,214.3" fill="#3aff00" stroke="#3aff00"/>
<polygon points="1610.4,319.6 1626,318.1 1609.3,303.9 1593.7,305.3" fill="#00e8ff" stroke="#00e8ff"/>
<polygon points="1496.1,280 1512.6,278.8 1496.3,262.8 1479.8,263.9" fill="#00ff66" stroke="#00ff66"/>
<polygon points="1529.1,294.4 1545.3,293.1 1528.9,277.6 1512.6,278.8" fill="#00ff9d" stroke="#00ff9d"/>
<polygon points="1329.3,198 1347.1,197.3 1331.4,178.4 1313.5,178.9" fill="#cfff00" stroke="#cfff00"/>
<polygon points="1362.9,215.8 1380.5,215 1364.7,196.7 1347.1,197.3" fill="#8dff00" stroke="#8dff00"/>
<polygon points="1659.9,345.1 1675.2,343.5 1658.1,330.3 1642.8,331.9" fill="#009dff" stroke="#009dff"/>
<polygon points="1692.4,356.2 1707.4,354.5 1690.2,341.9 1675.2,343.5" fill="#0072ff" stroke="#0072ff"/>
<polygon points="1295.4,179.5 1313.5,178.9 1297.9,159.4 1279.8,159.8" fill="#ffea00" stroke="#ffea00"/>
<polygon points="1463,265 1479.8,263.9 1463.6,247.3 1446.8,248.3" fill="#00ff2d" stroke="#00ff2d"/>
<polygon points="1561.9,308.1 1577.9,306.7 1561.4,291.8 1545.3,293.1" fill="#00ffd2" stroke="#00ffd2"/>
<polygon points="1724.8,366.6 1739.6,364.9 1722.2,352.8 1707.4,354.5" fill="#004aff" stroke="#004aff"/>
<polygon points="1396.5,232.9 1413.7,232 1397.8,214.3 1380.5,215" fill="#4cff00" stroke="#4cff00"/>
<polygon points="1429.8,249.3 1446.8,248.3 1430.8,231.1 1413.7,232" fill="#0eff00" stroke="#0eff00"/>
<polygon points="1594.7,321.1 1610.4,319.6 1593.7,305.3 1577.9,306.7" fill="#00faff" stroke="#00faff"/>
<polygon points="1627.3,333.4 1642.8,331.9 1626,318.1 1610.4,319.6" fill="#00cbff" stroke="#00cbff"/>
<polygon points="1261.4,160.2 1279.8,159.8 1264.3,139.7 1245.9,140" fill="#ffa200" stroke="#ffa200"/>
<polygon points="1757.1,376.4 1771.7,374.6 1754.1,363.1 1739.6,364.9" fill="#0023ff" stroke="#0023ff"/>
<polygon points="1512.6,295.7 1529.1,294.4 1512.6,278.8 1496.1,280" fill="#00ff8b" stroke="#00ff8b"/>
<polygon points="1345.2,216.6 1362.9,215.8 1347.1,197.3 1329.3,198" fill="#9fff00" stroke="#9fff00"/>
<polygon points="1677.1,357.9 1692.4,356.2 1675.2,343.5 1659.9,345.1" fill="#0084ff" stroke="#0084ff"/>
<polygon points="1242.8,160.6 1261.4,160.2 1245.9,140 1227.2,140.3" fill="#ff9000" stroke="#ff9000"/>
<polygon points="1311.2,198.7 1329.3,198 1313.5,178.9 1295.4,179.5" fill="#e1ff00" stroke="#e1ff00"/>
<polygon points="1479.4,281.3 1496.1,280 1479.8,263.9 1463,265" fill="#00ff54" stroke="#00ff54"/>
<polygon points="1545.7,309.5 1561.9,308.1 1545.3,293.1 1529.1,294.4" fill="#00ffc0" stroke="#00ffc0"/>
<polygon points="1709.8,368.4 1724.8,366.6 1707.4,354.5 1692.4,356.2" fill="#005cff" stroke="#005cff"/>
<polygon points="1774.9,387.5 1789.4,385.6 1771.7,374.6 1757.1,376.4" fill="#0012ff" stroke="#0012ff"/>
<polygon points="1378.9,233.8 1396.5,232.9 1380.5,215 1362.9,215.8" fill="#5eff00" stroke="#5eff00"/>
<polygon points="1412.6,250.3 1429.8,249.3 1413.7,232 1396.5,232.9" fill="#21ff00" stroke="#21ff00"/>
<polygon points="1446.1,266.1 1463,265 1446.8,248.3 1429.8,249.3" fill="#00ff1b" stroke="#00ff1b"/>
<polygon points="1578.7,322.6 1594.7,321.1 1577.9,306.7 1561.9,308.1" fill="#00fff2" stroke="#00fff2"/>
<polygon points="1611.6,335 1627.3,333.4 1610.4,319.6 1594.7,321.1" fill="#00ddff" stroke="#00ddff"/>
<polygon points="1644.4,346.8 1659.9,345.1 1642.8,331.9 1627.3,333.4" fill="#00afff" stroke="#00afff"/>
<polygon points="1277.1,180 1295.4,179.5 1279.8,159.8 1261.4,160.2" fill="#ffd700" stroke="#ffd700"/>
<polygon points="1742.4,378.3 1757.1,376.4 1739.6,364.9 1724.8,366.6" fill="#0035ff" stroke="#0035ff"/>
<polygon points="1258.5,180.6 1277.1,180 1261.4,160.2 1242.8,160.6" fill="#ffc500" stroke="#ffc500"/>
<polygon points="1327.1,217.4 1345.2,216.6 1329.3,198 1311.2,198.7" fill="#b1ff00" stroke="#b1ff00"/>
<polygon points="1495.9,297 1512.6,295.7 1496.1,280 1479.4,281.3" fill="#00ff79" stroke="#00ff79"/>
<polygon points="1529.3,310.9 1545.7,309.5 1529.1,294.4 1512.6,295.7" fill="#00ffad" stroke="#00ffad"/>
<polygon points="1694.6,370.3 1709.8,368.4 1692.4,356.2 1677.1,357.9" fill="#006eff" stroke="#006eff"/>
<polygon points="1760.2,389.5 1774.9,387.5 1757.1,376.4 1742.4,378.3" fill="#0024ff" stroke="#0024ff"/>
<polygon points="1361.2,234.7 1378.9,233.8 1362.9,215.8 1345.2,216.6" fill="#71ff00" stroke="#71ff00"/>
<polygon points="1395.1,251.3 1412.6,250.3 1396.5,232.9 1378.9,233.8" fill="#33ff00" stroke="#33ff00"/>
<polygon points="1428.8,267.3 1446.1,266.1 1429.8,249.3 1412.6,250.3" fill="#00ff09" stroke="#00ff09"/>
<polygon points="1462.4,282.5 1479.4,281.3 1463,265 1446.1,266.1" fill="#00ff42" stroke="#00ff42"/>
<polygon points="1562.5,324.1 1578.7,322.6 1561.9,308.1 1545.7,309.5" fill="#00ffe0" stroke="#00ffe0"/>
<polygon points="1595.7,336.6 1611.6,335 1594.7,321.1 1578.7,322.6" fill="#00efff" stroke="#00efff"/>
<polygon points="1628.7,348.5 1644.4,346.8 1627.3,333.4 1611.6,335" fill="#00c1ff" stroke="#00c1ff"/>
<polygon points="1661.7,359.7 1677.1,357.9 1659.9,345.1 1644.4,346.8" fill="#0096ff" stroke="#0096ff"/>
<polygon points="1223.9,161.1 1242.8,160.6 1227.2,140.3 1208.3,140.5" fill="#ff7e00" stroke="#ff7e00"/>
<polygon points="1292.9,199.3 1311.2,198.7 1295.4,179.5 1277.1,180" fill="#f4ff00" stroke="#f4ff00"/>
<polygon points="1727.4,380.2 1742.4,378.3 1724.8,366.6 1709.8,368.4" fill="#0047ff" stroke="#0047ff"/>
<polygon points="1792.9,398.1 1807.3,396.1 1789.4,385.6 1774.9,387.5" fill="#0002ff" stroke="#0002ff"/>
<polygon points="1274.3,200 1292.9,199.3 1277.1,180 1258.5,180.6" fill="#fff800" stroke="#fff800"/>
<polygon points="1745.2,391.5 1760.2,389.5 1742.4,378.3 1727.4,380.2" fill="#0036ff" stroke="#0036ff"/>
<polygon points="1377.3,252.4 1395.1,251.3 1378.9,233.8 1361.2,234.7" fill="#45ff00" stroke="#45ff00"/>
<polygon points="1411.4,268.4 1428.8,267.3 1412.6,250.3 1395.1,251.3" fill="#09ff00" stroke="#09ff00"/>
<polygon points="1445.3,283.8 1462.4,282.5 1446.1,266.1 1428.8,267.3" fill="#00ff30" stroke="#00ff30"/>
<polygon points="1479,298.4 1495.9,297 1479.4,281.3 1462.4,282.5" fill="#00ff67" stroke="#00ff67"/>
<polygon points="1546.1,325.6 1562.5,324.1 1545.7,309.5 1529.3,310.9" fill="#00ffce" stroke="#00ffce"/>
<polygon points="1579.5,338.2 1595.7,336.6 1578.7,322.6 1562.5,324.1" fill="#00fffd" stroke="#00fffd"/>
<polygon points="1612.8,350.2 1628.7,348.5 1611.6,335 1595.7,336.6" fill="#00d3ff" stroke="#00d3ff"/>
<polygon points="1646.1,361.5 1661.7,359.7 1644.4,346.8 1628.7,348.5" fill="#00a8ff" stroke="#00a8ff"/>
<polygon points="1239.6,181.1 1258.5,180.6 1242.8,160.6 1223.9,161.1" fill="#ffb300" stroke="#ffb300"/>
<polygon points="1308.8,218.2 1327.1,217.4 1311.2,198.7 1292.9,199.3" fill="#c3ff00" stroke="#c3ff00"/>
<polygon points="1343.2,235.7 1361.2,234.7 1345.2,216.6 1327.1,217.4" fill="#83ff00" stroke="#83ff00"/>
<polygon points="1512.6,312.4 1529.3,310.9 1512.6,295.7 1495.9,297" fill="#00ff9b" stroke="#00ff9b"/>
<polygon points="1679.2,372.1 1694.6,370.3 1677.1,357.9 1661.7,359.7" fill="#0080ff" stroke="#0080ff"/>
<polygon points="1712.3,382.1 1727.4,380.2 1709.8,368.4 1694.6,370.3" fill="#005aff" stroke="#005aff"/>
<polygon points="1778.2,400.2 1792.9,398.1 1774.9,387.5 1760.2,389.5" fill="#0014ff" stroke="#0014ff"/>
<polygon points="1204.8,161.5 1223.9,161.1 1208.3,140.5 1189.1,140.8" fill="#ff6c00" stroke="#ff6c00"/>
<polygon points="1811.1,408.2 1825.5,406.2 1807.3,396.1 1792.9,398.1" fill="#0000ff" stroke="#0000ff"/>
<polygon points="1290.3,219 1308.8,218.2 1292.9,199.3 1274.3,200" fill="#d5ff00" stroke="#d5ff00"/>
<polygon points="1730.1,393.5 1745.2,391.5 1727.4,380.2 1712.3,382.1" fill="#0048ff" stroke="#0048ff"/>
<polygon points="1393.7,269.6 1411.4,268.4 1395.1,251.3 1377.3,252.4" fill="#1bff00" stroke="#1bff00"/>
<polygon points="1427.8,285 1445.3,283.8 1428.8,267.3 1411.4,268.4" fill="#00ff1e" stroke="#00ff1e"/>
<polygon points="1461.8,299.8 1479,298.4 1462.4,282.5 1445.3,283.8" fill="#00ff55" stroke="#00ff55"/>
<polygon points="1563.2,339.9 1579.5,338.2 1562.5,324.1 1546.1,325.6" fill="#00ffeb" stroke="#00ffeb"/>
<polygon points="1596.7,351.9 1612.8,350.2 1595.7,336.6 1579.5,338.2" fill="#00e5ff" stroke="#00e5ff"/>
<polygon points="1630.2,363.3 1646.1,361.5 1628.7,348.5 1612.8,350.2" fill="#00bbff" stroke="#00bbff"/>
<polygon points="1185.3,161.9 1204.8,161.5 1189.1,140.8 1169.7,141.1" fill="#ff5a00" stroke="#ff5a00"/>
<polygon points="1255.5,200.7 1274.3,200 1258.5,180.6 1239.6,181.1" fill="#ffe600" stroke="#ffe600"/>
<polygon points="1359.4,253.5 1377.3,252.4 1361.2,234.7 1343.2,235.7" fill="#57ff00" stroke="#57ff00"/>
<polygon points="1663.6,374 1679.2,372.1 1661.7,359.7 1646.1,361.5" fill="#0092ff" stroke="#0092ff"/>
<polygon points="1763.3,402.2 1778.2,400.2 1760.2,389.5 1745.2,391.5" fill="#0026ff" stroke="#0026ff"/>
<polygon points="1829.5,417.9 1843.9,415.7 1825.5,406.2 1811.1,408.2" fill="#0000ff" stroke="#0000ff"/>
<polygon points="1495.7,313.8 1512.6,312.4 1495.9,297 1479,298.4" fill="#00ff89" stroke="#00ff89"/>
<polygon points="1529.5,327.2 1546.1,325.6 1529.3,310.9 1512.6,312.4" fill="#00ffbb" stroke="#00ffbb"/>
<polygon points="1220.5,181.7 1239.6,181.1 1223.9,161.1 1204.8,161.5" fill="#ffa100" stroke="#ffa100"/>
<polygon points="1324.9,236.6 1343.2,235.7 1327.1,217.4 1308.8,218.2" fill="#95ff00" stroke="#95ff00"/>
<polygon points="1696.9,384.1 1712.3,382.1 1694.6,370.3 1679.2,372.1" fill="#006cff" stroke="#006cff"/>
<polygon points="1796.4,410.4 1811.1,408.2 1792.9,398.1 1778.2,400.2" fill="#0007ff" stroke="#0007ff"/>
<polygon points="1410.1,286.3 1427.8,285 1411.4,268.4 1393.7,269.6" fill="#00ff0c" stroke="#00ff0c"/>
<polygon points="1444.4,301.2 1461.8,299.8 1445.3,283.8 1427.8,285" fill="#00ff43" stroke="#00ff43"/>
<polygon points="1580.4,353.7 1596.7,351.9 1579.5,338.2 1563.2,339.9" fill="#00f8ff" stroke="#00f8ff"/>
<polygon points="1614.1,365.1 1630.2,363.3 1612.8,350.2 1596.7,351.9" fill="#00cdff" stroke="#00cdff"/>
<polygon points="1201.1,182.3 1220.5,181.7 1204.8,161.5 1185.3,161.9" fill="#ff8f00" stroke="#ff8f00"/>
<polygon points="1271.5,219.9 1290.3,219 1274.3,200 1255.5,200.7" fill="#e7ff00" stroke="#e7ff00"/>
<polygon points="1306.4,237.6 1324.9,236.6 1308.8,218.2 1290.3,219" fill="#a7ff00" stroke="#a7ff00"/>
<polygon points="1375.7,270.8 1393.7,269.6 1377.3,252.4 1359.4,253.5" fill="#2dff00" stroke="#2dff00"/>
<polygon points="1647.7,375.9 1663.6,374 1646.1,361.5 1630.2,363.3" fill="#00a4ff" stroke="#00a4ff"/>
<polygon points="1714.8,395.5 1730.1,393.5 1712.3,382.1 1696.9,384.1" fill="#005aff" stroke="#005aff"/>
<polygon points="1748.2,404.3 1763.3,402.2 1745.2,391.5 1730.1,393.5" fill="#0038ff" stroke="#0038ff"/>
<polygon points="1814.9,420.1 1829.5,417.9 1811.1,408.2 1796.4,410.4" fill="#0000ff" stroke="#0000ff"/>
<polygon points="1478.6,315.3 1495.7,313.8 1479,298.4 1461.8,299.8" fill="#00ff77" stroke="#00ff77"/>
<polygon points="1546.6,341.6 1563.2,339.9 1546.1,325.6 1529.5,327.2" fill="#00ffd9" stroke="#00ffd9"/>
<polygon points="1236.4,201.4 1255.5,200.7 1239.6,181.1 1220.5,181.7" fill="#ffd400" stroke="#ffd400"/>
<polygon points="1341.1,254.5 1359.4,253.5 1343.2,235.7 1324.9,236.6" fill="#69ff00" stroke="#69ff00"/>
<polygon points="1512.6,328.8 1529.5,327.2 1512.6,312.4 1495.7,313.8" fill="#00ffa9" stroke="#00ffa9"/>
<polygon points="1681.3,386 1696.9,384.1 1679.2,372.1 1663.6,374" fill="#007eff" stroke="#007eff"/>
<polygon points="1781.6,412.5 1796.4,410.4 1778.2,400.2 1763.3,402.2" fill="#0019ff" stroke="#0019ff"/>
<polygon points="1426.8,302.6 1444.4,301.2 1427.8,285 1410.1,286.3" fill="#00ff31" stroke="#00ff31"/>
<polygon points="1597.8,367 1614.1,365.1 1596.7,351.9 1580.4,353.7" fill="#00dfff" stroke="#00dfff"/>
<polygon points="1217,202.2 1236.4,201.4 1220.5,181.7 1201.1,182.3" fill="#ffc200" stroke="#ffc200"/>
<polygon points="1322.6,255.6 1341.1,254.5 1324.9,236.6 1306.4,237.6" fill="#7bff00" stroke="#7bff00"/>
<polygon points="1392.2,287.6 1410.1,286.3 1393.7,269.6 1375.7,270.8" fill="#06ff00" stroke="#06ff00"/>
<polygon points="1631.7,377.8 1647.7,375.9 1630.2,363.3 1614.1,365.1" fill="#00b6ff" stroke="#00b6ff"/>
<polygon points="1699.3,397.6 1714.8,395.5 1696.9,384.1 1681.3,386" fill="#006cff" stroke="#006cff"/>
<polygon points="1800.2,422.3 1814.9,420.1 1796.4,410.4 1781.6,412.5" fill="#000fff" stroke="#000fff"/>
<polygon points="1461.2,316.8 1478.6,315.3 1461.8,299.8 1444.4,301.2" fill="#00ff65" stroke="#00ff65"/>
<polygon points="1563.8,355.5 1580.4,353.7 1563.2,339.9 1546.6,341.6" fill="#00fff4" stroke="#00fff4"/>
<polygon points="1252.4,220.7 1271.5,219.9 1255.5,200.7 1236.4,201.4" fill="#f9ff00" stroke="#f9ff00"/>
<polygon points="1287.6,238.5 1306.4,237.6 1290.3,219 1271.5,219.9" fill="#b9ff00" stroke="#b9ff00"/>
<polygon points="1357.5,272 1375.7,270.8 1359.4,253.5 1341.1,254.5" fill="#3fff00" stroke="#3fff00"/>
<polygon points="1495.5,330.4 1512.6,328.8 1495.7,313.8 1478.6,315.3" fill="#00ff97" stroke="#00ff97"/>
<polygon points="1529.7,343.3 1546.6,341.6 1529.5,327.2 1512.6,328.8" fill="#00ffc7" stroke="#00ffc7"/>
<polygon points="1665.5,388 1681.3,386 1663.6,374 1647.7,375.9" fill="#0090ff" stroke="#0090ff"/>
<polygon points="1732.9,406.5 1748.2,404.3 1730.1,393.5 1714.8,395.5" fill="#004aff" stroke="#004aff"/>
<polygon points="1766.6,414.7 1781.6,412.5 1763.3,402.2 1748.2,404.3" fill="#002bff" stroke="#002bff"/>
<polygon points="1233,221.6 1252.4,220.7 1236.4,201.4 1217,202.2" fill="#fff300" stroke="#fff300"/>
<polygon points="1339,273.2 1357.5,272 1341.1,254.5 1322.6,255.6" fill="#51ff00" stroke="#51ff00"/>
<polygon points="1408.9,304 1426.8,302.6 1410.1,286.3 1392.2,287.6" fill="#00ff1f" stroke="#00ff1f"/>
<polygon points="1615.4,379.8 1631.7,377.8 1614.1,365.1 1597.8,367" fill="#00c8ff" stroke="#00c8ff"/>
<polygon points="1683.5,399.7 1699.3,397.6 1681.3,386 1665.5,388" fill="#007eff" stroke="#007eff"/>
<polygon points="1785.1,424.5 1800.2,422.3 1781.6,412.5 1766.6,414.7" fill="#0021ff" stroke="#0021ff"/>
<polygon points="1443.6,318.4 1461.2,316.8 1444.4,301.2 1426.8,302.6" fill="#00ff53" stroke="#00ff53"/>
<polygon points="1581.2,368.9 1597.8,367 1580.4,353.7 1563.8,355.5" fill="#00f1ff" stroke="#00f1ff"/>
<polygon points="1303.8,256.7 1322.6,255.6 1306.4,237.6 1287.6,238.5" fill="#8dff00" stroke="#8dff00"/>
<polygon points="1374,289 1392.2,287.6 1375.7,270.8 1357.5,272" fill="#18ff00" stroke="#18ff00"/>
<polygon points="1478.2,332 1495.5,330.4 1478.6,315.3 1461.2,316.8" fill="#00ff85" stroke="#00ff85"/>
<polygon points="1512.6,345 1529.7,343.3 1512.6,328.8 1495.5,330.4" fill="#00ffb5" stroke="#00ffb5"/>
<polygon points="1547,357.3 1563.8,355.5 1546.6,341.6 1529.7,343.3" fill="#00ffe2" stroke="#00ffe2"/>
<polygon points="1649.5,390.1 1665.5,388 1647.7,375.9 1631.7,377.8" fill="#00a2ff" stroke="#00a2ff"/>
<polygon points="1717.4,408.6 1732.9,406.5 1714.8,395.5 1699.3,397.6" fill="#005dff" stroke="#005dff"/>
<polygon points="1268.5,239.5 1287.6,238.5 1271.5,219.9 1252.4,220.7" fill="#cbff00" stroke="#cbff00"/>
<polygon points="1751.3,416.9 1766.6,414.7 1748.2,404.3 1732.9,406.5" fill="#003dff" stroke="#003dff"/>
<polygon points="1355.5,290.3 1374,289 1357.5,272 1339,273.2" fill="#2aff00" stroke="#2aff00"/>
<polygon points="1667.5,401.8 1683.5,399.7 1665.5,388 1649.5,390.1" fill="#0090ff" stroke="#0090ff"/>
<polygon points="1249.2,240.5 1268.5,239.5 1252.4,220.7 1233,221.6" fill="#ddff00" stroke="#ddff00"/>
<polygon points="1320.3,274.5 1339,273.2 1322.6,255.6 1303.8,256.7" fill="#64ff00" stroke="#64ff00"/>
<polygon points="1390.7,305.5 1408.9,304 1392.2,287.6 1374,289" fill="#00ff0d" stroke="#00ff0d"/>
<polygon points="1425.7,319.9 1443.6,318.4 1426.8,302.6 1408.9,304" fill="#00ff41" stroke="#00ff41"/>
<polygon points="1460.6,333.7 1478.2,332 1461.2,316.8 1443.6,318.4" fill="#00ff73" stroke="#00ff73"/>
<polygon points="1495.3,346.7 1512.6,345 1495.5,330.4 1478.2,332" fill="#00ffa3" stroke="#00ffa3"/>
<polygon points="1529.9,359.1 1547,357.3 1529.7,343.3 1512.6,345" fill="#00ffd0" stroke="#00ffd0"/>
<polygon points="1564.5,370.8 1581.2,368.9 1563.8,355.5 1547,357.3" fill="#00fffb" stroke="#00fffb"/>
<polygon points="1598.9,381.8 1615.4,379.8 1597.8,367 1581.2,368.9" fill="#00daff" stroke="#00daff"/>
<polygon points="1633.2,392.1 1649.5,390.1 1631.7,377.8 1615.4,379.8" fill="#00b4ff" stroke="#00b4ff"/>
<polygon points="1701.7,410.8 1717.4,408.6 1699.3,397.6 1683.5,399.7" fill="#006fff" stroke="#006fff"/>
<polygon points="1769.9,426.8 1785.1,424.5 1766.6,414.7 1751.3,416.9" fill="#0033ff" stroke="#0033ff"/>
<polygon points="1284.8,257.9 1303.8,256.7 1287.6,238.5 1268.5,239.5" fill="#9fff00" stroke="#9fff00"/>
<polygon points="1735.8,419.1 1751.3,416.9 1732.9,406.5 1717.4,408.6" fill="#004fff" stroke="#004fff"/>
<polygon points="1372.2,307 1390.7,305.5 1374,289 1355.5,290.3" fill="#06ff00" stroke="#06ff00"/>
<polygon points="1651.3,403.9 1667.5,401.8 1649.5,390.1 1633.2,392.1" fill="#00a2ff" stroke="#00a2ff"/>
<polygon points="1265.5,259 1284.8,257.9 1268.5,239.5 1249.2,240.5" fill="#b1ff00" stroke="#b1ff00"/>
<polygon points="1336.8,291.7 1355.5,290.3 1339,273.2 1320.3,274.5" fill="#3cff00" stroke="#3cff00"/>
<polygon points="1477.7,348.5 1495.3,346.7 1478.2,332 1460.6,333.7" fill="#00ff91" stroke="#00ff91"/>
<polygon points="1512.6,361 1529.9,359.1 1512.6,345 1495.3,346.7" fill="#00ffbe" stroke="#00ffbe"/>
<polygon points="1547.4,372.7 1564.5,370.8 1547,357.3 1529.9,359.1" fill="#00ffe9" stroke="#00ffe9"/>
<polygon points="1685.8,413 1701.7,410.8 1683.5,399.7 1667.5,401.8" fill="#0081ff" stroke="#0081ff"/>
<polygon points="1754.5,429.2 1769.9,426.8 1751.3,416.9 1735.8,419.1" fill="#0045ff" stroke="#0045ff"/>
<polygon points="1442.7,335.4 1460.6,333.7 1443.6,318.4 1425.7,319.9" fill="#00ff61" stroke="#00ff61"/>
<polygon points="1582.1,383.8 1598.9,381.8 1581.2,368.9 1564.5,370.8" fill="#00ecff" stroke="#00ecff"/>
<polygon points="1301.2,275.7 1320.3,274.5 1303.8,256.7 1284.8,257.9" fill="#76ff00" stroke="#76ff00"/>
<polygon points="1407.5,321.5 1425.7,319.9 1408.9,304 1390.7,305.5" fill="#00ff2f" stroke="#00ff2f"/>
<polygon points="1616.8,394.2 1633.2,392.1 1615.4,379.8 1598.9,381.8" fill="#00c6ff" stroke="#00c6ff"/>
<polygon points="1720.2,421.4 1735.8,419.1 1717.4,408.6 1701.7,410.8" fill="#0062ff" stroke="#0062ff"/>
<polygon points="1281.9,277 1301.2,275.7 1284.8,257.9 1265.5,259" fill="#88ff00" stroke="#88ff00"/>
<polygon points="1353.5,308.5 1372.2,307 1355.5,290.3 1336.8,291.7" fill="#18ff00" stroke="#18ff00"/>
<polygon points="1389.1,323.1 1407.5,321.5 1390.7,305.5 1372.2,307" fill="#00ff1d" stroke="#00ff1d"/>
<polygon points="1459.9,350.3 1477.7,348.5 1460.6,333.7 1442.7,335.4" fill="#00ff7f" stroke="#00ff7f"/>
<polygon points="1495.1,362.8 1512.6,361 1495.3,346.7 1477.7,348.5" fill="#00ffac" stroke="#00ffac"/>
<polygon points="1530.2,374.7 1547.4,372.7 1529.9,359.1 1512.6,361" fill="#00ffd7" stroke="#00ffd7"/>
<polygon points="1565.1,385.8 1582.1,383.8 1564.5,370.8 1547.4,372.7" fill="#00feff" stroke="#00feff"/>
<polygon points="1634.8,406.1 1651.3,403.9 1633.2,392.1 1616.8,394.2" fill="#00b4ff" stroke="#00b4ff"/>
<polygon points="1669.6,415.3 1685.8,413 1667.5,401.8 1651.3,403.9" fill="#0093ff" stroke="#0093ff"/>
<polygon points="1738.8,431.5 1754.5,429.2 1735.8,419.1 1720.2,421.4" fill="#0057ff" stroke="#0057ff"/>
<polygon points="1317.8,293.1 1336.8,291.7 1320.3,274.5 1301.2,275.7" fill="#4eff00" stroke="#4eff00"/>
<polygon points="1704.2,423.7 1720.2,421.4 1701.7,410.8 1685.8,413" fill="#0074ff" stroke="#0074ff"/>
<polygon points="1424.6,337.1 1442.7,335.4 1425.7,319.9 1407.5,321.5" fill="#00ff4f" stroke="#00ff4f"/>
<polygon points="1600,396.3 1616.8,394.2 1598.9,381.8 1582.1,383.8" fill="#00d8ff" stroke="#00d8ff"/>
<polygon points="1298.5,294.5 1317.8,293.1 1301.2,275.7 1281.9,277" fill="#61ff00" stroke="#61ff00"/>
<polygon points="1512.6,376.7 1530.2,374.7 1512.6,361 1495.1,362.8" fill="#00ffc5" stroke="#00ffc5"/>
<polygon points="1723,433.9 1738.8,431.5 1720.2,421.4 1704.2,423.7" fill="#0069ff" stroke="#0069ff"/>
<polygon points="1334.6,310 1353.5,308.5 1336.8,291.7 1317.8,293.1" fill="#2aff00" stroke="#2aff00"/>
<polygon points="1370.4,324.8 1389.1,323.1 1372.2,307 1353.5,308.5" fill="#00ff0b" stroke="#00ff0b"/>
<polygon points="1406.2,338.8 1424.6,337.1 1407.5,321.5 1389.1,323.1" fill="#00ff3d" stroke="#00ff3d"/>
<polygon points="1441.8,352.1 1459.9,350.3 1442.7,335.4 1424.6,337.1" fill="#00ff6d" stroke="#00ff6d"/>
<polygon points="1477.3,364.7 1495.1,362.8 1477.7,348.5 1459.9,350.3" fill="#00ff9a" stroke="#00ff9a"/>
<polygon points="1547.9,387.9 1565.1,385.8 1547.4,372.7 1530.2,374.7" fill="#00ffee" stroke="#00ffee"/>
<polygon points="1583.1,398.5 1600,396.3 1582.1,383.8 1565.1,385.8" fill="#00eaff" stroke="#00eaff"/>
<polygon points="1618.1,408.3 1634.8,406.1 1616.8,394.2 1600,396.3" fill="#00c6ff" stroke="#00c6ff"/>
<polygon points="1653.1,417.5 1669.6,415.3 1651.3,403.9 1634.8,406.1" fill="#00a5ff" stroke="#00a5ff"/>
<polygon points="1688.1,426.1 1704.2,423.7 1685.8,413 1669.6,415.3" fill="#0086ff" stroke="#0086ff"/>
<polygon points="1315.3,311.5 1334.6,310 1317.8,293.1 1298.5,294.5" fill="#3cff00" stroke="#3cff00"/>
<polygon points="1423.4,354 1441.8,352.1 1424.6,337.1 1406.2,338.8" fill="#00ff5a" stroke="#00ff5a"/>
<polygon points="1494.8,378.7 1512.6,376.7 1495.1,362.8 1477.3,364.7" fill="#00ffb3" stroke="#00ffb3"/>
<polygon points="1530.4,390 1547.9,387.9 1530.2,374.7 1512.6,376.7" fill="#00ffdb" stroke="#00ffdb"/>
<polygon points="1601.2,410.6 1618.1,408.3 1600,396.3 1583.1,398.5" fill="#00d8ff" stroke="#00d8ff"/>
<polygon points="1706.8,436.4 1723,433.9 1704.2,423.7 1688.1,426.1" fill="#007bff" stroke="#007bff"/>
<polygon points="1351.5,326.4 1370.4,324.8 1353.5,308.5 1334.6,310" fill="#07ff00" stroke="#07ff00"/>
<polygon points="1387.5,340.5 1406.2,338.8 1389.1,323.1 1370.4,324.8" fill="#00ff2b" stroke="#00ff2b"/>
<polygon points="1459.2,366.7 1477.3,364.7 1459.9,350.3 1441.8,352.1" fill="#00ff88" stroke="#00ff88"/>
<polygon points="1565.8,400.6 1583.1,398.5 1565.1,385.8 1547.9,387.9" fill="#00fcff" stroke="#00fcff"/>
<polygon points="1636.5,419.9 1653.1,417.5 1634.8,406.1 1618.1,408.3" fill="#00b7ff" stroke="#00b7ff"/>
<polygon points="1671.7,428.4 1688.1,426.1 1669.6,415.3 1653.1,417.5" fill="#0098ff" stroke="#0098ff"/>
<polygon points="1332.2,328.1 1351.5,326.4 1334.6,310 1315.3,311.5" fill="#19ff00" stroke="#19ff00"/>
<polygon points="1404.8,355.9 1423.4,354 1406.2,338.8 1387.5,340.5" fill="#00ff48" stroke="#00ff48"/>
<polygon points="1440.8,368.7 1459.2,366.7 1441.8,352.1 1423.4,354" fill="#00ff76" stroke="#00ff76"/>
<polygon points="1476.8,380.8 1494.8,378.7 1477.3,364.7 1459.2,366.7" fill="#00ffa1" stroke="#00ffa1"/>
<polygon points="1512.6,392.2 1530.4,390 1512.6,376.7 1494.8,378.7" fill="#00ffc9" stroke="#00ffc9"/>
<polygon points="1548.4,402.9 1565.8,400.6 1547.9,387.9 1530.4,390" fill="#00fff0" stroke="#00fff0"/>
<polygon points="1584,412.9 1601.2,410.6 1583.1,398.5 1565.8,400.6" fill="#00ebff" stroke="#00ebff"/>
<polygon points="1619.6,422.2 1636.5,419.9 1618.1,408.3 1601.2,410.6" fill="#00c9ff" stroke="#00c9ff"/>
<polygon points="1690.5,438.8 1706.8,436.4 1688.1,426.1 1671.7,428.4" fill="#008dff" stroke="#008dff"/>
<polygon points="1368.6,342.3 1387.5,340.5 1370.4,324.8 1351.5,326.4" fill="#00ff19" stroke="#00ff19"/>
<polygon points="1655.1,430.8 1671.7,428.4 1653.1,417.5 1636.5,419.9" fill="#00aaff" stroke="#00aaff"/>
<polygon points="1458.5,382.8 1476.8,380.8 1459.2,366.7 1440.8,368.7" fill="#00ff8f" stroke="#00ff8f"/>
<polygon points="1566.6,415.2 1584,412.9 1565.8,400.6 1548.4,402.9" fill="#00fdff" stroke="#00fdff"/>
<polygon points="1349.3,344.1 1368.6,342.3 1351.5,326.4 1332.2,328.1" fill="#00ff07" stroke="#00ff07"/>
<polygon points="1385.9,357.8 1404.8,355.9 1387.5,340.5 1368.6,342.3" fill="#00ff36" stroke="#00ff36"/>
<polygon points="1422.2,370.7 1440.8,368.7 1423.4,354 1404.8,355.9" fill="#00ff64" stroke="#00ff64"/>
<polygon points="1494.6,394.3 1512.6,392.2 1494.8,378.7 1476.8,380.8" fill="#00ffb7" stroke="#00ffb7"/>
<polygon points="1530.6,405.1 1548.4,402.9 1530.4,390 1512.6,392.2" fill="#00ffde" stroke="#00ffde"/>
<polygon points="1602.4,424.6 1619.6,422.2 1601.2,410.6 1584,412.9" fill="#00dbff" stroke="#00dbff"/>
<polygon points="1638.2,433.3 1655.1,430.8 1636.5,419.9 1619.6,422.2" fill="#00bcff" stroke="#00bcff"/>
<polygon points="1673.9,441.3 1690.5,438.8 1671.7,428.4 1655.1,430.8" fill="#009fff" stroke="#009fff"/>
<polygon points="1366.6,359.7 1385.9,357.8 1368.6,342.3 1349.3,344.1" fill="#00ff24" stroke="#00ff24"/>
<polygon points="1439.9,385 1458.5,382.8 1440.8,368.7 1422.2,370.7" fill="#00ff7d" stroke="#00ff7d"/>
<polygon points="1476.3,396.5 1494.6,394.3 1476.8,380.8 1458.5,382.8" fill="#00ffa5" stroke="#00ffa5"/>
<polygon points="1548.9,417.5 1566.6,415.2 1548.4,402.9 1530.6,405.1" fill="#00ffef" stroke="#00ffef"/>
<polygon points="1585,427 1602.4,424.6 1584,412.9 1566.6,415.2" fill="#00edff" stroke="#00edff"/>
<polygon points="1657,443.9 1673.9,441.3 1655.1,430.8 1638.2,433.3" fill="#00b1ff" stroke="#00b1ff"/>
<polygon points="1403.3,372.7 1422.2,370.7 1404.8,355.9 1385.9,357.8" fill="#00ff52" stroke="#00ff52"/>
<polygon points="1512.6,407.4 1530.6,405.1 1512.6,392.2 1494.6,394.3" fill="#00ffcb" stroke="#00ffcb"/>
<polygon points="1621.1,435.8 1638.2,433.3 1619.6,422.2 1602.4,424.6" fill="#00ceff" stroke="#00ceff"/>
<polygon points="1384.1,374.7 1403.3,372.7 1385.9,357.8 1366.6,359.7" fill="#00ff3f" stroke="#00ff3f"/>
<polygon points="1421,387.1 1439.9,385 1422.2,370.7 1403.3,372.7" fill="#00ff6a" stroke="#00ff6a"/>
<polygon points="1457.7,398.8 1476.3,396.5 1458.5,382.8 1439.9,385" fill="#00ff93" stroke="#00ff93"/>
<polygon points="1494.4,409.7 1512.6,407.4 1494.6,394.3 1476.3,396.5" fill="#00ffb9" stroke="#00ffb9"/>
<polygon points="1530.9,419.9 1548.9,417.5 1530.6,405.1 1512.6,407.4" fill="#00ffdd" stroke="#00ffdd"/>
<polygon points="1567.3,429.5 1585,427 1566.6,415.2 1548.9,417.5" fill="#00ffff" stroke="#00ffff"/>
<polygon points="1603.7,438.3 1621.1,435.8 1602.4,424.6 1585,427" fill="#00e0ff" stroke="#00e0ff"/>
<polygon points="1639.9,446.4 1657,443.9 1638.2,433.3 1621.1,435.8" fill="#00c3ff" stroke="#00c3ff"/>
<polygon points="1401.8,389.3 1421,387.1 1403.3,372.7 1384.1,374.7" fill="#00ff58" stroke="#00ff58"/>
<polygon points="1512.6,422.4 1530.9,419.9 1512.6,407.4 1494.4,409.7" fill="#00ffcb" stroke="#00ffcb"/>
<polygon points="1622.6,449.1 1639.9,446.4 1621.1,435.8 1603.7,438.3" fill="#00d5ff" stroke="#00d5ff"/>
<polygon points="1438.9,401 1457.7,398.8 1439.9,385 1421,387.1" fill="#00ff81" stroke="#00ff81"/>
<polygon points="1475.8,412 1494.4,409.7 1476.3,396.5 1457.7,398.8" fill="#00ffa7" stroke="#00ffa7"/>
<polygon points="1549.4,432 1567.3,429.5 1548.9,417.5 1530.9,419.9" fill="#00ffed" stroke="#00ffed"/>
<polygon points="1586,440.9 1603.7,438.3 1585,427 1567.3,429.5" fill="#00f2ff" stroke="#00f2ff"/>
<polygon points="1419.7,403.3 1438.9,401 1421,387.1 1401.8,389.3" fill="#00ff6f" stroke="#00ff6f"/>
<polygon points="1494.1,424.8 1512.6,422.4 1494.4,409.7 1475.8,412" fill="#00ffb9" stroke="#00ffb9"/>
<polygon points="1531.1,434.5 1549.4,432 1530.9,419.9 1512.6,422.4" fill="#00ffdb" stroke="#00ffdb"/>
<polygon points="1605,451.7 1622.6,449.1 1603.7,438.3 1586,440.9" fill="#00e8ff" stroke="#00e8ff"/>
<polygon points="1457,414.4 1475.8,412 1457.7,398.8 1438.9,401" fill="#00ff95" stroke="#00ff95"/>
<polygon points="1568.1,443.5 1586,440.9 1567.3,429.5 1549.4,432" fill="#00fffa" stroke="#00fffa"/>
<polygon points="1437.8,416.9 1457,414.4 1438.9,401 1419.7,403.3" fill="#00ff83" stroke="#00ff83"/>
<polygon points="1475.3,427.3 1494.1,424.8 1475.8,412 1457,414.4" fill="#00ffa7" stroke="#00ffa7"/>
<polygon points="1512.6,437.1 1531.1,434.5 1512.6,422.4 1494.1,424.8" fill="#00ffc8" stroke="#00ffc8"/>
<polygon points="1549.9,446.1 1568.1,443.5 1549.4,432 1531.1,434.5" fill="#00ffe8" stroke="#00ffe8"/>
<polygon points="1587.1,454.4 1605,451.7 1586,440.9 1568.1,443.5" fill="#00faff" stroke="#00faff"/>
<polygon points="1456.2,429.9 1475.3,427.3 1457,414.4 1437.8,416.9" fill="#00ff95" stroke="#00ff95"/>
<polygon points="1568.9,457.2 1587.1,454.4 1568.1,443.5 1549.9,446.1" fill="#00fff2" stroke="#00fff2"/>
<polygon points="1493.8,439.7 1512.6,437.1 1494.1,424.8 1475.3,427.3" fill="#00ffb6" stroke="#00ffb6"/>
<polygon points="1531.4,448.8 1549.9,446.1 1531.1,434.5 1512.6,437.1" fill="#00ffd5" stroke="#00ffd5"/>
<polygon points="1474.7,442.3 1493.8,439.7 1475.3,427.3 1456.2,429.9" fill="#00ffa4" stroke="#00ffa4"/>
<polygon points="1550.4,459.9 1568.9,457.2 1549.9,446.1 1531.4,448.8" fill="#00ffe0" stroke="#00ffe0"/>
<polygon points="1512.6,451.5 1531.4,448.8 1512.6,437.1 1493.8,439.7" fill="#00ffc3" stroke="#00ffc3"/>
<polygon points="1493.6,454.3 1512.6,451.5 1493.8,439.7 1474.7,442.3" fill="#00ffb1" stroke="#00ffb1"/>
<polygon points="1531.7,462.8 1550.4,459.9 1531.4,448.8 1512.6,451.5" fill="#00ffce" stroke="#00ffce"/>
<polygon points="1512.6,465.6 1531.7,462.8 1512.6,451.5 1493.6,454.3" fill="#00ffbc" stroke="#00ffbc"/>
</g>
<path d="M1512.6,465.6 L1493.6,454.3 L1474.7,442.3 L1456.2,429.9 L1437.8,416.9 L1419.7,403.3 L1401.8,389.3 L1384.1,374.7 L1366.6,359.7 L1349.3,344.1 L1332.2,328.1 L1315.3,311.5 L1298.5,294.5 L1281.9,277 L1265.5,259 L1249.2,240.5 L1233,221.6 L1217,202.2 L1201.1,182.3 L1185.3,161.9 L1169.7,141.1 M1512.6,465.6 L1531.7,462.8 L1550.4,459.9 L1568.9,457.2 L1587.1,454.4 L1605,451.7 L1622.6,449.1 L1639.9,446.4 L1657,443.9 L1673.9,441.3 L1690.5,438.8 L1706.8,436.4 L1723,433.9 L1738.8,431.5 L1754.5,429.2 L1769.9,426.8 L1785.1,424.5 L1800.2,422.3 L1814.9,420.1 L1829.5,417.9 L1843.9,415.7 M1531.7,462.8 L1512.6,451.5 L1493.8,439.7 L1475.3,427.3 L1457,414.4 L1438.9,401 L1421,387.1 L1403.3,372.7 L1385.9,357.8 L1368.6,342.3 L1351.5,326.4 L1334.6,310 L1317.8,293.1 L1301.2,275.7 L1284.8,257.9 L1268.5,239.5 L1252.4,220.7 L1236.4,201.4 L1220.5,181.7 L1204.8,161.5 L1189.1,140.8 M1493.6,454.3 L1512.6,451.5 L1531.4,448.8 L1549.9,446.1 L1568.1,443.5 L1586,440.9 L1603.7,438.3 L1621.1,435.8 L1638.2,433.3 L1655.1,430.8 L1671.7,428.4 L1688.1,426.1 L1704.2,423.7 L1720.2,421.4 L1735.8,419.1 L1751.3,416.9 L1766.6,414.7 L1781.6,412.5 L1796.4,410.4 L1811.1,408.2 L1825.5,406.2 M1550.4,459.9 L1531.4,448.8 L1512.6,437.1 L1494.1,424.8 L1475.8,412 L1457.7,398.8 L1439.9,385 L1422.2,370.7 L1404.8,355.9 L1387.5,340.5 L1370.4,324.8 L1353.5,308.5 L1336.8,291.7 L1320.3,274.5 L1303.8,256.7 L1287.6,238.5 L1271.5,219.9 L1255.5,200.7 L1239.6,181.1 L1223.9,161.1 L1208.3,140.5 M1474.7,442.3 L1493.8,439.7 L1512.6,437.1 L1531.1,434.5 L1549.4,432 L1567.3,429.5 L1585,427 L1602.4,424.6 L1619.6,422.2 L1636.5,419.9 L1653.1,417.5 L1669.6,415.3 L1685.8,413 L1701.7,410.8 L1717.4,408.6 L1732.9,406.5 L1748.2,404.3 L1763.3,402.2 L1778.2,400.2 L1792.9,398.1 L1807.3,396.1 M1568.9,457.2 L1549.9,446.1 L1531.1,434.5 L1512.6,422.4 L1494.4,409.7 L1476.3,396.5 L1458.5,382.8 L1440.8,368.7 L1423.4,354 L1406.2,338.8 L1389.1,323.1 L1372.2,307 L1355.5,290.3 L1339,273.2 L1322.6,255.6 L1306.4,237.6 L1290.3,219 L1274.3,200 L1258.5,180.6 L1242.8,160.6 L1227.2,140.3 M1456.2,429.9 L1475.3,427.3 L1494.1,424.8 L1512.6,422.4 L1530.9,419.9 L1548.9,417.5 L1566.6,415.2 L1584,412.9 L1601.2,410.6 L1618.1,408.3 L1634.8,406.1 L1651.3,403.9 L1667.5,401.8 L1683.5,399.7 L1699.3,397.6 L1714.8,395.5 L1730.1,393.5 L1745.2,391.5 L1760.2,389.5 L1774.9,387.5 L1789.4,385.6 M1587.1,454.4 L1568.1,443.5 L1549.4,432 L1530.9,419.9 L1512.6,407.4 L1494.6,394.3 L1476.8,380.8 L1459.2,366.7 L1441.8,352.1 L1424.6,337.1 L1407.5,321.5 L1390.7,305.5 L1374,289 L1357.5,272 L1341.1,254.5 L1324.9,236.6 L1308.8,218.2 L1292.9,199.3 L1277.1,180 L1261.4,160.2 L1245.9,140 M1437.8,416.9 L1457,414.4 L1475.8,412 L1494.4,409.7 L1512.6,407.4 L1530.6,405.1 L1548.4,402.9 L1565.8,400.6 L1583.1,398.5 L1600,396.3 L1616.8,394.2 L1633.2,392.1 L1649.5,390.1 L1665.5,388 L1681.3,386 L1696.9,384.1 L1712.3,382.1 L1727.4,380.2 L1742.4,378.3 L1757.1,376.4 L1771.7,374.6 M1605,451.7 L1586,440.9 L1567.3,429.5 L1548.9,417.5 L1530.6,405.1 L1512.6,392.2 L1494.8,378.7 L1477.3,364.7 L1459.9,350.3 L1442.7,335.4 L1425.7,319.9 L1408.9,304 L1392.2,287.6 L1375.7,270.8 L1359.4,253.5 L1343.2,235.7 L1327.1,217.4 L1311.2,198.7 L1295.4,179.5 L1279.8,159.8 L1264.3,139.7 M1419.7,403.3 L1438.9,401 L1457.7,398.8 L1476.3,396.5 L1494.6,394.3 L1512.6,392.2 L1530.4,390 L1547.9,387.9 L1565.1,385.8 L1582.1,383.8 L1598.9,381.8 L1615.4,379.8 L1631.7,377.8 L1647.7,375.9 L1663.6,374 L1679.2,372.1 L1694.6,370.3 L1709.8,368.4 L1724.8,366.6 L1739.6,364.9 L1754.1,363.1 M1622.6,449.1 L1603.7,438.3 L1585,427 L1566.6,415.2 L1548.4,402.9 L1530.4,390 L1512.6,376.7 L1495.1,362.8 L1477.7,348.5 L1460.6,333.7 L1443.6,318.4 L1426.8,302.6 L1410.1,286.3 L1393.7,269.6 L1377.3,252.4 L1361.2,234.7 L1345.2,216.6 L1329.3,198 L1313.5,178.9 L1297.9,159.4 L1282.4,139.5 M1401.8,389.3 L1421,387.1 L1439.9,385 L1458.5,382.8 L1476.8,380.8 L1494.8,378.7 L1512.6,376.7 L1530.2,374.7 L1547.4,372.7 L1564.5,370.8 L1581.2,368.9 L1597.8,367 L1614.1,365.1 L1630.2,363.3 L1646.1,361.5 L1661.7,359.7 L1677.1,357.9 L1692.4,356.2 L1707.4,354.5 L1722.2,352.8 L1736.8,351.1 M1639.9,446.4 L1621.1,435.8 L1602.4,424.6 L1584,412.9 L1565.8,400.6 L1547.9,387.9 L1530.2,374.7 L1512.6,361 L1495.3,346.7 L1478.2,332 L1461.2,316.8 L1444.4,301.2 L1427.8,285 L1411.4,268.4 L1395.1,251.3 L1378.9,233.8 L1362.9,215.8 L1347.1,197.3 L1331.4,178.4 L1315.8,159 L1300.3,139.2 M1384.1,374.7 L1403.3,372.7 L1422.2,370.7 L1440.8,368.7 L1459.2,366.7 L1477.3,364.7 L1495.1,362.8 L1512.6,361 L1529.9,359.1 L1547,357.3 L1563.8,355.5 L1580.4,353.7 L1596.7,351.9 L1612.8,350.2 L1628.7,348.5 L1644.4,346.8 L1659.9,345.1 L1675.2,343.5 L1690.2,341.9 L1705.1,340.3 L1719.7,338.7 M1657,443.9 L1638.2,433.3 L1619.6,422.2 L1601.2,410.6 L1583.1,398.5 L1565.1,385.8 L1547.4,372.7 L1529.9,359.1 L1512.6,345 L1495.5,330.4 L1478.6,315.3 L1461.8,299.8 L1445.3,283.8 L1428.8,267.3 L1412.6,250.3 L1396.5,232.9 L1380.5,215 L1364.7,196.7 L1349,177.9 L1333.4,158.7 L1317.9,139 M1366.6,359.7 L1385.9,357.8 L1404.8,355.9 L1423.4,354 L1441.8,352.1 L1459.9,350.3 L1477.7,348.5 L1495.3,346.7 L1512.6,345 L1529.7,343.3 L1546.6,341.6 L1563.2,339.9 L1579.5,338.2 L1595.7,336.6 L1611.6,335 L1627.3,333.4 L1642.8,331.9 L1658.1,330.3 L1673.2,328.8 L1688.1,327.3 L1702.8,325.8 M1673.9,441.3 L1655.1,430.8 L1636.5,419.9 L1618.1,408.3 L1600,396.3 L1582.1,383.8 L1564.5,370.8 L1547,357.3 L1529.7,343.3 L1512.6,328.8 L1495.7,313.8 L1479,298.4 L1462.4,282.5 L1446.1,266.1 L1429.8,249.3 L1413.7,232 L1397.8,214.3 L1382,196.1 L1366.3,177.4 L1350.8,158.3 L1335.4,138.7 M1349.3,344.1 L1368.6,342.3 L1387.5,340.5 L1406.2,338.8 L1424.6,337.1 L1442.7,335.4 L1460.6,333.7 L1478.2,332 L1495.5,330.4 L1512.6,328.8 L1529.5,327.2 L1546.1,325.6 L1562.5,324.1 L1578.7,322.6 L1594.7,321.1 L1610.4,319.6 L1626,318.1 L1641.3,316.7 L1656.4,315.3 L1671.4,313.9 L1686.1,312.5 M1690.5,438.8 L1671.7,428.4 L1653.1,417.5 L1634.8,406.1 L1616.8,394.2 L1598.9,381.8 L1581.2,368.9 L1563.8,355.5 L1546.6,341.6 L1529.5,327.2 L1512.6,312.4 L1495.9,297 L1479.4,281.3 L1463,265 L1446.8,248.3 L1430.8,231.1 L1414.9,213.5 L1399.1,195.4 L1383.4,176.9 L1367.9,157.9 L1352.5,138.5 M1332.2,328.1 L1351.5,326.4 L1370.4,324.8 L1389.1,323.1 L1407.5,321.5 L1425.7,319.9 L1443.6,318.4 L1461.2,316.8 L1478.6,315.3 L1495.7,313.8 L1512.6,312.4 L1529.3,310.9 L1545.7,309.5 L1561.9,308.1 L1577.9,306.7 L1593.7,305.3 L1609.3,303.9 L1624.7,302.6 L1639.8,301.3 L1654.8,300 L1669.5,298.7 M1706.8,436.4 L1688.1,426.1 L1669.6,415.3 L1651.3,403.9 L1633.2,392.1 L1615.4,379.8 L1597.8,367 L1580.4,353.7 L1563.2,339.9 L1546.1,325.6 L1529.3,310.9 L1512.6,295.7 L1496.1,280 L1479.8,263.9 L1463.6,247.3 L1447.6,230.3 L1431.7,212.8 L1416,194.8 L1400.3,176.4 L1384.9,157.5 L1369.5,138.2 M1315.3,311.5 L1334.6,310 L1353.5,308.5 L1372.2,307 L1390.7,305.5 L1408.9,304 L1426.8,302.6 L1444.4,301.2 L1461.8,299.8 L1479,298.4 L1495.9,297 L1512.6,295.7 L1529.1,294.4 L1545.3,293.1 L1561.4,291.8 L1577.2,290.5 L1592.8,289.3 L1608.2,288 L1623.4,286.8 L1638.4,285.6 L1653.2,284.4 M1723,433.9 L1704.2,423.7 L1685.8,413 L1667.5,401.8 L1649.5,390.1 L1631.7,377.8 L1614.1,365.1 L1596.7,351.9 L1579.5,338.2 L1562.5,324.1 L1545.7,309.5 L1529.1,294.4 L1512.6,278.8 L1496.3,262.8 L1480.2,246.3 L1464.2,229.4 L1448.3,212 L1432.6,194.2 L1417,175.9 L1401.6,157.2 L1386.2,138 M1298.5,294.5 L1317.8,293.1 L1336.8,291.7 L1355.5,290.3 L1374,289 L1392.2,287.6 L1410.1,286.3 L1427.8,285 L1445.3,283.8 L1462.4,282.5 L1479.4,281.3 L1496.1,280 L1512.6,278.8 L1528.9,277.6 L1545,276.4 L1560.8,275.3 L1576.4,274.1 L1591.9,273 L1607.1,271.9 L1622.1,270.8 L1637,269.7 M1738.8,431.5 L1720.2,421.4 L1701.7,410.8 L1683.5,399.7 L1665.5,388 L1647.7,375.9 L1630.2,363.3 L1612.8,350.2 L1595.7,336.6 L1578.7,322.6 L1561.9,308.1 L1545.3,293.1 L1528.9,277.6 L1512.6,261.7 L1496.5,245.4 L1480.5,228.5 L1464.7,211.3 L1449,193.6 L1433.5,175.4 L1418.1,156.8 L1402.8,137.8 M1281.9,277 L1301.2,275.7 L1320.3,274.5 L1339,273.2 L1357.5,272 L1375.7,270.8 L1393.7,269.6 L1411.4,268.4 L1428.8,267.3 L1446.1,266.1 L1463,265 L1479.8,263.9 L1496.3,262.8 L1512.6,261.7 L1528.7,260.7 L1544.6,259.6 L1560.3,258.6 L1575.7,257.5 L1591,256.5 L1606,255.5 L1620.9,254.6 M1754.5,429.2 L1735.8,419.1 L1717.4,408.6 L1699.3,397.6 L1681.3,386 L1663.6,374 L1646.1,361.5 L1628.7,348.5 L1611.6,335 L1594.7,321.1 L1577.9,306.7 L1561.4,291.8 L1545,276.4 L1528.7,260.7 L1512.6,244.4 L1496.7,227.7 L1480.9,210.6 L1465.2,193 L1449.7,174.9 L1434.3,156.5 L1419.1,137.5 M1265.5,259 L1284.8,257.9 L1303.8,256.7 L1322.6,255.6 L1341.1,254.5 L1359.4,253.5 L1377.3,252.4 L1395.1,251.3 L1412.6,250.3 L1429.8,249.3 L1446.8,248.3 L1463.6,247.3 L1480.2,246.3 L1496.5,245.4 L1512.6,244.4 L1528.5,243.5 L1544.2,242.5 L1559.7,241.6 L1575,240.7 L1590.1,239.8 L1605,239 M1769.9,426.8 L1751.3,416.9 L1732.9,406.5 L1714.8,395.5 L1696.9,384.1 L1679.2,372.1 L1661.7,359.7 L1644.4,346.8 L1627.3,333.4 L1610.4,319.6 L1593.7,305.3 L1577.2,290.5 L1560.8,275.3 L1544.6,259.6 L1528.5,243.5 L1512.6,226.9 L1496.9,209.9 L1481.2,192.4 L1465.8,174.5 L1450.4,156.1 L1435.2,137.3 M1249.2,240.5 L1268.5,239.5 L1287.6,238.5 L1306.4,237.6 L1324.9,236.6 L1343.2,235.7 L1361.2,234.7 L1378.9,233.8 L1396.5,232.9 L1413.7,232 L1430.8,231.1 L1447.6,230.3 L1464.2,229.4 L1480.5,228.5 L1496.7,227.7 L1512.6,226.9 L1528.4,226.1 L1543.9,225.3 L1559.2,224.5 L1574.3,223.7 L1589.3,222.9 M1785.1,424.5 L1766.6,414.7 L1748.2,404.3 L1730.1,393.5 L1712.3,382.1 L1694.6,370.3 L1677.1,357.9 L1659.9,345.1 L1642.8,331.9 L1626,318.1 L1609.3,303.9 L1592.8,289.3 L1576.4,274.1 L1560.3,258.6 L1544.2,242.5 L1528.4,226.1 L1512.6,209.2 L1497,191.8 L1481.6,174 L1466.3,155.8 L1451,137.1 M1233,221.6 L1252.4,220.7 L1271.5,219.9 L1290.3,219 L1308.8,218.2 L1327.1,217.4 L1345.2,216.6 L1362.9,215.8 L1380.5,215 L1397.8,214.3 L1414.9,213.5 L1431.7,212.8 L1448.3,212 L1464.7,211.3 L1480.9,210.6 L1496.9,209.9 L1512.6,209.2 L1528.2,208.5 L1543.5,207.8 L1558.7,207.1 L1573.7,206.4 M1800.2,422.3 L1781.6,412.5 L1763.3,402.2 L1745.2,391.5 L1727.4,380.2 L1709.8,368.4 L1692.4,356.2 L1675.2,343.5 L1658.1,330.3 L1641.3,316.7 L1624.7,302.6 L1608.2,288 L1591.9,273 L1575.7,257.5 L1559.7,241.6 L1543.9,225.3 L1528.2,208.5 L1512.6,191.2 L1497.2,173.5 L1481.9,155.4 L1466.7,136.9 M1217,202.2 L1236.4,201.4 L1255.5,200.7 L1274.3,200 L1292.9,199.3 L1311.2,198.7 L1329.3,198 L1347.1,197.3 L1364.7,196.7 L1382,196.1 L1399.1,195.4 L1416,194.8 L1432.6,194.2 L1449,193.6 L1465.2,193 L1481.2,192.4 L1497,191.8 L1512.6,191.2 L1528,190.7 L1543.2,190.1 L1558.2,189.5 M1814.9,420.1 L1796.4,410.4 L1778.2,400.2 L1760.2,389.5 L1742.4,378.3 L1724.8,366.6 L1707.4,354.5 L1690.2,341.9 L1673.2,328.8 L1656.4,315.3 L1639.8,301.3 L1623.4,286.8 L1607.1,271.9 L1591,256.5 L1575,240.7 L1559.2,224.5 L1543.5,207.8 L1528,190.7 L1512.6,173.1 L1497.4,155.1 L1482.2,136.6 M1201.1,182.3 L1220.5,181.7 L1239.6,181.1 L1258.5,180.6 L1277.1,180 L1295.4,179.5 L1313.5,178.9 L1331.4,178.4 L1349,177.9 L1366.3,177.4 L1383.4,176.9 L1400.3,176.4 L1417,175.9 L1433.5,175.4 L1449.7,174.9 L1465.8,174.5 L1481.6,174 L1497.2,173.5 L1512.6,173.1 L1527.9,172.6 L1542.9,172.2 M1829.5,417.9 L1811.1,408.2 L1792.9,398.1 L1774.9,387.5 L1757.1,376.4 L1739.6,364.9 L1722.2,352.8 L1705.1,340.3 L1688.1,327.3 L1671.4,313.9 L1654.8,300 L1638.4,285.6 L1622.1,270.8 L1606,255.5 L1590.1,239.8 L1574.3,223.7 L1558.7,207.1 L1543.2,190.1 L1527.9,172.6 L1512.6,154.7 L1497.5,136.4 M1185.3,161.9 L1204.8,161.5 L1223.9,161.1 L1242.8,160.6 L1261.4,160.2 L1279.8,159.8 L1297.9,159.4 L1315.8,159 L1333.4,158.7 L1350.8,158.3 L1367.9,157.9 L1384.9,157.5 L1401.6,157.2 L1418.1,156.8 L1434.3,156.5 L1450.4,156.1 L1466.3,155.8 L1481.9,155.4 L1497.4,155.1 L1512.6,154.7 L1527.7,154.4 M1843.9,415.7 L1825.5,406.2 L1807.3,396.1 L1789.4,385.6 L1771.7,374.6 L1754.1,363.1 L1736.8,351.1 L1719.7,338.7 L1702.8,325.8 L1686.1,312.5 L1669.5,298.7 L1653.2,284.4 L1637,269.7 L1620.9,254.6 L1605,239 L1589.3,222.9 L1573.7,206.4 L1558.2,189.5 L1542.9,172.2 L1527.7,154.4 L1512.6,136.2 M1169.7,141.1 L1189.1,140.8 L1208.3,140.5 L1227.2,140.3 L1245.9,140 L1264.3,139.7 L1282.4,139.5 L1300.3,139.2 L1317.9,139 L1335.4,138.7 L1352.5,138.5 L1369.5,138.2 L1386.2,138 L1402.8,137.8 L1419.1,137.5 L1435.2,137.3 L1451,137.1 L1466.7,136.9 L1482.2,136.6 L1497.5,136.4 L1512.6,136.2" fill="none" stroke="#000" stroke-width="1.8" stroke-linejoin="round" stroke-linecap="round"/>
<line x1="1169.3" y1="131.6" x2="1169.7" y2="141.1" stroke="#000" stroke-width="1"/><ellipse cx="1169.3" cy="131.6" rx="6.4" ry="7.3" fill="#b20000" stroke="#000" stroke-width="1.3"/>
<ellipse cx="1352.4" cy="132.7" rx="6.4" ry="7.3" fill="#b20000" stroke="#000" stroke-width="1.3"/>
<line x1="1512.6" y1="295" x2="1512.6" y2="312.4" stroke="#000" stroke-width="1"/><ellipse cx="1512.6" cy="295" rx="6.4" ry="7.3" fill="#b20000" stroke="#000" stroke-width="1.3"/>
<line x1="1844.4" y1="405.4" x2="1843.9" y2="415.7" stroke="#000" stroke-width="1"/><ellipse cx="1844.4" cy="405.4" rx="6.4" ry="7.3" fill="#b20000" stroke="#000" stroke-width="1.3"/>
<text transform="translate(1171.9 477.4) scale(0.9159 1.0305)" font-size="23.4" text-anchor="end">10</text>
<text transform="translate(1167.8 380.6) scale(0.9159 1.0305)" font-size="23.4" text-anchor="end">20</text>
<text transform="translate(1163.7 283.7) scale(0.9159 1.0305)" font-size="23.4" text-anchor="end">30</text>
<text transform="translate(1159.6 186.8) scale(0.9159 1.0305)" font-size="23.4" text-anchor="end">40</text>
<text transform="translate(1155.5 89.9) scale(0.9159 1.0305)" font-size="23.4" text-anchor="end">50</text>
<text transform="translate(1500.2 804.6) scale(0.9159 1.0305)" font-size="23.4" text-anchor="end">100</text>
<text transform="translate(1525.9 804.6) scale(0.9159 1.0305)" font-size="23.4" text-anchor="start">2</text>
<text transform="translate(1419.4 760.1) scale(0.9159 1.0305)" font-size="23.4" text-anchor="end">150</text>
<text transform="translate(1606.8 760.1) scale(0.9159 1.0305)" font-size="23.4" text-anchor="start">3</text>
<text transform="translate(1338.6 715.6) scale(0.9159 1.0305)" font-size="23.4" text-anchor="end">200</text>
<text transform="translate(1687.6 715.6) scale(0.9159 1.0305)" font-size="23.4" text-anchor="start">4</text>
<text transform="translate(1257.7 671) scale(0.9159 1.0305)" font-size="23.4" text-anchor="end">250</text>
<text transform="translate(1768.4 671) scale(0.9159 1.0305)" font-size="23.4" text-anchor="start">5</text>
<text transform="translate(1176.9 626.5) scale(0.9159 1.0305)" font-size="23.4" text-anchor="end">300</text>
<text transform="translate(1849.3 626.5) scale(0.9159 1.0305)" font-size="23.4" text-anchor="start">6</text>
<text class="at" transform="translate(1074.7 514.6) rotate(-90) scale(0.9841 0.8979)" font-size="34" text-anchor="start">Thermal efficiency (%)</text>
<text class="at" transform="translate(1078.6 772.9) scale(0.8674 1.0305)" font-size="33" text-anchor="start">B: Microwave power (W)</text>
<text class="at" transform="translate(1688.5 772.9) scale(0.8674 1.0305)" font-size="33" text-anchor="start">A: Thickness (mm)</text>
<text transform="translate(1180.5 892.8)" font-size="54.4" text-anchor="start">b) Ultrasonication pretreatment</text>
<path d="M672.3,1478.4 L1072,1342.8 L1471.7,1478.4 M667.3,1375.7 L1072,1250.5 L1476.7,1375.7 M662.3,1273 L1072,1158.2 L1481.7,1273 M657.3,1170.3 L1072,1065.8 L1486.7,1170.3" fill="none" stroke="#000" stroke-width="1.5" stroke-linejoin="round"/>
<path d="M652.3,1067.6 L1072,973.5 L1491.6,1067.6" fill="none" stroke="#000" stroke-width="2" stroke-linejoin="miter"/>
<path d="M772.2,1444.5 L757.2,1044.1 M1171.9,1376.7 L1176.9,997 M872.1,1410.6 L862.1,1020.5 M1271.8,1410.6 L1281.8,1020.5 M972.1,1376.7 L967.1,997 M1371.7,1444.5 L1386.7,1044.1 M652.3,1067.6 L678.5,1606.8 M1072,973.5 L1072,1459.1 M1491.6,1067.6 L1465.4,1606.8" fill="none" stroke="#000" stroke-width="1.5"/>
<polygon points="678.5,1606.8 1072,1459.1 1465.4,1606.8 1072,1795.6" fill="#ffff00" stroke="#000" stroke-width="1.5" stroke-linejoin="round"/>
<polyline points="1287.1,1692.4 1284.8,1687.6 1282.5,1682.3 1280.6,1677.2 1279,1672.2 1277.7,1667.4 1276.6,1663 1275.8,1658.6 1275.1,1654.2 1274.5,1649.7 1274.1,1645.2 1273.9,1640.9 1273.8,1636.7 1273.9,1632.7 1274,1628.7 1274.2,1624.8 1274.6,1620.9 1275,1617.1 1275.6,1612.5 1276.4,1607.7 1277.3,1602.9 1278.2,1598.9 1279,1595.4 1279.9,1591.9 1280.9,1588.2 1282.4,1583.3 1284,1578.4 1285.1,1575.1 1286.3,1571.9 1287.6,1568.3 1289.6,1563.2 1291.3,1559.2 1292.6,1556.1 1293.9,1553 1296.3,1547.9 1298.2,1544" fill="none" stroke="#009dff" stroke-width="1.4"/>
<polyline points="1079.3,1792.1 1077.8,1787.5 1076.2,1781.7 1074.9,1775.8 1073.9,1770.1 1073.2,1764.6 1072.7,1759.2 1072.4,1754 1072.4,1748.9 1072.5,1743.9 1072.7,1739 1073.1,1734.2 1073.6,1729.5 1074.3,1724.9 1075,1720.3 1075.8,1715.8 1076.8,1711.5 1077.9,1706.6 1079.3,1701.2 1080.9,1695.7 1082.6,1690.4 1084,1686.4 1085.4,1682.4 1086.8,1678.5 1088.7,1673.6 1091.1,1668 1093.2,1663.2 1094.9,1659.5 1096.6,1655.8 1098.9,1651.1 1101.8,1645.4 1103.8,1641.4 1105.7,1637.9 1107.9,1633.9 1111.2,1628.1 1113.5,1624.2 1115.5,1620.9 1118.1,1616.5 1121.6,1611 1123.7,1607.8 1125.8,1604.6 1129.5,1599 1132.1,1595.1 1134.3,1592 1137.6,1587.3 1140.8,1582.8 1143,1579.8 1146.2,1575.5 1149.7,1570.9 1151.9,1568 1155.3,1563.7 1158.7,1559.3 1160.9,1556.5 1164.7,1551.8 1167.8,1548 1170.1,1545.2 1174.6,1539.9 1177,1537 1179.7,1534 1184,1529 1186.3,1526.3 1190.1,1522 1193.3,1518.4 1195.7,1515.8 1200.4,1510.7 1202.7,1508.2" fill="none" stroke="#00ffba" stroke-width="1.4"/>
<polyline points="904.3,1715.1 907,1711.3 911,1705.7 915.1,1700.1 917.8,1696.4 920.8,1692.5 925.8,1685.9 928.8,1682.1 931.6,1678.5 936.4,1672.6 940,1668.1 942.9,1664.7 947.4,1659.2 951.4,1654.6 954.2,1651.3 958.9,1645.9 962.8,1641.5 965.6,1638.3 970.9,1632.5 974.3,1628.8 977.1,1625.6 982.9,1619.4 985.8,1616.3 989.6,1612.4 994.4,1607.3 997.3,1604.3 1002.5,1598.9 1006,1595.4 1009.1,1592.2 1014.7,1586.7 1017.6,1583.8 1022.6,1578.9 1026.2,1575.3 1029.5,1572.2 1034.9,1567 1037.8,1564.2 1043.5,1558.8 1046.4,1556.1 1050.6,1552.1 1055,1548.1 1057.9,1545.4 1063.6,1540.2 1066.4,1537.6 1072.2,1532.4 1075,1529.9 1079.8,1525.5 1083.5,1522.3 1087.3,1518.9 1092,1514.8 1094.9,1512.3 1100.5,1507.4 1103.3,1505 1109,1500.2 1111.8,1497.8 1117.4,1493 1120.2,1490.7 1125.7,1486 1128.5,1483.7 1131.3,1481.3" fill="none" stroke="#00ff14" stroke-width="1.4"/>
<polyline points="808.6,1669.2 815.4,1663 819.3,1659.6 823.9,1655.5 829.9,1650.2 833.4,1647 840.4,1640.9 843.9,1637.8 849.6,1632.9 854.4,1628.8 858.4,1625.3 864.8,1619.9 868.2,1616.9 875.1,1611.1 878.6,1608.2 885,1602.9 888.9,1599.7 894,1595.4 899.1,1591.3 903.1,1588 909.3,1583 912.6,1580.3 919.4,1574.8 922.7,1572.1 929.4,1566.8 932.8,1564.2 939.4,1558.9 942.7,1556.3 949.3,1551.1 952.7,1548.6 958.7,1543.8 962.5,1540.9 968.2,1536.5 972.3,1533.4 977.7,1529.3 982,1526 987.2,1522 991.7,1518.7 996.8,1514.8 1001.3,1511.5 1006.4,1507.6 1010.8,1504.4 1016.1,1500.5 1020.3,1497.4 1025.8,1493.3 1029.7,1490.5 1035.5,1486.2 1039.1,1483.6 1045.3,1479.1 1048.3,1476.9 1054.5,1472.5 1057.6,1470.3 1063.7,1465.9 1066.7,1463.7 1072.8,1459.4" fill="none" stroke="#93ff00" stroke-width="1.4"/>
<polyline points="737.6,1635.1 742.2,1631.7 749.4,1626.4 753.4,1623.5 761.2,1617.9 765,1615 772.8,1609.4 776.6,1606.6 784.3,1601.1 788.1,1598.4 795.8,1592.9 799.6,1590.2 807.1,1584.9 810.9,1582.2 818.4,1576.9 822.1,1574.3 829.6,1569.1 833.3,1566.5 840.6,1561.4 844.4,1558.7 851.6,1553.7 855.9,1550.8 862.5,1546.2 867.4,1542.9 873.4,1538.8 878.9,1535 884.1,1531.5 890.5,1527.2" fill="none" stroke="#ffc400" stroke-width="1.4"/>
<ellipse cx="672.3" cy="1478.4" rx="3.3" ry="3.3" fill="#000"/>
<ellipse cx="667.3" cy="1375.7" rx="3.3" ry="3.3" fill="#000"/>
<ellipse cx="662.3" cy="1273" rx="3.3" ry="3.3" fill="#000"/>
<ellipse cx="657.3" cy="1170.3" rx="3.3" ry="3.3" fill="#000"/>
<ellipse cx="652.3" cy="1067.6" rx="3.3" ry="3.3" fill="#000"/>
<ellipse cx="1072" cy="1795.6" rx="3.3" ry="3.3" fill="#000"/>
<ellipse cx="973.6" cy="1748.4" rx="3.3" ry="3.3" fill="#000"/>
<ellipse cx="1170.3" cy="1748.4" rx="3.3" ry="3.3" fill="#000"/>
<ellipse cx="875.3" cy="1701.2" rx="3.3" ry="3.3" fill="#000"/>
<ellipse cx="1268.7" cy="1701.2" rx="3.3" ry="3.3" fill="#000"/>
<ellipse cx="776.9" cy="1654" rx="3.3" ry="3.3" fill="#000"/>
<ellipse cx="1367.1" cy="1654" rx="3.3" ry="3.3" fill="#000"/>
<ellipse cx="678.5" cy="1606.8" rx="3.3" ry="3.3" fill="#000"/>
<ellipse cx="1465.4" cy="1606.8" rx="3.3" ry="3.3" fill="#000"/>
<ellipse cx="876.4" cy="1079" rx="7.8" ry="7.8" fill="#d98080" stroke="#000" stroke-width="1.3"/>
<ellipse cx="1072" cy="1080.6" rx="7.8" ry="7.8" fill="#d98080" stroke="#000" stroke-width="1.3"/>
<ellipse cx="1263.4" cy="1260.5" rx="7.8" ry="7.8" fill="#d98080" stroke="#000" stroke-width="1.3"/>
<line x1="851.9" y1="1293.1" x2="851.6" y2="1283.1" stroke="#000" stroke-width="1"/><ellipse cx="851.9" cy="1293.1" rx="7.8" ry="7.8" fill="#d98080" stroke="#000" stroke-width="1.3"/>
<ellipse cx="1072" cy="1441.8" rx="7.8" ry="7.8" fill="#d98080" stroke="#000" stroke-width="1.3"/>
<g stroke-width="0.6" stroke-linejoin="round">
<polygon points="1072,1098.2 1090.4,1098.1 1072,1078.3 1053.5,1078.3" fill="#71ff00" stroke="#71ff00"/>
<polygon points="1053.3,1098.4 1072,1098.2 1053.5,1078.3 1034.8,1078.4" fill="#82ff00" stroke="#82ff00"/>
<polygon points="1090.6,1117.7 1108.9,1117.4 1090.4,1098.1 1072,1098.2" fill="#3eff00" stroke="#3eff00"/>
<polygon points="1034.5,1098.5 1053.3,1098.4 1034.8,1078.4 1015.9,1078.4" fill="#93ff00" stroke="#93ff00"/>
<polygon points="1072,1117.9 1090.6,1117.7 1072,1098.2 1053.3,1098.4" fill="#4eff00" stroke="#4eff00"/>
<polygon points="1109.3,1136.7 1127.7,1136.3 1108.9,1117.4 1090.6,1117.7" fill="#0dff00" stroke="#0dff00"/>
<polygon points="1015.3,1098.7 1034.5,1098.5 1015.9,1078.4 996.8,1078.4" fill="#a3ff00" stroke="#a3ff00"/>
<polygon points="1053.1,1118.2 1072,1117.9 1053.3,1098.4 1034.5,1098.5" fill="#5fff00" stroke="#5fff00"/>
<polygon points="1090.8,1137.1 1109.3,1136.7 1090.6,1117.7 1072,1117.9" fill="#1dff00" stroke="#1dff00"/>
<polygon points="1128.3,1155.2 1146.5,1154.7 1127.7,1136.3 1109.3,1136.7" fill="#00ff23" stroke="#00ff23"/>
<polygon points="1034.1,1118.5 1053.1,1118.2 1034.5,1098.5 1015.3,1098.7" fill="#70ff00" stroke="#70ff00"/>
<polygon points="1072,1137.4 1090.8,1137.1 1072,1117.9 1053.1,1118.2" fill="#2eff00" stroke="#2eff00"/>
<polygon points="1109.7,1155.7 1128.3,1155.2 1109.3,1136.7 1090.8,1137.1" fill="#00ff12" stroke="#00ff12"/>
<polygon points="996,1098.8 1015.3,1098.7 996.8,1078.4 977.3,1078.4" fill="#b4ff00" stroke="#b4ff00"/>
<polygon points="1147.3,1173.3 1165.6,1172.7 1146.5,1154.7 1128.3,1155.2" fill="#00ff50" stroke="#00ff50"/>
<polygon points="1052.9,1137.9 1072,1137.4 1053.1,1118.2 1034.1,1118.5" fill="#3fff00" stroke="#3fff00"/>
<polygon points="1091,1156.3 1109.7,1155.7 1090.8,1137.1 1072,1137.4" fill="#00ff01" stroke="#00ff01"/>
<polygon points="976.3,1099 996,1098.8 977.3,1078.4 957.7,1078.4" fill="#c5ff00" stroke="#c5ff00"/>
<polygon points="1014.7,1118.8 1034.1,1118.5 1015.3,1098.7 996,1098.8" fill="#81ff00" stroke="#81ff00"/>
<polygon points="1128.9,1174 1147.3,1173.3 1128.3,1155.2 1109.7,1155.7" fill="#00ff3f" stroke="#00ff3f"/>
<polygon points="1166.6,1191 1184.8,1190.3 1165.6,1172.7 1147.3,1173.3" fill="#00ff7a" stroke="#00ff7a"/>
<polygon points="956.4,1099.1 976.3,1099 957.7,1078.4 937.7,1078.4" fill="#d6ff00" stroke="#d6ff00"/>
<polygon points="995.1,1119 1014.7,1118.8 996,1098.8 976.3,1099" fill="#91ff00" stroke="#91ff00"/>
<polygon points="1033.6,1138.3 1052.9,1137.9 1034.1,1118.5 1014.7,1118.8" fill="#4fff00" stroke="#4fff00"/>
<polygon points="1072,1156.8 1091,1156.3 1072,1137.4 1052.9,1137.9" fill="#10ff00" stroke="#10ff00"/>
<polygon points="1110.2,1174.6 1128.9,1174 1109.7,1155.7 1091,1156.3" fill="#00ff2e" stroke="#00ff2e"/>
<polygon points="1148.2,1191.7 1166.6,1191 1147.3,1173.3 1128.9,1174" fill="#00ff6a" stroke="#00ff6a"/>
<polygon points="1186,1208.2 1204.2,1207.4 1184.8,1190.3 1166.6,1191" fill="#00ffa3" stroke="#00ffa3"/>
<polygon points="936.3,1099.3 956.4,1099.1 937.7,1078.4 917.6,1078.5" fill="#e6ff00" stroke="#e6ff00"/>
<polygon points="975.3,1119.3 995.1,1119 976.3,1099 956.4,1099.1" fill="#a2ff00" stroke="#a2ff00"/>
<polygon points="1014.1,1138.7 1033.6,1138.3 1014.7,1118.8 995.1,1119" fill="#60ff00" stroke="#60ff00"/>
<polygon points="1052.7,1157.3 1072,1156.8 1052.9,1137.9 1033.6,1138.3" fill="#20ff00" stroke="#20ff00"/>
<polygon points="1091.2,1175.3 1110.2,1174.6 1091,1156.3 1072,1156.8" fill="#00ff1d" stroke="#00ff1d"/>
<polygon points="1129.5,1192.5 1148.2,1191.7 1128.9,1174 1110.2,1174.6" fill="#00ff59" stroke="#00ff59"/>
<polygon points="1167.7,1209.1 1186,1208.2 1166.6,1191 1148.2,1191.7" fill="#00ff92" stroke="#00ff92"/>
<polygon points="1205.7,1225 1223.8,1224 1204.2,1207.4 1186,1208.2" fill="#00ffca" stroke="#00ffca"/>
<polygon points="915.9,1099.4 936.3,1099.3 917.6,1078.5 897.1,1078.5" fill="#f7ff00" stroke="#f7ff00"/>
<polygon points="955.2,1119.6 975.3,1119.3 956.4,1099.1 936.3,1099.3" fill="#b3ff00" stroke="#b3ff00"/>
<polygon points="994.3,1139.1 1014.1,1138.7 995.1,1119 975.3,1119.3" fill="#71ff00" stroke="#71ff00"/>
<polygon points="1033.2,1157.9 1052.7,1157.3 1033.6,1138.3 1014.1,1138.7" fill="#31ff00" stroke="#31ff00"/>
<polygon points="1072,1175.9 1091.2,1175.3 1072,1156.8 1052.7,1157.3" fill="#00ff0d" stroke="#00ff0d"/>
<polygon points="1110.6,1193.3 1129.5,1192.5 1110.2,1174.6 1091.2,1175.3" fill="#00ff48" stroke="#00ff48"/>
<polygon points="1149,1210 1167.7,1209.1 1148.2,1191.7 1129.5,1192.5" fill="#00ff82" stroke="#00ff82"/>
<polygon points="1187.3,1226 1205.7,1225 1186,1208.2 1167.7,1209.1" fill="#00ffb9" stroke="#00ffb9"/>
<polygon points="1225.5,1241.3 1243.6,1240.2 1223.8,1224 1205.7,1225" fill="#00ffee" stroke="#00ffee"/>
<polygon points="934.8,1119.9 955.2,1119.6 936.3,1099.3 915.9,1099.4" fill="#c4ff00" stroke="#c4ff00"/>
<polygon points="974.2,1139.5 994.3,1139.1 975.3,1119.3 955.2,1119.6" fill="#82ff00" stroke="#82ff00"/>
<polygon points="1013.5,1158.4 1033.2,1157.9 1014.1,1138.7 994.3,1139.1" fill="#42ff00" stroke="#42ff00"/>
<polygon points="1130.1,1210.8 1149,1210 1129.5,1192.5 1110.6,1193.3" fill="#00ff71" stroke="#00ff71"/>
<polygon points="1168.7,1227 1187.3,1226 1167.7,1209.1 1149,1210" fill="#00ffa8" stroke="#00ffa8"/>
<polygon points="1207.2,1242.4 1225.5,1241.3 1205.7,1225 1187.3,1226" fill="#00ffdd" stroke="#00ffdd"/>
<polygon points="895.2,1099.6 915.9,1099.4 897.1,1078.5 876.4,1078.5" fill="#fff600" stroke="#fff600"/>
<polygon points="1052.5,1176.6 1072,1175.9 1052.7,1157.3 1033.2,1157.9" fill="#04ff00" stroke="#04ff00"/>
<polygon points="1091.4,1194.1 1110.6,1193.3 1091.2,1175.3 1072,1175.9" fill="#00ff37" stroke="#00ff37"/>
<polygon points="1245.5,1257.1 1263.5,1256 1243.6,1240.2 1225.5,1241.3" fill="#00eeff" stroke="#00eeff"/>
<polygon points="953.9,1139.9 974.2,1139.5 955.2,1119.6 934.8,1119.9" fill="#92ff00" stroke="#92ff00"/>
<polygon points="993.4,1159 1013.5,1158.4 994.3,1139.1 974.2,1139.5" fill="#53ff00" stroke="#53ff00"/>
<polygon points="1149.9,1228 1168.7,1227 1149,1210 1130.1,1210.8" fill="#00ff97" stroke="#00ff97"/>
<polygon points="1188.6,1243.5 1207.2,1242.4 1187.3,1226 1168.7,1227" fill="#00ffcd" stroke="#00ffcd"/>
<polygon points="874.2,1099.8 895.2,1099.6 876.4,1078.5 855.4,1078.5" fill="#ffe600" stroke="#ffe600"/>
<polygon points="914.2,1120.2 934.8,1119.9 915.9,1099.4 895.2,1099.6" fill="#d4ff00" stroke="#d4ff00"/>
<polygon points="1032.8,1177.3 1052.5,1176.6 1033.2,1157.9 1013.5,1158.4" fill="#15ff00" stroke="#15ff00"/>
<polygon points="1072,1194.8 1091.4,1194.1 1072,1175.9 1052.5,1176.6" fill="#00ff27" stroke="#00ff27"/>
<polygon points="1111,1211.7 1130.1,1210.8 1110.6,1193.3 1091.4,1194.1" fill="#00ff60" stroke="#00ff60"/>
<polygon points="1227.3,1258.3 1245.5,1257.1 1225.5,1241.3 1207.2,1242.4" fill="#00feff" stroke="#00feff"/>
<polygon points="1265.8,1272.5 1283.7,1271.2 1263.5,1256 1245.5,1257.1" fill="#00cdff" stroke="#00cdff"/>
<polygon points="973.1,1159.5 993.4,1159 974.2,1139.5 953.9,1139.9" fill="#63ff00" stroke="#63ff00"/>
<polygon points="1169.8,1244.6 1188.6,1243.5 1168.7,1227 1149.9,1228" fill="#00ffbc" stroke="#00ffbc"/>
<polygon points="933.3,1140.4 953.9,1139.9 934.8,1119.9 914.2,1120.2" fill="#a3ff00" stroke="#a3ff00"/>
<polygon points="1012.8,1177.9 1032.8,1177.3 1013.5,1158.4 993.4,1159" fill="#26ff00" stroke="#26ff00"/>
<polygon points="1052.3,1195.7 1072,1194.8 1052.5,1176.6 1032.8,1177.3" fill="#00ff16" stroke="#00ff16"/>
<polygon points="1091.6,1212.7 1111,1211.7 1091.4,1194.1 1072,1194.8" fill="#00ff4f" stroke="#00ff4f"/>
<polygon points="1130.8,1229 1149.9,1228 1130.1,1210.8 1111,1211.7" fill="#00ff87" stroke="#00ff87"/>
<polygon points="1208.8,1259.6 1227.3,1258.3 1207.2,1242.4 1188.6,1243.5" fill="#00ffef" stroke="#00ffef"/>
<polygon points="853,1099.9 874.2,1099.8 855.4,1078.5 834.1,1078.6" fill="#ffd500" stroke="#ffd500"/>
<polygon points="893.2,1120.5 914.2,1120.2 895.2,1099.6 874.2,1099.8" fill="#e5ff00" stroke="#e5ff00"/>
<polygon points="1247.5,1273.9 1265.8,1272.5 1245.5,1257.1 1227.3,1258.3" fill="#00deff" stroke="#00deff"/>
<polygon points="1286.2,1287.5 1304.1,1286.1 1283.7,1271.2 1265.8,1272.5" fill="#00afff" stroke="#00afff"/>
<polygon points="831.4,1100.1 853,1099.9 834.1,1078.6 812.5,1078.6" fill="#ffc400" stroke="#ffc400"/>
<polygon points="872,1120.8 893.2,1120.5 874.2,1099.8 853,1099.9" fill="#f6ff00" stroke="#f6ff00"/>
<polygon points="912.4,1140.8 933.3,1140.4 914.2,1120.2 893.2,1120.5" fill="#b4ff00" stroke="#b4ff00"/>
<polygon points="952.5,1160.1 973.1,1159.5 953.9,1139.9 933.3,1140.4" fill="#74ff00" stroke="#74ff00"/>
<polygon points="992.5,1178.6 1012.8,1177.9 993.4,1159 973.1,1159.5" fill="#36ff00" stroke="#36ff00"/>
<polygon points="1032.3,1196.5 1052.3,1195.7 1032.8,1177.3 1012.8,1177.9" fill="#00ff05" stroke="#00ff05"/>
<polygon points="1072,1213.6 1091.6,1212.7 1072,1194.8 1052.3,1195.7" fill="#00ff3f" stroke="#00ff3f"/>
<polygon points="1111.5,1230 1130.8,1229 1111,1211.7 1091.6,1212.7" fill="#00ff76" stroke="#00ff76"/>
<polygon points="1150.8,1245.7 1169.8,1244.6 1149.9,1228 1130.8,1229" fill="#00ffab" stroke="#00ffab"/>
<polygon points="1190,1260.8 1208.8,1259.6 1188.6,1243.5 1169.8,1244.6" fill="#00ffde" stroke="#00ffde"/>
<polygon points="1229.1,1275.2 1247.5,1273.9 1227.3,1258.3 1208.8,1259.6" fill="#00efff" stroke="#00efff"/>
<polygon points="1268,1288.9 1286.2,1287.5 1265.8,1272.5 1247.5,1273.9" fill="#00c0ff" stroke="#00c0ff"/>
<polygon points="1306.9,1301.9 1324.8,1300.4 1304.1,1286.1 1286.2,1287.5" fill="#0093ff" stroke="#0093ff"/>
<polygon points="1012.1,1197.3 1032.3,1196.5 1012.8,1177.9 992.5,1178.6" fill="#0cff00" stroke="#0cff00"/>
<polygon points="1052.1,1214.5 1072,1213.6 1052.3,1195.7 1032.3,1196.5" fill="#00ff2e" stroke="#00ff2e"/>
<polygon points="1091.9,1231.1 1111.5,1230 1091.6,1212.7 1072,1213.6" fill="#00ff65" stroke="#00ff65"/>
<polygon points="1131.5,1246.9 1150.8,1245.7 1130.8,1229 1111.5,1230" fill="#00ff9a" stroke="#00ff9a"/>
<polygon points="809.6,1100.3 831.4,1100.1 812.5,1078.6 790.6,1078.6" fill="#ffb300" stroke="#ffb300"/>
<polygon points="850.5,1121.1 872,1120.8 853,1099.9 831.4,1100.1" fill="#fff700" stroke="#fff700"/>
<polygon points="891.2,1141.3 912.4,1140.8 893.2,1120.5 872,1120.8" fill="#c5ff00" stroke="#c5ff00"/>
<polygon points="931.7,1160.7 952.5,1160.1 933.3,1140.4 912.4,1140.8" fill="#85ff00" stroke="#85ff00"/>
<polygon points="972,1179.3 992.5,1178.6 973.1,1159.5 952.5,1160.1" fill="#47ff00" stroke="#47ff00"/>
<polygon points="1171,1262.1 1190,1260.8 1169.8,1244.6 1150.8,1245.7" fill="#00ffcd" stroke="#00ffcd"/>
<polygon points="1210.4,1276.5 1229.1,1275.2 1208.8,1259.6 1190,1260.8" fill="#00fffe" stroke="#00fffe"/>
<polygon points="1249.6,1290.3 1268,1288.9 1247.5,1273.9 1229.1,1275.2" fill="#00d1ff" stroke="#00d1ff"/>
<polygon points="1288.7,1303.5 1306.9,1301.9 1286.2,1287.5 1268,1288.9" fill="#00a4ff" stroke="#00a4ff"/>
<polygon points="1327.8,1315.9 1345.6,1314.3 1324.8,1300.4 1306.9,1301.9" fill="#0079ff" stroke="#0079ff"/>
<polygon points="828.7,1121.5 850.5,1121.1 831.4,1100.1 809.6,1100.3" fill="#ffe700" stroke="#ffe700"/>
<polygon points="869.7,1141.7 891.2,1141.3 872,1120.8 850.5,1121.1" fill="#d5ff00" stroke="#d5ff00"/>
<polygon points="910.5,1161.3 931.7,1160.7 912.4,1140.8 891.2,1141.3" fill="#96ff00" stroke="#96ff00"/>
<polygon points="1031.9,1215.5 1052.1,1214.5 1032.3,1196.5 1012.1,1197.3" fill="#00ff1d" stroke="#00ff1d"/>
<polygon points="1072,1232.1 1091.9,1231.1 1072,1213.6 1052.1,1214.5" fill="#00ff54" stroke="#00ff54"/>
<polygon points="1111.9,1248.1 1131.5,1246.9 1111.5,1230 1091.9,1231.1" fill="#00ff8a" stroke="#00ff8a"/>
<polygon points="1230.9,1291.8 1249.6,1290.3 1229.1,1275.2 1210.4,1276.5" fill="#00e1ff" stroke="#00e1ff"/>
<polygon points="1270.4,1305 1288.7,1303.5 1268,1288.9 1249.6,1290.3" fill="#00b5ff" stroke="#00b5ff"/>
<polygon points="1309.7,1317.6 1327.8,1315.9 1306.9,1301.9 1288.7,1303.5" fill="#008aff" stroke="#008aff"/>
<polygon points="787.5,1100.4 809.6,1100.3 790.6,1078.6 768.5,1078.6" fill="#ffa300" stroke="#ffa300"/>
<polygon points="991.6,1198.1 1012.1,1197.3 992.5,1178.6 972,1179.3" fill="#1cff00" stroke="#1cff00"/>
<polygon points="1151.7,1263.3 1171,1262.1 1150.8,1245.7 1131.5,1246.9" fill="#00ffbd" stroke="#00ffbd"/>
<polygon points="1348.9,1329.4 1366.7,1327.7 1345.6,1314.3 1327.8,1315.9" fill="#0062ff" stroke="#0062ff"/>
<polygon points="951.2,1180.1 972,1179.3 952.5,1160.1 931.7,1160.7" fill="#58ff00" stroke="#58ff00"/>
<polygon points="1191.4,1277.9 1210.4,1276.5 1190,1260.8 1171,1262.1" fill="#00ffee" stroke="#00ffee"/>
<polygon points="1051.8,1233.2 1072,1232.1 1052.1,1214.5 1031.9,1215.5" fill="#00ff44" stroke="#00ff44"/>
<polygon points="1092.1,1249.3 1111.9,1248.1 1091.9,1231.1 1072,1232.1" fill="#00ff79" stroke="#00ff79"/>
<polygon points="848,1142.2 869.7,1141.7 850.5,1121.1 828.7,1121.5" fill="#e6ff00" stroke="#e6ff00"/>
<polygon points="889.1,1161.8 910.5,1161.3 891.2,1141.3 869.7,1141.7" fill="#a6ff00" stroke="#a6ff00"/>
<polygon points="1251.7,1306.6 1270.4,1305 1249.6,1290.3 1230.9,1291.8" fill="#00c5ff" stroke="#00c5ff"/>
<polygon points="1291.4,1319.2 1309.7,1317.6 1288.7,1303.5 1270.4,1305" fill="#009bff" stroke="#009bff"/>
<polygon points="806.6,1121.8 828.7,1121.5 809.6,1100.3 787.5,1100.4" fill="#ffd600" stroke="#ffd600"/>
<polygon points="1011.4,1216.4 1031.9,1215.5 1012.1,1197.3 991.6,1198.1" fill="#00ff0c" stroke="#00ff0c"/>
<polygon points="1132.2,1264.6 1151.7,1263.3 1131.5,1246.9 1111.9,1248.1" fill="#00ffac" stroke="#00ffac"/>
<polygon points="1330.9,1331.2 1348.9,1329.4 1327.8,1315.9 1309.7,1317.6" fill="#0072ff" stroke="#0072ff"/>
<polygon points="930.1,1180.8 951.2,1180.1 931.7,1160.7 910.5,1161.3" fill="#69ff00" stroke="#69ff00"/>
<polygon points="970.8,1199 991.6,1198.1 972,1179.3 951.2,1180.1" fill="#2dff00" stroke="#2dff00"/>
<polygon points="1172.2,1279.3 1191.4,1277.9 1171,1262.1 1151.7,1263.3" fill="#00ffdd" stroke="#00ffdd"/>
<polygon points="1212,1293.3 1230.9,1291.8 1210.4,1276.5 1191.4,1277.9" fill="#00f2ff" stroke="#00f2ff"/>
<polygon points="765,1100.6 787.5,1100.4 768.5,1078.6 746,1078.6" fill="#ff9200" stroke="#ff9200"/>
<polygon points="1370.3,1342.5 1388.1,1340.7 1366.7,1327.7 1348.9,1329.4" fill="#004cff" stroke="#004cff"/>
<polygon points="1072,1250.5 1092.1,1249.3 1072,1232.1 1051.8,1233.2" fill="#00ff68" stroke="#00ff68"/>
<polygon points="867.4,1162.5 889.1,1161.8 869.7,1141.7 848,1142.2" fill="#b7ff00" stroke="#b7ff00"/>
<polygon points="1272.8,1320.9 1291.4,1319.2 1270.4,1305 1251.7,1306.6" fill="#00acff" stroke="#00acff"/>
<polygon points="742.2,1100.8 765,1100.6 746,1078.6 723.2,1078.7" fill="#ff8100" stroke="#ff8100"/>
<polygon points="825.9,1142.7 848,1142.2 828.7,1121.5 806.6,1121.8" fill="#f7ff00" stroke="#f7ff00"/>
<polygon points="1031.4,1234.3 1051.8,1233.2 1031.9,1215.5 1011.4,1216.4" fill="#00ff33" stroke="#00ff33"/>
<polygon points="1112.4,1265.9 1132.2,1264.6 1111.9,1248.1 1092.1,1249.3" fill="#00ff9b" stroke="#00ff9b"/>
<polygon points="1312.6,1332.9 1330.9,1331.2 1309.7,1317.6 1291.4,1319.2" fill="#0083ff" stroke="#0083ff"/>
<polygon points="1392,1355 1409.7,1353.1 1388.1,1340.7 1370.3,1342.5" fill="#0039ff" stroke="#0039ff"/>
<polygon points="908.7,1181.5 930.1,1180.8 910.5,1161.3 889.1,1161.8" fill="#79ff00" stroke="#79ff00"/>
<polygon points="949.8,1199.8 970.8,1199 951.2,1180.1 930.1,1180.8" fill="#3eff00" stroke="#3eff00"/>
<polygon points="990.7,1217.4 1011.4,1216.4 991.6,1198.1 970.8,1199" fill="#04ff00" stroke="#04ff00"/>
<polygon points="1152.7,1280.7 1172.2,1279.3 1151.7,1263.3 1132.2,1264.6" fill="#00ffcc" stroke="#00ffcc"/>
<polygon points="1192.8,1294.8 1212,1293.3 1191.4,1277.9 1172.2,1279.3" fill="#00fffb" stroke="#00fffb"/>
<polygon points="1232.9,1308.1 1251.7,1306.6 1230.9,1291.8 1212,1293.3" fill="#00d6ff" stroke="#00d6ff"/>
<polygon points="784.2,1122.1 806.6,1121.8 787.5,1100.4 765,1100.6" fill="#ffc500" stroke="#ffc500"/>
<polygon points="1352.3,1344.3 1370.3,1342.5 1348.9,1329.4 1330.9,1331.2" fill="#005dff" stroke="#005dff"/>
<polygon points="761.4,1122.4 784.2,1122.1 765,1100.6 742.2,1100.8" fill="#ffb400" stroke="#ffb400"/>
<polygon points="845.3,1163.1 867.4,1162.5 848,1142.2 825.9,1142.7" fill="#c8ff00" stroke="#c8ff00"/>
<polygon points="1051.6,1251.7 1072,1250.5 1051.8,1233.2 1031.4,1234.3" fill="#00ff57" stroke="#00ff57"/>
<polygon points="1092.3,1267.2 1112.4,1265.9 1092.1,1249.3 1072,1250.5" fill="#00ff8a" stroke="#00ff8a"/>
<polygon points="1294.1,1334.7 1312.6,1332.9 1291.4,1319.2 1272.8,1320.9" fill="#0094ff" stroke="#0094ff"/>
<polygon points="1374,1357 1392,1355 1370.3,1342.5 1352.3,1344.3" fill="#0049ff" stroke="#0049ff"/>
<polygon points="887,1182.3 908.7,1181.5 889.1,1161.8 867.4,1162.5" fill="#8aff00" stroke="#8aff00"/>
<polygon points="928.4,1200.7 949.8,1199.8 930.1,1180.8 908.7,1181.5" fill="#4fff00" stroke="#4fff00"/>
<polygon points="969.6,1218.4 990.7,1217.4 970.8,1199 949.8,1199.8" fill="#15ff00" stroke="#15ff00"/>
<polygon points="1010.7,1235.4 1031.4,1234.3 1011.4,1216.4 990.7,1217.4" fill="#00ff22" stroke="#00ff22"/>
<polygon points="1132.9,1282.1 1152.7,1280.7 1132.2,1264.6 1112.4,1265.9" fill="#00ffbb" stroke="#00ffbb"/>
<polygon points="1173.4,1296.3 1192.8,1294.8 1172.2,1279.3 1152.7,1280.7" fill="#00ffea" stroke="#00ffea"/>
<polygon points="1213.7,1309.8 1232.9,1308.1 1212,1293.3 1192.8,1294.8" fill="#00e7ff" stroke="#00e7ff"/>
<polygon points="1253.9,1322.6 1272.8,1320.9 1251.7,1306.6 1232.9,1308.1" fill="#00bcff" stroke="#00bcff"/>
<polygon points="719.2,1101 742.2,1100.8 723.2,1078.7 700.1,1078.7" fill="#ff7000" stroke="#ff7000"/>
<polygon points="803.5,1143.1 825.9,1142.7 806.6,1121.8 784.2,1122.1" fill="#fff600" stroke="#fff600"/>
<polygon points="1334.1,1346.2 1352.3,1344.3 1330.9,1331.2 1312.6,1332.9" fill="#006eff" stroke="#006eff"/>
<polygon points="1413.9,1367.1 1431.5,1365.1 1409.7,1353.1 1392,1355" fill="#0027ff" stroke="#0027ff"/>
<polygon points="780.8,1143.6 803.5,1143.1 784.2,1122.1 761.4,1122.4" fill="#ffe600" stroke="#ffe600"/>
<polygon points="1355.8,1358.9 1374,1357 1352.3,1344.3 1334.1,1346.2" fill="#005aff" stroke="#005aff"/>
<polygon points="906.7,1201.6 928.4,1200.7 908.7,1181.5 887,1182.3" fill="#5fff00" stroke="#5fff00"/>
<polygon points="948.3,1219.4 969.6,1218.4 949.8,1199.8 928.4,1200.7" fill="#26ff00" stroke="#26ff00"/>
<polygon points="989.7,1236.5 1010.7,1235.4 990.7,1217.4 969.6,1218.4" fill="#00ff11" stroke="#00ff11"/>
<polygon points="1030.9,1252.9 1051.6,1251.7 1031.4,1234.3 1010.7,1235.4" fill="#00ff47" stroke="#00ff47"/>
<polygon points="1112.9,1283.5 1132.9,1282.1 1112.4,1265.9 1092.3,1267.2" fill="#00ffab" stroke="#00ffab"/>
<polygon points="1153.7,1297.8 1173.4,1296.3 1152.7,1280.7 1132.9,1282.1" fill="#00ffda" stroke="#00ffda"/>
<polygon points="1194.3,1311.4 1213.7,1309.8 1192.8,1294.8 1173.4,1296.3" fill="#00f8ff" stroke="#00f8ff"/>
<polygon points="1234.9,1324.3 1253.9,1322.6 1232.9,1308.1 1213.7,1309.8" fill="#00cdff" stroke="#00cdff"/>
<polygon points="738.4,1122.8 761.4,1122.4 742.2,1100.8 719.2,1101" fill="#ffa400" stroke="#ffa400"/>
<polygon points="823,1163.7 845.3,1163.1 825.9,1142.7 803.5,1143.1" fill="#d9ff00" stroke="#d9ff00"/>
<polygon points="865,1183 887,1182.3 867.4,1162.5 845.3,1163.1" fill="#9bff00" stroke="#9bff00"/>
<polygon points="1072,1268.6 1092.3,1267.2 1072,1250.5 1051.6,1251.7" fill="#00ff7a" stroke="#00ff7a"/>
<polygon points="1275.3,1336.5 1294.1,1334.7 1272.8,1320.9 1253.9,1322.6" fill="#00a5ff" stroke="#00a5ff"/>
<polygon points="1315.6,1348 1334.1,1346.2 1312.6,1332.9 1294.1,1334.7" fill="#007eff" stroke="#007eff"/>
<polygon points="1396,1369.1 1413.9,1367.1 1392,1355 1374,1357" fill="#0038ff" stroke="#0038ff"/>
<polygon points="695.7,1101.1 719.2,1101 700.1,1078.7 676.6,1078.7" fill="#ff6000" stroke="#ff6000"/>
<polygon points="1436.1,1378.7 1453.7,1376.6 1431.5,1365.1 1413.9,1367.1" fill="#0018ff" stroke="#0018ff"/>
<polygon points="800.3,1164.3 823,1163.7 803.5,1143.1 780.8,1143.6" fill="#e9ff00" stroke="#e9ff00"/>
<polygon points="1337.4,1360.9 1355.8,1358.9 1334.1,1346.2 1315.6,1348" fill="#006bff" stroke="#006bff"/>
<polygon points="926.7,1220.4 948.3,1219.4 928.4,1200.7 906.7,1201.6" fill="#37ff00" stroke="#37ff00"/>
<polygon points="968.4,1237.7 989.7,1236.5 969.6,1218.4 948.3,1219.4" fill="#00ff01" stroke="#00ff01"/>
<polygon points="1009.9,1254.2 1030.9,1252.9 1010.7,1235.4 989.7,1236.5" fill="#00ff36" stroke="#00ff36"/>
<polygon points="1133.7,1299.4 1153.7,1297.8 1132.9,1282.1 1112.9,1283.5" fill="#00ffc9" stroke="#00ffc9"/>
<polygon points="1174.6,1313 1194.3,1311.4 1173.4,1296.3 1153.7,1297.8" fill="#00fff6" stroke="#00fff6"/>
<polygon points="1215.5,1326 1234.9,1324.3 1213.7,1309.8 1194.3,1311.4" fill="#00deff" stroke="#00deff"/>
<polygon points="672,1101.3 695.7,1101.1 676.6,1078.7 652.9,1078.7" fill="#ff4f00" stroke="#ff4f00"/>
<polygon points="757.8,1144.1 780.8,1143.6 761.4,1122.4 738.4,1122.8" fill="#ffd500" stroke="#ffd500"/>
<polygon points="884.7,1202.5 906.7,1201.6 887,1182.3 865,1183" fill="#70ff00" stroke="#70ff00"/>
<polygon points="1256.2,1338.3 1275.3,1336.5 1253.9,1322.6 1234.9,1324.3" fill="#00b5ff" stroke="#00b5ff"/>
<polygon points="1377.8,1371.2 1396,1369.1 1374,1357 1355.8,1358.9" fill="#0049ff" stroke="#0049ff"/>
<polygon points="1458.5,1389.7 1476.1,1387.6 1453.7,1376.6 1436.1,1378.7" fill="#000bff" stroke="#000bff"/>
<polygon points="1051.3,1269.9 1072,1268.6 1051.6,1251.7 1030.9,1252.9" fill="#00ff69" stroke="#00ff69"/>
<polygon points="1092.6,1285 1112.9,1283.5 1092.3,1267.2 1072,1268.6" fill="#00ff9a" stroke="#00ff9a"/>
<polygon points="715,1123.1 738.4,1122.8 719.2,1101 695.7,1101.1" fill="#ff9300" stroke="#ff9300"/>
<polygon points="842.6,1183.8 865,1183 845.3,1163.1 823,1163.7" fill="#acff00" stroke="#acff00"/>
<polygon points="1296.9,1349.9 1315.6,1348 1294.1,1334.7 1275.3,1336.5" fill="#008fff" stroke="#008fff"/>
<polygon points="1418.2,1380.8 1436.1,1378.7 1413.9,1367.1 1396,1369.1" fill="#0029ff" stroke="#0029ff"/>
<polygon points="946.8,1238.8 968.4,1237.7 948.3,1219.4 926.7,1220.4" fill="#10ff00" stroke="#10ff00"/>
<polygon points="988.7,1255.4 1009.9,1254.2 989.7,1236.5 968.4,1237.7" fill="#00ff25" stroke="#00ff25"/>
<polygon points="1154.7,1314.7 1174.6,1313 1153.7,1297.8 1133.7,1299.4" fill="#00ffe5" stroke="#00ffe5"/>
<polygon points="1195.9,1327.8 1215.5,1326 1194.3,1311.4 1174.6,1313" fill="#00efff" stroke="#00efff"/>
<polygon points="691.3,1123.4 715,1123.1 695.7,1101.1 672,1101.3" fill="#ff8200" stroke="#ff8200"/>
<polygon points="777.3,1165 800.3,1164.3 780.8,1143.6 757.8,1144.1" fill="#faff00" stroke="#faff00"/>
<polygon points="820,1184.5 842.6,1183.8 823,1163.7 800.3,1164.3" fill="#bcff00" stroke="#bcff00"/>
<polygon points="904.7,1221.5 926.7,1220.4 906.7,1201.6 884.7,1202.5" fill="#47ff00" stroke="#47ff00"/>
<polygon points="1236.9,1340.2 1256.2,1338.3 1234.9,1324.3 1215.5,1326" fill="#00c6ff" stroke="#00c6ff"/>
<polygon points="1318.7,1362.9 1337.4,1360.9 1315.6,1348 1296.9,1349.9" fill="#007cff" stroke="#007cff"/>
<polygon points="1359.5,1373.2 1377.8,1371.2 1355.8,1358.9 1337.4,1360.9" fill="#0059ff" stroke="#0059ff"/>
<polygon points="1440.8,1391.9 1458.5,1389.7 1436.1,1378.7 1418.2,1380.8" fill="#001cff" stroke="#001cff"/>
<polygon points="1030.4,1271.3 1051.3,1269.9 1030.9,1252.9 1009.9,1254.2" fill="#00ff58" stroke="#00ff58"/>
<polygon points="1113.4,1300.9 1133.7,1299.4 1112.9,1283.5 1092.6,1285" fill="#00ffb8" stroke="#00ffb8"/>
<polygon points="734.4,1144.6 757.8,1144.1 738.4,1122.8 715,1123.1" fill="#ffc400" stroke="#ffc400"/>
<polygon points="862.5,1203.4 884.7,1202.5 865,1183 842.6,1183.8" fill="#81ff00" stroke="#81ff00"/>
<polygon points="1072,1286.5 1092.6,1285 1072,1268.6 1051.3,1269.9" fill="#00ff89" stroke="#00ff89"/>
<polygon points="1277.8,1351.9 1296.9,1349.9 1275.3,1336.5 1256.2,1338.3" fill="#00a0ff" stroke="#00a0ff"/>
<polygon points="1400.1,1382.9 1418.2,1380.8 1396,1369.1 1377.8,1371.2" fill="#0039ff" stroke="#0039ff"/>
<polygon points="967.1,1256.7 988.7,1255.4 968.4,1237.7 946.8,1238.8" fill="#00ff14" stroke="#00ff14"/>
<polygon points="1175.9,1329.6 1195.9,1327.8 1174.6,1313 1154.7,1314.7" fill="#00ffff" stroke="#00ffff"/>
<polygon points="710.7,1145.1 734.4,1144.6 715,1123.1 691.3,1123.4" fill="#ffb300" stroke="#ffb300"/>
<polygon points="839.8,1204.3 862.5,1203.4 842.6,1183.8 820,1184.5" fill="#92ff00" stroke="#92ff00"/>
<polygon points="924.9,1240 946.8,1238.8 926.7,1220.4 904.7,1221.5" fill="#21ff00" stroke="#21ff00"/>
<polygon points="1217.3,1342 1236.9,1340.2 1215.5,1326 1195.9,1327.8" fill="#00d7ff" stroke="#00d7ff"/>
<polygon points="1299.7,1364.9 1318.7,1362.9 1296.9,1349.9 1277.8,1351.9" fill="#008cff" stroke="#008cff"/>
<polygon points="1422.7,1394.1 1440.8,1391.9 1418.2,1380.8 1400.1,1382.9" fill="#002cff" stroke="#002cff"/>
<polygon points="1009.2,1272.7 1030.4,1271.3 1009.9,1254.2 988.7,1255.4" fill="#00ff47" stroke="#00ff47"/>
<polygon points="1134.5,1316.4 1154.7,1314.7 1133.7,1299.4 1113.4,1300.9" fill="#00ffd4" stroke="#00ffd4"/>
<polygon points="754,1165.6 777.3,1165 757.8,1144.1 734.4,1144.6" fill="#fff300" stroke="#fff300"/>
<polygon points="797,1185.3 820,1184.5 800.3,1164.3 777.3,1165" fill="#cdff00" stroke="#cdff00"/>
<polygon points="882.5,1222.5 904.7,1221.5 884.7,1202.5 862.5,1203.4" fill="#58ff00" stroke="#58ff00"/>
<polygon points="1051.1,1288 1072,1286.5 1051.3,1269.9 1030.4,1271.3" fill="#00ff78" stroke="#00ff78"/>
<polygon points="1092.8,1302.6 1113.4,1300.9 1092.6,1285 1072,1286.5" fill="#00ffa7" stroke="#00ffa7"/>
<polygon points="1258.6,1353.8 1277.8,1351.9 1256.2,1338.3 1236.9,1340.2" fill="#00b1ff" stroke="#00b1ff"/>
<polygon points="1340.8,1375.3 1359.5,1373.2 1337.4,1360.9 1318.7,1362.9" fill="#006aff" stroke="#006aff"/>
<polygon points="1381.8,1385.1 1400.1,1382.9 1377.8,1371.2 1359.5,1373.2" fill="#004aff" stroke="#004aff"/>
<polygon points="730.3,1166.3 754,1165.6 734.4,1144.6 710.7,1145.1" fill="#ffe200" stroke="#ffe200"/>
<polygon points="859.9,1223.6 882.5,1222.5 862.5,1203.4 839.8,1204.3" fill="#69ff00" stroke="#69ff00"/>
<polygon points="945.2,1258 967.1,1256.7 946.8,1238.8 924.9,1240" fill="#00ff04" stroke="#00ff04"/>
<polygon points="1197.4,1343.9 1217.3,1342 1195.9,1327.8 1175.9,1329.6" fill="#00e8ff" stroke="#00e8ff"/>
<polygon points="1280.5,1367 1299.7,1364.9 1277.8,1351.9 1258.6,1353.8" fill="#009dff" stroke="#009dff"/>
<polygon points="1404.4,1396.4 1422.7,1394.1 1400.1,1382.9 1381.8,1385.1" fill="#003dff" stroke="#003dff"/>
<polygon points="987.6,1274.1 1009.2,1272.7 988.7,1255.4 967.1,1256.7" fill="#00ff37" stroke="#00ff37"/>
<polygon points="1155.7,1331.4 1175.9,1329.6 1154.7,1314.7 1134.5,1316.4" fill="#00ffee" stroke="#00ffee"/>
<polygon points="816.9,1205.2 839.8,1204.3 820,1184.5 797,1185.3" fill="#a2ff00" stroke="#a2ff00"/>
<polygon points="902.6,1241.2 924.9,1240 904.7,1221.5 882.5,1222.5" fill="#32ff00" stroke="#32ff00"/>
<polygon points="1029.9,1289.5 1051.1,1288 1030.4,1271.3 1009.2,1272.7" fill="#00ff68" stroke="#00ff68"/>
<polygon points="1072,1304.2 1092.8,1302.6 1072,1286.5 1051.1,1288" fill="#00ff97" stroke="#00ff97"/>
<polygon points="1113.9,1318.1 1134.5,1316.4 1113.4,1300.9 1092.8,1302.6" fill="#00ffc3" stroke="#00ffc3"/>
<polygon points="1239,1355.8 1258.6,1353.8 1236.9,1340.2 1217.3,1342" fill="#00c1ff" stroke="#00c1ff"/>
<polygon points="1321.9,1377.4 1340.8,1375.3 1318.7,1362.9 1299.7,1364.9" fill="#007bff" stroke="#007bff"/>
<polygon points="773.7,1186.1 797,1185.3 777.3,1165 754,1165.6" fill="#deff00" stroke="#deff00"/>
<polygon points="1363.2,1387.3 1381.8,1385.1 1359.5,1373.2 1340.8,1375.3" fill="#005bff" stroke="#005bff"/>
<polygon points="880.1,1242.4 902.6,1241.2 882.5,1222.5 859.9,1223.6" fill="#42ff00" stroke="#42ff00"/>
<polygon points="1261,1369 1280.5,1367 1258.6,1353.8 1239,1355.8" fill="#00aeff" stroke="#00aeff"/>
<polygon points="750.1,1186.9 773.7,1186.1 754,1165.6 730.3,1166.3" fill="#efff00" stroke="#efff00"/>
<polygon points="837,1224.7 859.9,1223.6 839.8,1204.3 816.9,1205.2" fill="#7aff00" stroke="#7aff00"/>
<polygon points="923,1259.3 945.2,1258 924.9,1240 902.6,1241.2" fill="#0dff00" stroke="#0dff00"/>
<polygon points="965.8,1275.6 987.6,1274.1 967.1,1256.7 945.2,1258" fill="#00ff26" stroke="#00ff26"/>
<polygon points="1008.4,1291.1 1029.9,1289.5 1009.2,1272.7 987.6,1274.1" fill="#00ff57" stroke="#00ff57"/>
<polygon points="1050.8,1305.8 1072,1304.2 1051.1,1288 1029.9,1289.5" fill="#00ff86" stroke="#00ff86"/>
<polygon points="1093.1,1319.9 1113.9,1318.1 1092.8,1302.6 1072,1304.2" fill="#00ffb3" stroke="#00ffb3"/>
<polygon points="1135.3,1333.2 1155.7,1331.4 1134.5,1316.4 1113.9,1318.1" fill="#00ffdd" stroke="#00ffdd"/>
<polygon points="1177.3,1345.9 1197.4,1343.9 1175.9,1329.6 1155.7,1331.4" fill="#00f8ff" stroke="#00f8ff"/>
<polygon points="1219.2,1357.8 1239,1355.8 1217.3,1342 1197.4,1343.9" fill="#00d2ff" stroke="#00d2ff"/>
<polygon points="1302.7,1379.6 1321.9,1377.4 1299.7,1364.9 1280.5,1367" fill="#008cff" stroke="#008cff"/>
<polygon points="1385.9,1398.7 1404.4,1396.4 1381.8,1385.1 1363.2,1387.3" fill="#004eff" stroke="#004eff"/>
<polygon points="793.6,1206.2 816.9,1205.2 797,1185.3 773.7,1186.1" fill="#b3ff00" stroke="#b3ff00"/>
<polygon points="1344.3,1389.5 1363.2,1387.3 1340.8,1375.3 1321.9,1377.4" fill="#006cff" stroke="#006cff"/>
<polygon points="900.5,1260.7 923,1259.3 902.6,1241.2 880.1,1242.4" fill="#1eff00" stroke="#1eff00"/>
<polygon points="1241.2,1371.2 1261,1369 1239,1355.8 1219.2,1357.8" fill="#00bfff" stroke="#00bfff"/>
<polygon points="770,1207.1 793.6,1206.2 773.7,1186.1 750.1,1186.9" fill="#c4ff00" stroke="#c4ff00"/>
<polygon points="857.2,1243.6 880.1,1242.4 859.9,1223.6 837,1224.7" fill="#53ff00" stroke="#53ff00"/>
<polygon points="1029.4,1307.5 1050.8,1305.8 1029.9,1289.5 1008.4,1291.1" fill="#00ff75" stroke="#00ff75"/>
<polygon points="1072,1321.7 1093.1,1319.9 1072,1304.2 1050.8,1305.8" fill="#00ffa2" stroke="#00ffa2"/>
<polygon points="1114.5,1335.1 1135.3,1333.2 1113.9,1318.1 1093.1,1319.9" fill="#00ffcc" stroke="#00ffcc"/>
<polygon points="1283.2,1381.8 1302.7,1379.6 1280.5,1367 1261,1369" fill="#009cff" stroke="#009cff"/>
<polygon points="1367,1401 1385.9,1398.7 1363.2,1387.3 1344.3,1389.5" fill="#005fff" stroke="#005fff"/>
<polygon points="986.6,1292.6 1008.4,1291.1 987.6,1274.1 965.8,1275.6" fill="#00ff46" stroke="#00ff46"/>
<polygon points="1156.8,1347.8 1177.3,1345.9 1155.7,1331.4 1135.3,1333.2" fill="#00fff5" stroke="#00fff5"/>
<polygon points="813.7,1225.7 837,1224.7 816.9,1205.2 793.6,1206.2" fill="#8aff00" stroke="#8aff00"/>
<polygon points="943.6,1277 965.8,1275.6 945.2,1258 923,1259.3" fill="#00ff15" stroke="#00ff15"/>
<polygon points="1199.1,1359.8 1219.2,1357.8 1197.4,1343.9 1177.3,1345.9" fill="#00e3ff" stroke="#00e3ff"/>
<polygon points="1325.2,1391.7 1344.3,1389.5 1321.9,1377.4 1302.7,1379.6" fill="#007cff" stroke="#007cff"/>
<polygon points="790.1,1226.9 813.7,1225.7 793.6,1206.2 770,1207.1" fill="#9bff00" stroke="#9bff00"/>
<polygon points="877.7,1262 900.5,1260.7 880.1,1242.4 857.2,1243.6" fill="#2fff00" stroke="#2fff00"/>
<polygon points="921.1,1278.5 943.6,1277 923,1259.3 900.5,1260.7" fill="#00ff04" stroke="#00ff04"/>
<polygon points="1007.6,1309.2 1029.4,1307.5 1008.4,1291.1 986.6,1292.6" fill="#00ff64" stroke="#00ff64"/>
<polygon points="1050.5,1323.5 1072,1321.7 1050.8,1305.8 1029.4,1307.5" fill="#00ff91" stroke="#00ff91"/>
<polygon points="1093.4,1337 1114.5,1335.1 1093.1,1319.9 1072,1321.7" fill="#00ffbc" stroke="#00ffbc"/>
<polygon points="1136.1,1349.8 1156.8,1347.8 1135.3,1333.2 1114.5,1335.1" fill="#00ffe4" stroke="#00ffe4"/>
<polygon points="1221.1,1373.3 1241.2,1371.2 1219.2,1357.8 1199.1,1359.8" fill="#00cfff" stroke="#00cfff"/>
<polygon points="1263.5,1384 1283.2,1381.8 1261,1369 1241.2,1371.2" fill="#00adff" stroke="#00adff"/>
<polygon points="1348,1403.4 1367,1401 1344.3,1389.5 1325.2,1391.7" fill="#006fff" stroke="#006fff"/>
<polygon points="834,1244.8 857.2,1243.6 837,1224.7 813.7,1225.7" fill="#64ff00" stroke="#64ff00"/>
<polygon points="1305.8,1394 1325.2,1391.7 1302.7,1379.6 1283.2,1381.8" fill="#008dff" stroke="#008dff"/>
<polygon points="964.4,1294.2 986.6,1292.6 965.8,1275.6 943.6,1277" fill="#00ff35" stroke="#00ff35"/>
<polygon points="1178.7,1361.9 1199.1,1359.8 1177.3,1345.9 1156.8,1347.8" fill="#00f4ff" stroke="#00f4ff"/>
<polygon points="810.4,1246.1 834,1244.8 813.7,1225.7 790.1,1226.9" fill="#75ff00" stroke="#75ff00"/>
<polygon points="1072,1338.9 1093.4,1337 1072,1321.7 1050.5,1323.5" fill="#00ffab" stroke="#00ffab"/>
<polygon points="1328.6,1405.8 1348,1403.4 1325.2,1391.7 1305.8,1394" fill="#0080ff" stroke="#0080ff"/>
<polygon points="854.5,1263.4 877.7,1262 857.2,1243.6 834,1244.8" fill="#3fff00" stroke="#3fff00"/>
<polygon points="898.3,1280 921.1,1278.5 900.5,1260.7 877.7,1262" fill="#0cff00" stroke="#0cff00"/>
<polygon points="942,1295.8 964.4,1294.2 943.6,1277 921.1,1278.5" fill="#00ff25" stroke="#00ff25"/>
<polygon points="985.5,1310.9 1007.6,1309.2 986.6,1292.6 964.4,1294.2" fill="#00ff54" stroke="#00ff54"/>
<polygon points="1028.8,1325.3 1050.5,1323.5 1029.4,1307.5 1007.6,1309.2" fill="#00ff80" stroke="#00ff80"/>
<polygon points="1115,1351.8 1136.1,1349.8 1114.5,1335.1 1093.4,1337" fill="#00ffd3" stroke="#00ffd3"/>
<polygon points="1157.9,1364 1178.7,1361.9 1156.8,1347.8 1136.1,1349.8" fill="#00fffa" stroke="#00fffa"/>
<polygon points="1200.7,1375.5 1221.1,1373.3 1199.1,1359.8 1178.7,1361.9" fill="#00e0ff" stroke="#00e0ff"/>
<polygon points="1243.4,1386.3 1263.5,1384 1241.2,1371.2 1221.1,1373.3" fill="#00beff" stroke="#00beff"/>
<polygon points="1286.1,1396.4 1305.8,1394 1283.2,1381.8 1263.5,1384" fill="#009eff" stroke="#009eff"/>
<polygon points="830.9,1264.8 854.5,1263.4 834,1244.8 810.4,1246.1" fill="#50ff00" stroke="#50ff00"/>
<polygon points="963,1312.7 985.5,1310.9 964.4,1294.2 942,1295.8" fill="#00ff43" stroke="#00ff43"/>
<polygon points="1050.3,1340.9 1072,1338.9 1050.5,1323.5 1028.8,1325.3" fill="#00ff9a" stroke="#00ff9a"/>
<polygon points="1093.7,1353.9 1115,1351.8 1093.4,1337 1072,1338.9" fill="#00ffc3" stroke="#00ffc3"/>
<polygon points="1180.1,1377.7 1200.7,1375.5 1178.7,1361.9 1157.9,1364" fill="#00f1ff" stroke="#00f1ff"/>
<polygon points="1308.9,1408.2 1328.6,1405.8 1305.8,1394 1286.1,1396.4" fill="#0091ff" stroke="#0091ff"/>
<polygon points="875.2,1281.5 898.3,1280 877.7,1262 854.5,1263.4" fill="#1dff00" stroke="#1dff00"/>
<polygon points="919.2,1297.5 942,1295.8 921.1,1278.5 898.3,1280" fill="#00ff14" stroke="#00ff14"/>
<polygon points="1006.7,1327.1 1028.8,1325.3 1007.6,1309.2 985.5,1310.9" fill="#00ff70" stroke="#00ff70"/>
<polygon points="1136.9,1366.1 1157.9,1364 1136.1,1349.8 1115,1351.8" fill="#00ffe9" stroke="#00ffe9"/>
<polygon points="1223.1,1388.6 1243.4,1386.3 1221.1,1373.3 1200.7,1375.5" fill="#00cfff" stroke="#00cfff"/>
<polygon points="1266.1,1398.7 1286.1,1396.4 1263.5,1384 1243.4,1386.3" fill="#00afff" stroke="#00afff"/>
<polygon points="851.6,1283.1 875.2,1281.5 854.5,1263.4 830.9,1264.8" fill="#2eff00" stroke="#2eff00"/>
<polygon points="940.3,1314.4 963,1312.7 942,1295.8 919.2,1297.5" fill="#00ff32" stroke="#00ff32"/>
<polygon points="984.3,1329 1006.7,1327.1 985.5,1310.9 963,1312.7" fill="#00ff5f" stroke="#00ff5f"/>
<polygon points="1028.2,1342.8 1050.3,1340.9 1028.8,1325.3 1006.7,1327.1" fill="#00ff89" stroke="#00ff89"/>
<polygon points="1072,1355.9 1093.7,1353.9 1072,1338.9 1050.3,1340.9" fill="#00ffb2" stroke="#00ffb2"/>
<polygon points="1115.6,1368.3 1136.9,1366.1 1115,1351.8 1093.7,1353.9" fill="#00ffd8" stroke="#00ffd8"/>
<polygon points="1159.1,1379.9 1180.1,1377.7 1157.9,1364 1136.9,1366.1" fill="#00fffc" stroke="#00fffc"/>
<polygon points="1202.5,1390.9 1223.1,1388.6 1200.7,1375.5 1180.1,1377.7" fill="#00dfff" stroke="#00dfff"/>
<polygon points="1289,1410.6 1308.9,1408.2 1286.1,1396.4 1266.1,1398.7" fill="#00a2ff" stroke="#00a2ff"/>
<polygon points="896,1299.1 919.2,1297.5 898.3,1280 875.2,1281.5" fill="#00ff03" stroke="#00ff03"/>
<polygon points="1245.8,1401.1 1266.1,1398.7 1243.4,1386.3 1223.1,1388.6" fill="#00bfff" stroke="#00bfff"/>
<polygon points="1005.9,1344.8 1028.2,1342.8 1006.7,1327.1 984.3,1329" fill="#00ff79" stroke="#00ff79"/>
<polygon points="1137.8,1382.2 1159.1,1379.9 1136.9,1366.1 1115.6,1368.3" fill="#00ffec" stroke="#00ffec"/>
<polygon points="872.6,1300.8 896,1299.1 875.2,1281.5 851.6,1283.1" fill="#0eff00" stroke="#0eff00"/>
<polygon points="917.2,1316.2 940.3,1314.4 919.2,1297.5 896,1299.1" fill="#00ff21" stroke="#00ff21"/>
<polygon points="961.6,1330.9 984.3,1329 963,1312.7 940.3,1314.4" fill="#00ff4e" stroke="#00ff4e"/>
<polygon points="1050,1358 1072,1355.9 1050.3,1340.9 1028.2,1342.8" fill="#00ffa1" stroke="#00ffa1"/>
<polygon points="1094,1370.5 1115.6,1368.3 1093.7,1353.9 1072,1355.9" fill="#00ffc7" stroke="#00ffc7"/>
<polygon points="1181.5,1393.2 1202.5,1390.9 1180.1,1377.7 1159.1,1379.9" fill="#00f0ff" stroke="#00f0ff"/>
<polygon points="1225.2,1403.5 1245.8,1401.1 1223.1,1388.6 1202.5,1390.9" fill="#00d0ff" stroke="#00d0ff"/>
<polygon points="1268.7,1413.1 1289,1410.6 1266.1,1398.7 1245.8,1401.1" fill="#00b2ff" stroke="#00b2ff"/>
<polygon points="893.7,1318.1 917.2,1316.2 896,1299.1 872.6,1300.8" fill="#00ff11" stroke="#00ff11"/>
<polygon points="983.1,1346.9 1005.9,1344.8 984.3,1329 961.6,1330.9" fill="#00ff68" stroke="#00ff68"/>
<polygon points="1027.6,1360.2 1050,1358 1028.2,1342.8 1005.9,1344.8" fill="#00ff90" stroke="#00ff90"/>
<polygon points="1116.2,1384.5 1137.8,1382.2 1115.6,1368.3 1094,1370.5" fill="#00ffdb" stroke="#00ffdb"/>
<polygon points="1160.3,1395.6 1181.5,1393.2 1159.1,1379.9 1137.8,1382.2" fill="#00fffd" stroke="#00fffd"/>
<polygon points="1248.2,1415.7 1268.7,1413.1 1245.8,1401.1 1225.2,1403.5" fill="#00c3ff" stroke="#00c3ff"/>
<polygon points="938.5,1332.9 961.6,1330.9 940.3,1314.4 917.2,1316.2" fill="#00ff3d" stroke="#00ff3d"/>
<polygon points="1072,1372.7 1094,1370.5 1072,1355.9 1050,1358" fill="#00ffb7" stroke="#00ffb7"/>
<polygon points="1204.3,1406 1225.2,1403.5 1202.5,1390.9 1181.5,1393.2" fill="#00e1ff" stroke="#00e1ff"/>
<polygon points="915.1,1334.8 938.5,1332.9 917.2,1316.2 893.7,1318.1" fill="#00ff2d" stroke="#00ff2d"/>
<polygon points="960.1,1349 983.1,1346.9 961.6,1330.9 938.5,1332.9" fill="#00ff57" stroke="#00ff57"/>
<polygon points="1005,1362.3 1027.6,1360.2 1005.9,1344.8 983.1,1346.9" fill="#00ff80" stroke="#00ff80"/>
<polygon points="1049.7,1375 1072,1372.7 1050,1358 1027.6,1360.2" fill="#00ffa6" stroke="#00ffa6"/>
<polygon points="1094.3,1386.9 1116.2,1384.5 1094,1370.5 1072,1372.7" fill="#00ffca" stroke="#00ffca"/>
<polygon points="1138.7,1398.1 1160.3,1395.6 1137.8,1382.2 1116.2,1384.5" fill="#00ffec" stroke="#00ffec"/>
<polygon points="1183.1,1408.5 1204.3,1406 1181.5,1393.2 1160.3,1395.6" fill="#00f2ff" stroke="#00f2ff"/>
<polygon points="1227.3,1418.3 1248.2,1415.7 1225.2,1403.5 1204.3,1406" fill="#00d4ff" stroke="#00d4ff"/>
<polygon points="936.7,1351.1 960.1,1349 938.5,1332.9 915.1,1334.8" fill="#00ff46" stroke="#00ff46"/>
<polygon points="1072,1389.3 1094.3,1386.9 1072,1372.7 1049.7,1375" fill="#00ffb9" stroke="#00ffb9"/>
<polygon points="1206.1,1420.9 1227.3,1418.3 1204.3,1406 1183.1,1408.5" fill="#00e5ff" stroke="#00e5ff"/>
<polygon points="981.9,1364.5 1005,1362.3 983.1,1346.9 960.1,1349" fill="#00ff6f" stroke="#00ff6f"/>
<polygon points="1027,1377.3 1049.7,1375 1027.6,1360.2 1005,1362.3" fill="#00ff95" stroke="#00ff95"/>
<polygon points="1116.8,1400.5 1138.7,1398.1 1116.2,1384.5 1094.3,1386.9" fill="#00ffdc" stroke="#00ffdc"/>
<polygon points="1161.5,1411.1 1183.1,1408.5 1160.3,1395.6 1138.7,1398.1" fill="#00fffc" stroke="#00fffc"/>
<polygon points="958.5,1366.8 981.9,1364.5 960.1,1349 936.7,1351.1" fill="#00ff5e" stroke="#00ff5e"/>
<polygon points="1049.4,1391.7 1072,1389.3 1049.7,1375 1027,1377.3" fill="#00ffa9" stroke="#00ffa9"/>
<polygon points="1094.6,1403 1116.8,1400.5 1094.3,1386.9 1072,1389.3" fill="#00ffcb" stroke="#00ffcb"/>
<polygon points="1184.6,1423.5 1206.1,1420.9 1183.1,1408.5 1161.5,1411.1" fill="#00f5ff" stroke="#00f5ff"/>
<polygon points="1004,1379.6 1027,1377.3 1005,1362.3 981.9,1364.5" fill="#00ff84" stroke="#00ff84"/>
<polygon points="1139.7,1413.6 1161.5,1411.1 1138.7,1398.1 1116.8,1400.5" fill="#00ffeb" stroke="#00ffeb"/>
<polygon points="980.7,1382 1004,1379.6 981.9,1364.5 958.5,1366.8" fill="#00ff74" stroke="#00ff74"/>
<polygon points="1026.4,1394.1 1049.4,1391.7 1027,1377.3 1004,1379.6" fill="#00ff98" stroke="#00ff98"/>
<polygon points="1072,1405.6 1094.6,1403 1072,1389.3 1049.4,1391.7" fill="#00ffba" stroke="#00ffba"/>
<polygon points="1117.4,1416.3 1139.7,1413.6 1116.8,1400.5 1094.6,1403" fill="#00ffda" stroke="#00ffda"/>
<polygon points="1162.8,1426.2 1184.6,1423.5 1161.5,1411.1 1139.7,1413.6" fill="#00fff8" stroke="#00fff8"/>
<polygon points="1003.1,1396.6 1026.4,1394.1 1004,1379.6 980.7,1382" fill="#00ff87" stroke="#00ff87"/>
<polygon points="1140.6,1429 1162.8,1426.2 1139.7,1413.6 1117.4,1416.3" fill="#00ffe7" stroke="#00ffe7"/>
<polygon points="1049,1408.2 1072,1405.6 1049.4,1391.7 1026.4,1394.1" fill="#00ffa9" stroke="#00ffa9"/>
<polygon points="1094.9,1418.9 1117.4,1416.3 1094.6,1403 1072,1405.6" fill="#00ffc9" stroke="#00ffc9"/>
<polygon points="1025.7,1410.8 1049,1408.2 1026.4,1394.1 1003.1,1396.6" fill="#00ff99" stroke="#00ff99"/>
<polygon points="1118.1,1431.7 1140.6,1429 1117.4,1416.3 1094.9,1418.9" fill="#00ffd6" stroke="#00ffd6"/>
<polygon points="1072,1421.6 1094.9,1418.9 1072,1405.6 1049,1408.2" fill="#00ffb9" stroke="#00ffb9"/>
<polygon points="1048.7,1424.4 1072,1421.6 1049,1408.2 1025.7,1410.8" fill="#00ffa8" stroke="#00ffa8"/>
<polygon points="1095.2,1434.6 1118.1,1431.7 1094.9,1418.9 1072,1421.6" fill="#00ffc6" stroke="#00ffc6"/>
<polygon points="1072,1437.4 1095.2,1434.6 1072,1421.6 1048.7,1424.4" fill="#00ffb5" stroke="#00ffb5"/>
</g>
<path d="M1072,1437.4 L1048.7,1424.4 L1025.7,1410.8 L1003.1,1396.6 L980.7,1382 L958.5,1366.8 L936.7,1351.1 L915.1,1334.8 L893.7,1318.1 L872.6,1300.8 L851.6,1283.1 L830.9,1264.8 L810.4,1246.1 L790.1,1226.9 L770,1207.1 L750.1,1186.9 L730.3,1166.3 L710.7,1145.1 L691.3,1123.4 L672,1101.3 L652.9,1078.7 M1072,1437.4 L1095.2,1434.6 L1118.1,1431.7 L1140.6,1429 L1162.8,1426.2 L1184.6,1423.5 L1206.1,1420.9 L1227.3,1418.3 L1248.2,1415.7 L1268.7,1413.1 L1289,1410.6 L1308.9,1408.2 L1328.6,1405.8 L1348,1403.4 L1367,1401 L1385.9,1398.7 L1404.4,1396.4 L1422.7,1394.1 L1440.8,1391.9 L1458.5,1389.7 L1476.1,1387.6 M1095.2,1434.6 L1072,1421.6 L1049,1408.2 L1026.4,1394.1 L1004,1379.6 L981.9,1364.5 L960.1,1349 L938.5,1332.9 L917.2,1316.2 L896,1299.1 L875.2,1281.5 L854.5,1263.4 L834,1244.8 L813.7,1225.7 L793.6,1206.2 L773.7,1186.1 L754,1165.6 L734.4,1144.6 L715,1123.1 L695.7,1101.1 L676.6,1078.7 M1048.7,1424.4 L1072,1421.6 L1094.9,1418.9 L1117.4,1416.3 L1139.7,1413.6 L1161.5,1411.1 L1183.1,1408.5 L1204.3,1406 L1225.2,1403.5 L1245.8,1401.1 L1266.1,1398.7 L1286.1,1396.4 L1305.8,1394 L1325.2,1391.7 L1344.3,1389.5 L1363.2,1387.3 L1381.8,1385.1 L1400.1,1382.9 L1418.2,1380.8 L1436.1,1378.7 L1453.7,1376.6 M1118.1,1431.7 L1094.9,1418.9 L1072,1405.6 L1049.4,1391.7 L1027,1377.3 L1005,1362.3 L983.1,1346.9 L961.6,1330.9 L940.3,1314.4 L919.2,1297.5 L898.3,1280 L877.7,1262 L857.2,1243.6 L837,1224.7 L816.9,1205.2 L797,1185.3 L777.3,1165 L757.8,1144.1 L738.4,1122.8 L719.2,1101 L700.1,1078.7 M1025.7,1410.8 L1049,1408.2 L1072,1405.6 L1094.6,1403 L1116.8,1400.5 L1138.7,1398.1 L1160.3,1395.6 L1181.5,1393.2 L1202.5,1390.9 L1223.1,1388.6 L1243.4,1386.3 L1263.5,1384 L1283.2,1381.8 L1302.7,1379.6 L1321.9,1377.4 L1340.8,1375.3 L1359.5,1373.2 L1377.8,1371.2 L1396,1369.1 L1413.9,1367.1 L1431.5,1365.1 M1140.6,1429 L1117.4,1416.3 L1094.6,1403 L1072,1389.3 L1049.7,1375 L1027.6,1360.2 L1005.9,1344.8 L984.3,1329 L963,1312.7 L942,1295.8 L921.1,1278.5 L900.5,1260.7 L880.1,1242.4 L859.9,1223.6 L839.8,1204.3 L820,1184.5 L800.3,1164.3 L780.8,1143.6 L761.4,1122.4 L742.2,1100.8 L723.2,1078.7 M1003.1,1396.6 L1026.4,1394.1 L1049.4,1391.7 L1072,1389.3 L1094.3,1386.9 L1116.2,1384.5 L1137.8,1382.2 L1159.1,1379.9 L1180.1,1377.7 L1200.7,1375.5 L1221.1,1373.3 L1241.2,1371.2 L1261,1369 L1280.5,1367 L1299.7,1364.9 L1318.7,1362.9 L1337.4,1360.9 L1355.8,1358.9 L1374,1357 L1392,1355 L1409.7,1353.1 M1162.8,1426.2 L1139.7,1413.6 L1116.8,1400.5 L1094.3,1386.9 L1072,1372.7 L1050,1358 L1028.2,1342.8 L1006.7,1327.1 L985.5,1310.9 L964.4,1294.2 L943.6,1277 L923,1259.3 L902.6,1241.2 L882.5,1222.5 L862.5,1203.4 L842.6,1183.8 L823,1163.7 L803.5,1143.1 L784.2,1122.1 L765,1100.6 L746,1078.6 M980.7,1382 L1004,1379.6 L1027,1377.3 L1049.7,1375 L1072,1372.7 L1094,1370.5 L1115.6,1368.3 L1136.9,1366.1 L1157.9,1364 L1178.7,1361.9 L1199.1,1359.8 L1219.2,1357.8 L1239,1355.8 L1258.6,1353.8 L1277.8,1351.9 L1296.9,1349.9 L1315.6,1348 L1334.1,1346.2 L1352.3,1344.3 L1370.3,1342.5 L1388.1,1340.7 M1184.6,1423.5 L1161.5,1411.1 L1138.7,1398.1 L1116.2,1384.5 L1094,1370.5 L1072,1355.9 L1050.3,1340.9 L1028.8,1325.3 L1007.6,1309.2 L986.6,1292.6 L965.8,1275.6 L945.2,1258 L924.9,1240 L904.7,1221.5 L884.7,1202.5 L865,1183 L845.3,1163.1 L825.9,1142.7 L806.6,1121.8 L787.5,1100.4 L768.5,1078.6 M958.5,1366.8 L981.9,1364.5 L1005,1362.3 L1027.6,1360.2 L1050,1358 L1072,1355.9 L1093.7,1353.9 L1115,1351.8 L1136.1,1349.8 L1156.8,1347.8 L1177.3,1345.9 L1197.4,1343.9 L1217.3,1342 L1236.9,1340.2 L1256.2,1338.3 L1275.3,1336.5 L1294.1,1334.7 L1312.6,1332.9 L1330.9,1331.2 L1348.9,1329.4 L1366.7,1327.7 M1206.1,1420.9 L1183.1,1408.5 L1160.3,1395.6 L1137.8,1382.2 L1115.6,1368.3 L1093.7,1353.9 L1072,1338.9 L1050.5,1323.5 L1029.4,1307.5 L1008.4,1291.1 L987.6,1274.1 L967.1,1256.7 L946.8,1238.8 L926.7,1220.4 L906.7,1201.6 L887,1182.3 L867.4,1162.5 L848,1142.2 L828.7,1121.5 L809.6,1100.3 L790.6,1078.6 M936.7,1351.1 L960.1,1349 L983.1,1346.9 L1005.9,1344.8 L1028.2,1342.8 L1050.3,1340.9 L1072,1338.9 L1093.4,1337 L1114.5,1335.1 L1135.3,1333.2 L1155.7,1331.4 L1175.9,1329.6 L1195.9,1327.8 L1215.5,1326 L1234.9,1324.3 L1253.9,1322.6 L1272.8,1320.9 L1291.4,1319.2 L1309.7,1317.6 L1327.8,1315.9 L1345.6,1314.3 M1227.3,1418.3 L1204.3,1406 L1181.5,1393.2 L1159.1,1379.9 L1136.9,1366.1 L1115,1351.8 L1093.4,1337 L1072,1321.7 L1050.8,1305.8 L1029.9,1289.5 L1009.2,1272.7 L988.7,1255.4 L968.4,1237.7 L948.3,1219.4 L928.4,1200.7 L908.7,1181.5 L889.1,1161.8 L869.7,1141.7 L850.5,1121.1 L831.4,1100.1 L812.5,1078.6 M915.1,1334.8 L938.5,1332.9 L961.6,1330.9 L984.3,1329 L1006.7,1327.1 L1028.8,1325.3 L1050.5,1323.5 L1072,1321.7 L1093.1,1319.9 L1113.9,1318.1 L1134.5,1316.4 L1154.7,1314.7 L1174.6,1313 L1194.3,1311.4 L1213.7,1309.8 L1232.9,1308.1 L1251.7,1306.6 L1270.4,1305 L1288.7,1303.5 L1306.9,1301.9 L1324.8,1300.4 M1248.2,1415.7 L1225.2,1403.5 L1202.5,1390.9 L1180.1,1377.7 L1157.9,1364 L1136.1,1349.8 L1114.5,1335.1 L1093.1,1319.9 L1072,1304.2 L1051.1,1288 L1030.4,1271.3 L1009.9,1254.2 L989.7,1236.5 L969.6,1218.4 L949.8,1199.8 L930.1,1180.8 L910.5,1161.3 L891.2,1141.3 L872,1120.8 L853,1099.9 L834.1,1078.6 M893.7,1318.1 L917.2,1316.2 L940.3,1314.4 L963,1312.7 L985.5,1310.9 L1007.6,1309.2 L1029.4,1307.5 L1050.8,1305.8 L1072,1304.2 L1092.8,1302.6 L1113.4,1300.9 L1133.7,1299.4 L1153.7,1297.8 L1173.4,1296.3 L1192.8,1294.8 L1212,1293.3 L1230.9,1291.8 L1249.6,1290.3 L1268,1288.9 L1286.2,1287.5 L1304.1,1286.1 M1268.7,1413.1 L1245.8,1401.1 L1223.1,1388.6 L1200.7,1375.5 L1178.7,1361.9 L1156.8,1347.8 L1135.3,1333.2 L1113.9,1318.1 L1092.8,1302.6 L1072,1286.5 L1051.3,1269.9 L1030.9,1252.9 L1010.7,1235.4 L990.7,1217.4 L970.8,1199 L951.2,1180.1 L931.7,1160.7 L912.4,1140.8 L893.2,1120.5 L874.2,1099.8 L855.4,1078.5 M872.6,1300.8 L896,1299.1 L919.2,1297.5 L942,1295.8 L964.4,1294.2 L986.6,1292.6 L1008.4,1291.1 L1029.9,1289.5 L1051.1,1288 L1072,1286.5 L1092.6,1285 L1112.9,1283.5 L1132.9,1282.1 L1152.7,1280.7 L1172.2,1279.3 L1191.4,1277.9 L1210.4,1276.5 L1229.1,1275.2 L1247.5,1273.9 L1265.8,1272.5 L1283.7,1271.2 M1289,1410.6 L1266.1,1398.7 L1243.4,1386.3 L1221.1,1373.3 L1199.1,1359.8 L1177.3,1345.9 L1155.7,1331.4 L1134.5,1316.4 L1113.4,1300.9 L1092.6,1285 L1072,1268.6 L1051.6,1251.7 L1031.4,1234.3 L1011.4,1216.4 L991.6,1198.1 L972,1179.3 L952.5,1160.1 L933.3,1140.4 L914.2,1120.2 L895.2,1099.6 L876.4,1078.5 M851.6,1283.1 L875.2,1281.5 L898.3,1280 L921.1,1278.5 L943.6,1277 L965.8,1275.6 L987.6,1274.1 L1009.2,1272.7 L1030.4,1271.3 L1051.3,1269.9 L1072,1268.6 L1092.3,1267.2 L1112.4,1265.9 L1132.2,1264.6 L1151.7,1263.3 L1171,1262.1 L1190,1260.8 L1208.8,1259.6 L1227.3,1258.3 L1245.5,1257.1 L1263.5,1256 M1308.9,1408.2 L1286.1,1396.4 L1263.5,1384 L1241.2,1371.2 L1219.2,1357.8 L1197.4,1343.9 L1175.9,1329.6 L1154.7,1314.7 L1133.7,1299.4 L1112.9,1283.5 L1092.3,1267.2 L1072,1250.5 L1051.8,1233.2 L1031.9,1215.5 L1012.1,1197.3 L992.5,1178.6 L973.1,1159.5 L953.9,1139.9 L934.8,1119.9 L915.9,1099.4 L897.1,1078.5 M830.9,1264.8 L854.5,1263.4 L877.7,1262 L900.5,1260.7 L923,1259.3 L945.2,1258 L967.1,1256.7 L988.7,1255.4 L1009.9,1254.2 L1030.9,1252.9 L1051.6,1251.7 L1072,1250.5 L1092.1,1249.3 L1111.9,1248.1 L1131.5,1246.9 L1150.8,1245.7 L1169.8,1244.6 L1188.6,1243.5 L1207.2,1242.4 L1225.5,1241.3 L1243.6,1240.2 M1328.6,1405.8 L1305.8,1394 L1283.2,1381.8 L1261,1369 L1239,1355.8 L1217.3,1342 L1195.9,1327.8 L1174.6,1313 L1153.7,1297.8 L1132.9,1282.1 L1112.4,1265.9 L1092.1,1249.3 L1072,1232.1 L1052.1,1214.5 L1032.3,1196.5 L1012.8,1177.9 L993.4,1159 L974.2,1139.5 L955.2,1119.6 L936.3,1099.3 L917.6,1078.5 M810.4,1246.1 L834,1244.8 L857.2,1243.6 L880.1,1242.4 L902.6,1241.2 L924.9,1240 L946.8,1238.8 L968.4,1237.7 L989.7,1236.5 L1010.7,1235.4 L1031.4,1234.3 L1051.8,1233.2 L1072,1232.1 L1091.9,1231.1 L1111.5,1230 L1130.8,1229 L1149.9,1228 L1168.7,1227 L1187.3,1226 L1205.7,1225 L1223.8,1224 M1348,1403.4 L1325.2,1391.7 L1302.7,1379.6 L1280.5,1367 L1258.6,1353.8 L1236.9,1340.2 L1215.5,1326 L1194.3,1311.4 L1173.4,1296.3 L1152.7,1280.7 L1132.2,1264.6 L1111.9,1248.1 L1091.9,1231.1 L1072,1213.6 L1052.3,1195.7 L1032.8,1177.3 L1013.5,1158.4 L994.3,1139.1 L975.3,1119.3 L956.4,1099.1 L937.7,1078.4 M790.1,1226.9 L813.7,1225.7 L837,1224.7 L859.9,1223.6 L882.5,1222.5 L904.7,1221.5 L926.7,1220.4 L948.3,1219.4 L969.6,1218.4 L990.7,1217.4 L1011.4,1216.4 L1031.9,1215.5 L1052.1,1214.5 L1072,1213.6 L1091.6,1212.7 L1111,1211.7 L1130.1,1210.8 L1149,1210 L1167.7,1209.1 L1186,1208.2 L1204.2,1207.4 M1367,1401 L1344.3,1389.5 L1321.9,1377.4 L1299.7,1364.9 L1277.8,1351.9 L1256.2,1338.3 L1234.9,1324.3 L1213.7,1309.8 L1192.8,1294.8 L1172.2,1279.3 L1151.7,1263.3 L1131.5,1246.9 L1111.5,1230 L1091.6,1212.7 L1072,1194.8 L1052.5,1176.6 L1033.2,1157.9 L1014.1,1138.7 L995.1,1119 L976.3,1099 L957.7,1078.4 M770,1207.1 L793.6,1206.2 L816.9,1205.2 L839.8,1204.3 L862.5,1203.4 L884.7,1202.5 L906.7,1201.6 L928.4,1200.7 L949.8,1199.8 L970.8,1199 L991.6,1198.1 L1012.1,1197.3 L1032.3,1196.5 L1052.3,1195.7 L1072,1194.8 L1091.4,1194.1 L1110.6,1193.3 L1129.5,1192.5 L1148.2,1191.7 L1166.6,1191 L1184.8,1190.3 M1385.9,1398.7 L1363.2,1387.3 L1340.8,1375.3 L1318.7,1362.9 L1296.9,1349.9 L1275.3,1336.5 L1253.9,1322.6 L1232.9,1308.1 L1212,1293.3 L1191.4,1277.9 L1171,1262.1 L1150.8,1245.7 L1130.8,1229 L1111,1211.7 L1091.4,1194.1 L1072,1175.9 L1052.7,1157.3 L1033.6,1138.3 L1014.7,1118.8 L996,1098.8 L977.3,1078.4 M750.1,1186.9 L773.7,1186.1 L797,1185.3 L820,1184.5 L842.6,1183.8 L865,1183 L887,1182.3 L908.7,1181.5 L930.1,1180.8 L951.2,1180.1 L972,1179.3 L992.5,1178.6 L1012.8,1177.9 L1032.8,1177.3 L1052.5,1176.6 L1072,1175.9 L1091.2,1175.3 L1110.2,1174.6 L1128.9,1174 L1147.3,1173.3 L1165.6,1172.7 M1404.4,1396.4 L1381.8,1385.1 L1359.5,1373.2 L1337.4,1360.9 L1315.6,1348 L1294.1,1334.7 L1272.8,1320.9 L1251.7,1306.6 L1230.9,1291.8 L1210.4,1276.5 L1190,1260.8 L1169.8,1244.6 L1149.9,1228 L1130.1,1210.8 L1110.6,1193.3 L1091.2,1175.3 L1072,1156.8 L1052.9,1137.9 L1034.1,1118.5 L1015.3,1098.7 L996.8,1078.4 M730.3,1166.3 L754,1165.6 L777.3,1165 L800.3,1164.3 L823,1163.7 L845.3,1163.1 L867.4,1162.5 L889.1,1161.8 L910.5,1161.3 L931.7,1160.7 L952.5,1160.1 L973.1,1159.5 L993.4,1159 L1013.5,1158.4 L1033.2,1157.9 L1052.7,1157.3 L1072,1156.8 L1091,1156.3 L1109.7,1155.7 L1128.3,1155.2 L1146.5,1154.7 M1422.7,1394.1 L1400.1,1382.9 L1377.8,1371.2 L1355.8,1358.9 L1334.1,1346.2 L1312.6,1332.9 L1291.4,1319.2 L1270.4,1305 L1249.6,1290.3 L1229.1,1275.2 L1208.8,1259.6 L1188.6,1243.5 L1168.7,1227 L1149,1210 L1129.5,1192.5 L1110.2,1174.6 L1091,1156.3 L1072,1137.4 L1053.1,1118.2 L1034.5,1098.5 L1015.9,1078.4 M710.7,1145.1 L734.4,1144.6 L757.8,1144.1 L780.8,1143.6 L803.5,1143.1 L825.9,1142.7 L848,1142.2 L869.7,1141.7 L891.2,1141.3 L912.4,1140.8 L933.3,1140.4 L953.9,1139.9 L974.2,1139.5 L994.3,1139.1 L1014.1,1138.7 L1033.6,1138.3 L1052.9,1137.9 L1072,1137.4 L1090.8,1137.1 L1109.3,1136.7 L1127.7,1136.3 M1440.8,1391.9 L1418.2,1380.8 L1396,1369.1 L1374,1357 L1352.3,1344.3 L1330.9,1331.2 L1309.7,1317.6 L1288.7,1303.5 L1268,1288.9 L1247.5,1273.9 L1227.3,1258.3 L1207.2,1242.4 L1187.3,1226 L1167.7,1209.1 L1148.2,1191.7 L1128.9,1174 L1109.7,1155.7 L1090.8,1137.1 L1072,1117.9 L1053.3,1098.4 L1034.8,1078.4 M691.3,1123.4 L715,1123.1 L738.4,1122.8 L761.4,1122.4 L784.2,1122.1 L806.6,1121.8 L828.7,1121.5 L850.5,1121.1 L872,1120.8 L893.2,1120.5 L914.2,1120.2 L934.8,1119.9 L955.2,1119.6 L975.3,1119.3 L995.1,1119 L1014.7,1118.8 L1034.1,1118.5 L1053.1,1118.2 L1072,1117.9 L1090.6,1117.7 L1108.9,1117.4 M1458.5,1389.7 L1436.1,1378.7 L1413.9,1367.1 L1392,1355 L1370.3,1342.5 L1348.9,1329.4 L1327.8,1315.9 L1306.9,1301.9 L1286.2,1287.5 L1265.8,1272.5 L1245.5,1257.1 L1225.5,1241.3 L1205.7,1225 L1186,1208.2 L1166.6,1191 L1147.3,1173.3 L1128.3,1155.2 L1109.3,1136.7 L1090.6,1117.7 L1072,1098.2 L1053.5,1078.3 M672,1101.3 L695.7,1101.1 L719.2,1101 L742.2,1100.8 L765,1100.6 L787.5,1100.4 L809.6,1100.3 L831.4,1100.1 L853,1099.9 L874.2,1099.8 L895.2,1099.6 L915.9,1099.4 L936.3,1099.3 L956.4,1099.1 L976.3,1099 L996,1098.8 L1015.3,1098.7 L1034.5,1098.5 L1053.3,1098.4 L1072,1098.2 L1090.4,1098.1 M1476.1,1387.6 L1453.7,1376.6 L1431.5,1365.1 L1409.7,1353.1 L1388.1,1340.7 L1366.7,1327.7 L1345.6,1314.3 L1324.8,1300.4 L1304.1,1286.1 L1283.7,1271.2 L1263.5,1256 L1243.6,1240.2 L1223.8,1224 L1204.2,1207.4 L1184.8,1190.3 L1165.6,1172.7 L1146.5,1154.7 L1127.7,1136.3 L1108.9,1117.4 L1090.4,1098.1 L1072,1078.3 M652.9,1078.7 L676.6,1078.7 L700.1,1078.7 L723.2,1078.7 L746,1078.6 L768.5,1078.6 L790.6,1078.6 L812.5,1078.6 L834.1,1078.6 L855.4,1078.5 L876.4,1078.5 L897.1,1078.5 L917.6,1078.5 L937.7,1078.4 L957.7,1078.4 L977.3,1078.4 L996.8,1078.4 L1015.9,1078.4 L1034.8,1078.4 L1053.5,1078.3 L1072,1078.3" fill="none" stroke="#000" stroke-width="2" stroke-linejoin="round" stroke-linecap="round"/>
<line x1="652.5" y1="1070.6" x2="652.9" y2="1078.7" stroke="#000" stroke-width="1"/><ellipse cx="652.5" cy="1070.6" rx="7.8" ry="7.8" fill="#b20000" stroke="#000" stroke-width="1.3"/>
<line x1="1072" y1="1251.6" x2="1072" y2="1268.6" stroke="#000" stroke-width="1"/><ellipse cx="1072" cy="1251.6" rx="7.8" ry="7.8" fill="#b20000" stroke="#000" stroke-width="1.3"/>
<ellipse cx="1476.2" cy="1385.8" rx="7.8" ry="7.8" fill="#b20000" stroke="#000" stroke-width="1.3"/>
<ellipse cx="1289.1" cy="1407.5" rx="7.8" ry="7.8" fill="#b20000" stroke="#000" stroke-width="1.3"/>
<text transform="translate(657.4 1473.2) scale(1.1145 1.0924)" font-size="23.4" text-anchor="end">10</text>
<text transform="translate(652.4 1370.5) scale(1.1145 1.0924)" font-size="23.4" text-anchor="end">20</text>
<text transform="translate(647.4 1267.8) scale(1.1145 1.0924)" font-size="23.4" text-anchor="end">30</text>
<text transform="translate(642.4 1165.1) scale(1.1145 1.0924)" font-size="23.4" text-anchor="end">40</text>
<text transform="translate(637.5 1062.4) scale(1.1145 1.0924)" font-size="23.4" text-anchor="end">50</text>
<text transform="translate(1056.9 1821) scale(1.1145 1.0924)" font-size="23.4" text-anchor="end">100</text>
<text transform="translate(1088.1 1821) scale(1.1145 1.0924)" font-size="23.4" text-anchor="start">2</text>
<text transform="translate(958.5 1773.8) scale(1.1145 1.0924)" font-size="23.4" text-anchor="end">150</text>
<text transform="translate(1186.5 1773.8) scale(1.1145 1.0924)" font-size="23.4" text-anchor="start">3</text>
<text transform="translate(860.2 1726.6) scale(1.1145 1.0924)" font-size="23.4" text-anchor="end">200</text>
<text transform="translate(1284.9 1726.6) scale(1.1145 1.0924)" font-size="23.4" text-anchor="start">4</text>
<text transform="translate(761.8 1679.3) scale(1.1145 1.0924)" font-size="23.4" text-anchor="end">250</text>
<text transform="translate(1383.2 1679.3) scale(1.1145 1.0924)" font-size="23.4" text-anchor="start">5</text>
<text transform="translate(663.4 1632.1) scale(1.1145 1.0924)" font-size="23.4" text-anchor="end">300</text>
<text transform="translate(1481.6 1632.1) scale(1.1145 1.0924)" font-size="23.4" text-anchor="start">6</text>
<text class="at" transform="translate(539.1 1512.5) rotate(-90) scale(1.0432 1.0926)" font-size="34" text-anchor="start">Thermal efficiency (%)</text>
<text class="at" transform="translate(543.8 1786.4) scale(1.0555 1.0924)" font-size="33" text-anchor="start">B: Microwave power (W)</text>
<text class="at" transform="translate(1286 1786.4) scale(1.0555 1.0924)" font-size="33" text-anchor="start">A: Thickness (mm)</text>
<text transform="translate(785.5 1891.4)" font-size="54.2" text-anchor="start">c) Blanching pretreatments</text>
</svg>
</body></html>
